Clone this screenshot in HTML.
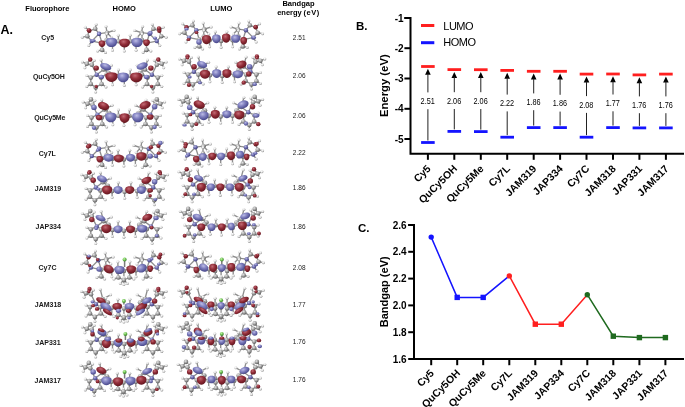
<!DOCTYPE html>
<html><head><meta charset="utf-8"><title>Figure</title>
<style>
html,body{margin:0;padding:0;background:#fff;}
body{width:685px;height:407px;overflow:hidden;position:relative;font-family:"Liberation Sans", sans-serif;}
</style></head><body>
<svg width="685" height="407" viewBox="0 0 685 407" style="position:absolute;left:0;top:0;will-change:transform">
<defs>
<radialGradient id="gr" cx="40%" cy="32%" r="70%"><stop offset="0" stop-color="#c26a74"/><stop offset="0.45" stop-color="#94303b"/><stop offset="1" stop-color="#62141d"/></radialGradient>
<radialGradient id="gb" cx="40%" cy="32%" r="70%"><stop offset="0" stop-color="#bcbce6"/><stop offset="0.45" stop-color="#7e7ebe"/><stop offset="1" stop-color="#454588"/></radialGradient>
<radialGradient id="gc" cx="38%" cy="32%" r="70%"><stop offset="0" stop-color="#e6e6e6"/><stop offset="0.5" stop-color="#a2a2a2"/><stop offset="1" stop-color="#555555"/></radialGradient>
<radialGradient id="gh" cx="38%" cy="32%" r="70%"><stop offset="0" stop-color="#ffffff"/><stop offset="0.55" stop-color="#dedede"/><stop offset="1" stop-color="#8a8a8a"/></radialGradient>
<radialGradient id="go" cx="38%" cy="32%" r="70%"><stop offset="0" stop-color="#c06070"/><stop offset="0.5" stop-color="#8c2c36"/><stop offset="1" stop-color="#5a0f18"/></radialGradient>
<radialGradient id="gn" cx="38%" cy="32%" r="70%"><stop offset="0" stop-color="#b8b8e4"/><stop offset="0.5" stop-color="#7070b0"/><stop offset="1" stop-color="#3a3a7a"/></radialGradient>
<filter id="soft" x="-5%" y="-5%" width="110%" height="110%"><feGaussianBlur stdDeviation="0.35"/></filter>
<radialGradient id="gg" cx="38%" cy="32%" r="70%"><stop offset="0" stop-color="#c8f8b0"/><stop offset="0.5" stop-color="#72c456"/><stop offset="1" stop-color="#3a7a2a"/></radialGradient>
</defs>
<g font-family='"Liberation Sans", sans-serif' fill="#000">
<text x="0.5" y="34.2" font-size="12.5" font-weight="bold">A.</text>
<text x="25.3" y="10.8" font-size="7.5" font-weight="bold">Fluorophore</text>
<text x="112.6" y="10.9" font-size="7.5" font-weight="bold">HOMO</text>
<text x="210.2" y="10.9" font-size="7.5" font-weight="bold">LUMO</text>
<text x="282.4" y="5.8" font-size="7.5" font-weight="bold">Bandgap</text>
<text x="277.2" y="14.8" font-size="7.5" font-weight="bold">energy<tspan x="303.4" letter-spacing="0.6">(eV)</tspan></text>
<text x="47.65" y="40.4" font-size="7" font-weight="bold" text-anchor="middle" fill="#1a1a1a">Cy5</text>
<text x="48.9" y="79.3" font-size="7" font-weight="bold" text-anchor="middle" fill="#1a1a1a" letter-spacing="-0.2">QuCy5OH</text>
<text x="49.75" y="119.8" font-size="7" font-weight="bold" text-anchor="middle" fill="#1a1a1a" letter-spacing="-0.2">QuCy5Me</text>
<text x="47.3" y="155.6" font-size="7" font-weight="bold" text-anchor="middle" fill="#1a1a1a">Cy7L</text>
<text x="48" y="190.9" font-size="7" font-weight="bold" text-anchor="middle" fill="#1a1a1a">JAM319</text>
<text x="48.25" y="229.3" font-size="7" font-weight="bold" text-anchor="middle" fill="#1a1a1a">JAP334</text>
<text x="47.5" y="269.6" font-size="7" font-weight="bold" text-anchor="middle" fill="#1a1a1a">Cy7C</text>
<text x="48" y="307.4" font-size="7" font-weight="bold" text-anchor="middle" fill="#1a1a1a">JAM318</text>
<text x="48" y="344.5" font-size="7" font-weight="bold" text-anchor="middle" fill="#1a1a1a">JAP331</text>
<text x="47.75" y="383.4" font-size="7" font-weight="bold" text-anchor="middle" fill="#1a1a1a">JAM317</text>
<text x="299.2" y="39.7" font-size="6.5" text-anchor="middle" fill="#222">2.51</text>
<text x="299.2" y="77.8" font-size="6.5" text-anchor="middle" fill="#222">2.06</text>
<text x="299.2" y="118.4" font-size="6.5" text-anchor="middle" fill="#222">2.06</text>
<text x="299.2" y="155.3" font-size="6.5" text-anchor="middle" fill="#222">2.22</text>
<text x="299.2" y="190.2" font-size="6.5" text-anchor="middle" fill="#222">1.86</text>
<text x="299.2" y="228.9" font-size="6.5" text-anchor="middle" fill="#222">1.86</text>
<text x="299.2" y="269.5" font-size="6.5" text-anchor="middle" fill="#222">2.08</text>
<text x="299.2" y="307.0" font-size="6.5" text-anchor="middle" fill="#222">1.77</text>
<text x="299.2" y="344.0" font-size="6.5" text-anchor="middle" fill="#222">1.76</text>
<text x="299.2" y="382.1" font-size="6.5" text-anchor="middle" fill="#222">1.76</text>
</g>
<g filter="url(#soft)">
<path d="M85.4 27.3L89.3 30.8M89.3 30.8L87.3 36.2M87.3 36.2L82.4 37.2M89.3 30.8L95.2 28.8M95.2 28.8L96.2 24.4M95.2 28.8L99.1 33.7M87.3 36.2L91.8 41.1M91.8 41.1L88.8 45.5M99.1 33.7L91.8 41.1M99.1 33.7L107.0 32.7M107.0 32.7L106.0 26.5M107.0 32.7L114.0 30.5M91.8 41.1L102.1 43.1M99.1 33.7L102.1 43.1M102.1 43.1L102.1 49.9M102.1 49.9L97.7 50.9M102.1 49.9L105.5 52.4M107.0 32.7L111.6 37.5M163.2 27.3L159.3 30.8M159.3 30.8L161.3 36.2M161.3 36.2L166.2 37.2M159.3 30.8L153.4 28.8M153.4 28.8L152.4 24.4M153.4 28.8L149.5 33.7M161.3 36.2L156.8 41.1M156.8 41.1L159.8 45.5M149.5 33.7L156.8 41.1M149.5 33.7L141.6 32.7M141.6 32.7L142.6 26.5M141.6 32.7L134.6 30.5M156.8 41.1L146.5 43.1M149.5 33.7L146.5 43.1M146.5 43.1L146.5 49.9M146.5 49.9L150.9 50.9M146.5 49.9L143.1 52.4M141.6 32.7L137.0 37.5M106.6 40.0L106.6 34.0M112.5 43.8L112.5 50.3M118.4 41.3L118.4 35.3M124.3 44.5L124.3 51.0M130.2 41.3L130.2 35.3M136.1 43.8L136.1 50.3M142.0 40.0L142.0 34.0M106.6 40.0L112.5 43.8M112.5 43.8L118.4 41.3M118.4 41.3L124.3 44.5M124.3 44.5L130.2 41.3M130.2 41.3L136.1 43.8M136.1 43.8L142.0 40.0" stroke="#8e8e8e" stroke-width="1.35" fill="none" stroke-linecap="round"/>
<circle cx="85.4" cy="27.3" r="1.5" fill="url(#gh)"/>
<circle cx="89.3" cy="30.8" r="2.2" fill="url(#go)"/>
<circle cx="87.3" cy="36.2" r="2.3" fill="url(#gc)"/>
<circle cx="82.4" cy="37.2" r="1.5" fill="url(#gh)"/>
<circle cx="95.2" cy="28.8" r="2.3" fill="url(#gc)"/>
<circle cx="96.2" cy="24.4" r="1.5" fill="url(#gh)"/>
<circle cx="99.1" cy="33.7" r="2.2" fill="url(#gn)"/>
<circle cx="91.8" cy="41.1" r="2.2" fill="url(#gn)"/>
<circle cx="88.8" cy="45.5" r="1.5" fill="url(#gh)"/>
<circle cx="107.0" cy="32.7" r="2.3" fill="url(#gc)"/>
<circle cx="106.0" cy="26.5" r="1.5" fill="url(#gh)"/>
<circle cx="114.0" cy="30.5" r="1.5" fill="url(#gh)"/>
<circle cx="102.1" cy="43.1" r="2.3" fill="url(#gc)"/>
<circle cx="102.1" cy="49.9" r="2.3" fill="url(#gc)"/>
<circle cx="97.7" cy="50.9" r="1.5" fill="url(#gh)"/>
<circle cx="105.5" cy="52.4" r="1.5" fill="url(#gh)"/>
<circle cx="111.6" cy="37.5" r="1.5" fill="url(#gh)"/>
<circle cx="163.2" cy="27.3" r="1.5" fill="url(#gh)"/>
<circle cx="159.3" cy="30.8" r="2.2" fill="url(#go)"/>
<circle cx="161.3" cy="36.2" r="2.3" fill="url(#gc)"/>
<circle cx="166.2" cy="37.2" r="1.5" fill="url(#gh)"/>
<circle cx="153.4" cy="28.8" r="2.3" fill="url(#gc)"/>
<circle cx="152.4" cy="24.4" r="1.5" fill="url(#gh)"/>
<circle cx="149.5" cy="33.7" r="2.2" fill="url(#gn)"/>
<circle cx="156.8" cy="41.1" r="2.2" fill="url(#gn)"/>
<circle cx="159.8" cy="45.5" r="1.5" fill="url(#gh)"/>
<circle cx="141.6" cy="32.7" r="2.3" fill="url(#gc)"/>
<circle cx="142.6" cy="26.5" r="1.5" fill="url(#gh)"/>
<circle cx="134.6" cy="30.5" r="1.5" fill="url(#gh)"/>
<circle cx="146.5" cy="43.1" r="2.3" fill="url(#gc)"/>
<circle cx="146.5" cy="49.9" r="2.3" fill="url(#gc)"/>
<circle cx="150.9" cy="50.9" r="1.5" fill="url(#gh)"/>
<circle cx="143.1" cy="52.4" r="1.5" fill="url(#gh)"/>
<circle cx="137.0" cy="37.5" r="1.5" fill="url(#gh)"/>
<circle cx="106.6" cy="40.0" r="2.3" fill="url(#gc)"/>
<circle cx="106.6" cy="34.0" r="1.5" fill="url(#gh)"/>
<circle cx="112.5" cy="43.8" r="2.3" fill="url(#gc)"/>
<circle cx="112.5" cy="50.3" r="1.5" fill="url(#gh)"/>
<circle cx="118.4" cy="41.3" r="2.3" fill="url(#gc)"/>
<circle cx="118.4" cy="35.3" r="1.5" fill="url(#gh)"/>
<circle cx="124.3" cy="44.5" r="2.3" fill="url(#gc)"/>
<circle cx="124.3" cy="51.0" r="1.5" fill="url(#gh)"/>
<circle cx="130.2" cy="41.3" r="2.3" fill="url(#gc)"/>
<circle cx="130.2" cy="35.3" r="1.5" fill="url(#gh)"/>
<circle cx="136.1" cy="43.8" r="2.3" fill="url(#gc)"/>
<circle cx="136.1" cy="50.3" r="1.5" fill="url(#gh)"/>
<circle cx="142.0" cy="40.0" r="2.3" fill="url(#gc)"/>
<circle cx="142.0" cy="34.0" r="1.5" fill="url(#gh)"/>
<path d="M106.16 39.90C107.44 37.09 115.56 37.09 116.84 39.90C118.00 42.94 115.85 47.05 111.50 47.05C107.15 47.05 105.00 42.94 106.16 39.90Z" fill="url(#gb)"/>
<path d="M119.53 40.82C120.74 38.18 128.46 38.18 129.67 40.82C130.77 43.68 128.73 47.55 124.60 47.55C120.47 47.55 118.43 43.68 119.53 40.82Z" fill="url(#gr)"/>
<path d="M131.66 39.90C132.94 37.09 141.06 37.09 142.34 39.90C143.50 42.94 141.35 47.05 137.00 47.05C132.65 47.05 130.50 42.94 131.66 39.90Z" fill="url(#gb)"/>
<path d="M98.80 42.02C99.56 40.03 104.44 40.03 105.20 42.02C105.90 44.16 104.61 47.06 102.00 47.06C99.39 47.06 98.10 44.16 98.80 42.02Z" fill="url(#gr)"/>
<path d="M143.30 41.02C144.06 39.03 148.94 39.03 149.70 41.02C150.40 43.16 149.11 46.06 146.50 46.06C143.89 46.06 142.60 43.16 143.30 41.02Z" fill="url(#gr)"/>
<ellipse cx="88.9" cy="30.3" rx="2.20" ry="2.16" fill="url(#gr)"/>
<ellipse cx="159.0" cy="28.4" rx="2.20" ry="2.16" fill="url(#gr)"/>
<ellipse cx="99.0" cy="34.0" rx="2.20" ry="1.62" fill="url(#gb)"/>
<ellipse cx="93.0" cy="40.5" rx="2.75" ry="1.62" fill="url(#gb)"/>
<ellipse cx="150.5" cy="33.0" rx="2.20" ry="2.16" fill="url(#gb)"/>
<ellipse cx="155.0" cy="38.0" rx="2.20" ry="1.62" fill="url(#gb)"/>
<path d="M182.6 23.8L186.5 27.3M186.5 27.3L184.5 32.7M184.5 32.7L179.6 33.7M186.5 27.3L192.4 25.3M192.4 25.3L193.4 20.9M192.4 25.3L196.3 30.2M184.5 32.7L189.0 37.6M189.0 37.6L186.0 42.0M196.3 30.2L189.0 37.6M196.3 30.2L204.2 29.2M204.2 29.2L203.2 23.0M204.2 29.2L211.2 27.0M189.0 37.6L199.3 39.6M196.3 30.2L199.3 39.6M199.3 39.6L199.3 46.4M199.3 46.4L194.9 47.4M199.3 46.4L202.7 48.9M204.2 29.2L208.8 34.0M259.6 23.8L255.7 27.3M255.7 27.3L257.7 32.7M257.7 32.7L262.6 33.7M255.7 27.3L249.8 25.3M249.8 25.3L248.8 20.9M249.8 25.3L245.9 30.2M257.7 32.7L253.2 37.6M253.2 37.6L256.2 42.0M245.9 30.2L253.2 37.6M245.9 30.2L238.0 29.2M238.0 29.2L239.0 23.0M238.0 29.2L231.0 27.0M253.2 37.6L242.9 39.6M245.9 30.2L242.9 39.6M242.9 39.6L242.9 46.4M242.9 46.4L247.3 47.4M242.9 46.4L239.5 48.9M238.0 29.2L233.4 34.0M203.8 36.5L203.8 30.5M209.6 40.3L209.6 46.8M215.3 37.8L215.3 31.8M221.1 41.0L221.1 47.5M226.9 37.8L226.9 31.8M232.6 40.3L232.6 46.8M238.4 36.5L238.4 30.5M203.8 36.5L209.6 40.3M209.6 40.3L215.3 37.8M215.3 37.8L221.1 41.0M221.1 41.0L226.9 37.8M226.9 37.8L232.6 40.3M232.6 40.3L238.4 36.5" stroke="#8e8e8e" stroke-width="1.35" fill="none" stroke-linecap="round"/>
<circle cx="182.6" cy="23.8" r="1.5" fill="url(#gh)"/>
<circle cx="186.5" cy="27.3" r="2.2" fill="url(#go)"/>
<circle cx="184.5" cy="32.7" r="2.3" fill="url(#gc)"/>
<circle cx="179.6" cy="33.7" r="1.5" fill="url(#gh)"/>
<circle cx="192.4" cy="25.3" r="2.3" fill="url(#gc)"/>
<circle cx="193.4" cy="20.9" r="1.5" fill="url(#gh)"/>
<circle cx="196.3" cy="30.2" r="2.2" fill="url(#gn)"/>
<circle cx="189.0" cy="37.6" r="2.2" fill="url(#gn)"/>
<circle cx="186.0" cy="42.0" r="1.5" fill="url(#gh)"/>
<circle cx="204.2" cy="29.2" r="2.3" fill="url(#gc)"/>
<circle cx="203.2" cy="23.0" r="1.5" fill="url(#gh)"/>
<circle cx="211.2" cy="27.0" r="1.5" fill="url(#gh)"/>
<circle cx="199.3" cy="39.6" r="2.3" fill="url(#gc)"/>
<circle cx="199.3" cy="46.4" r="2.3" fill="url(#gc)"/>
<circle cx="194.9" cy="47.4" r="1.5" fill="url(#gh)"/>
<circle cx="202.7" cy="48.9" r="1.5" fill="url(#gh)"/>
<circle cx="208.8" cy="34.0" r="1.5" fill="url(#gh)"/>
<circle cx="259.6" cy="23.8" r="1.5" fill="url(#gh)"/>
<circle cx="255.7" cy="27.3" r="2.2" fill="url(#go)"/>
<circle cx="257.7" cy="32.7" r="2.3" fill="url(#gc)"/>
<circle cx="262.6" cy="33.7" r="1.5" fill="url(#gh)"/>
<circle cx="249.8" cy="25.3" r="2.3" fill="url(#gc)"/>
<circle cx="248.8" cy="20.9" r="1.5" fill="url(#gh)"/>
<circle cx="245.9" cy="30.2" r="2.2" fill="url(#gn)"/>
<circle cx="253.2" cy="37.6" r="2.2" fill="url(#gn)"/>
<circle cx="256.2" cy="42.0" r="1.5" fill="url(#gh)"/>
<circle cx="238.0" cy="29.2" r="2.3" fill="url(#gc)"/>
<circle cx="239.0" cy="23.0" r="1.5" fill="url(#gh)"/>
<circle cx="231.0" cy="27.0" r="1.5" fill="url(#gh)"/>
<circle cx="242.9" cy="39.6" r="2.3" fill="url(#gc)"/>
<circle cx="242.9" cy="46.4" r="2.3" fill="url(#gc)"/>
<circle cx="247.3" cy="47.4" r="1.5" fill="url(#gh)"/>
<circle cx="239.5" cy="48.9" r="1.5" fill="url(#gh)"/>
<circle cx="233.4" cy="34.0" r="1.5" fill="url(#gh)"/>
<circle cx="203.8" cy="36.5" r="2.3" fill="url(#gc)"/>
<circle cx="203.8" cy="30.5" r="1.5" fill="url(#gh)"/>
<circle cx="209.6" cy="40.3" r="2.3" fill="url(#gc)"/>
<circle cx="209.6" cy="46.8" r="1.5" fill="url(#gh)"/>
<circle cx="215.3" cy="37.8" r="2.3" fill="url(#gc)"/>
<circle cx="215.3" cy="31.8" r="1.5" fill="url(#gh)"/>
<circle cx="221.1" cy="41.0" r="2.3" fill="url(#gc)"/>
<circle cx="221.1" cy="47.5" r="1.5" fill="url(#gh)"/>
<circle cx="226.9" cy="37.8" r="2.3" fill="url(#gc)"/>
<circle cx="226.9" cy="31.8" r="1.5" fill="url(#gh)"/>
<circle cx="232.6" cy="40.3" r="2.3" fill="url(#gc)"/>
<circle cx="232.6" cy="46.8" r="1.5" fill="url(#gh)"/>
<circle cx="238.4" cy="36.5" r="2.3" fill="url(#gc)"/>
<circle cx="238.4" cy="30.5" r="1.5" fill="url(#gh)"/>
<path d="M202.23 37.00C203.25 34.19 209.75 34.19 210.77 37.00C211.70 40.04 209.98 44.15 206.50 44.15C203.02 44.15 201.30 40.04 202.23 37.00Z" fill="url(#gr)"/>
<path d="M212.40 36.42C213.36 33.78 219.44 33.78 220.40 36.42C221.27 39.28 219.66 43.15 216.40 43.15C213.14 43.15 211.53 39.28 212.40 36.42Z" fill="url(#gb)"/>
<path d="M222.20 35.50C223.16 32.69 229.24 32.69 230.20 35.50C231.07 38.54 229.46 42.65 226.20 42.65C222.94 42.65 221.33 38.54 222.20 35.50Z" fill="url(#gr)"/>
<path d="M231.43 36.54C232.45 34.07 238.95 34.07 239.97 36.54C240.90 39.23 239.18 42.85 235.70 42.85C232.22 42.85 230.50 39.23 231.43 36.54Z" fill="url(#gb)"/>
<path d="M240.50 38.77C241.26 36.46 246.14 36.46 246.90 38.77C247.60 41.27 246.31 44.66 243.70 44.66C241.09 44.66 239.80 41.27 240.50 38.77Z" fill="url(#gr)"/>
<ellipse cx="199.0" cy="42.0" rx="2.75" ry="2.70" fill="url(#gb)"/>
<ellipse cx="186.5" cy="29.0" rx="2.20" ry="1.62" fill="url(#gb)"/>
<ellipse cx="196.5" cy="32.5" rx="1.93" ry="1.62" fill="url(#gr)"/>
<ellipse cx="188.5" cy="39.5" rx="1.93" ry="1.62" fill="url(#gr)"/>
<ellipse cx="255.5" cy="27.0" rx="2.20" ry="2.16" fill="url(#gr)"/>
<ellipse cx="254.0" cy="37.5" rx="2.20" ry="1.62" fill="url(#gb)"/>
<path d="M82.4 61.9L86.8 63.8M86.8 63.8L91.8 64.8M86.8 63.8L84.9 67.8M86.8 63.8L90.3 59.4M91.8 64.8L94.2 60.4M91.8 64.8L96.7 74.7M90.8 77.6L90.8 84.0M90.8 84.0L95.7 87.4M95.7 87.4L101.6 84.0M101.6 84.0L101.1 77.6M101.1 77.6L96.7 74.7M96.7 74.7L90.8 77.6M90.8 77.6L86.8 75.6M90.8 84.0L86.8 86.4M95.7 87.4L95.7 91.9M101.6 84.0L106.0 86.9M101.1 77.6L108.6 73.0M103.6 69.5L108.6 73.0M103.6 69.5L101.1 59.9M103.6 69.5L111.4 65.3M96.7 74.7L103.6 69.5M166.2 61.9L161.8 63.8M161.8 63.8L156.8 64.8M161.8 63.8L163.7 67.8M161.8 63.8L158.3 59.4M156.8 64.8L154.4 60.4M156.8 64.8L151.9 74.7M157.8 77.6L157.8 84.0M157.8 84.0L152.9 87.4M152.9 87.4L147.0 84.0M147.0 84.0L147.5 77.6M147.5 77.6L151.9 74.7M151.9 74.7L157.8 77.6M157.8 77.6L161.8 75.6M157.8 84.0L161.8 86.4M152.9 87.4L152.9 91.9M147.0 84.0L142.6 86.9M147.5 77.6L140.0 73.0M145.0 69.5L140.0 73.0M145.0 69.5L147.5 59.9M145.0 69.5L137.2 65.3M151.9 74.7L145.0 69.5M106.6 74.5L106.6 68.5M112.5 78.3L112.5 84.8M118.4 75.8L118.4 69.8M124.3 79.0L124.3 85.5M130.2 75.8L130.2 69.8M136.1 78.3L136.1 84.8M142.0 74.5L142.0 68.5M106.6 74.5L112.5 78.3M112.5 78.3L118.4 75.8M118.4 75.8L124.3 79.0M124.3 79.0L130.2 75.8M130.2 75.8L136.1 78.3M136.1 78.3L142.0 74.5" stroke="#8e8e8e" stroke-width="1.35" fill="none" stroke-linecap="round"/>
<circle cx="86.8" cy="63.8" r="2.3" fill="url(#gc)"/>
<circle cx="91.8" cy="64.8" r="2.3" fill="url(#gc)"/>
<circle cx="90.3" cy="59.4" r="2.2" fill="url(#go)"/>
<circle cx="82.4" cy="61.9" r="1.5" fill="url(#gh)"/>
<circle cx="94.2" cy="60.4" r="1.5" fill="url(#gh)"/>
<circle cx="84.9" cy="67.8" r="1.5" fill="url(#gh)"/>
<circle cx="90.8" cy="77.6" r="2.3" fill="url(#gc)"/>
<circle cx="90.8" cy="84.0" r="2.3" fill="url(#gc)"/>
<circle cx="95.7" cy="87.4" r="2.3" fill="url(#gc)"/>
<circle cx="101.6" cy="84.0" r="2.3" fill="url(#gc)"/>
<circle cx="101.1" cy="77.6" r="2.3" fill="url(#gc)"/>
<circle cx="96.7" cy="74.7" r="2.2" fill="url(#gn)"/>
<circle cx="86.8" cy="75.6" r="1.5" fill="url(#gh)"/>
<circle cx="86.8" cy="86.4" r="1.5" fill="url(#gh)"/>
<circle cx="95.7" cy="91.9" r="1.5" fill="url(#gh)"/>
<circle cx="106.0" cy="86.9" r="1.5" fill="url(#gh)"/>
<circle cx="103.6" cy="69.5" r="2.3" fill="url(#gc)"/>
<circle cx="101.1" cy="59.9" r="1.5" fill="url(#gh)"/>
<circle cx="111.4" cy="65.3" r="1.5" fill="url(#gh)"/>
<circle cx="108.6" cy="73.0" r="2.3" fill="url(#gc)"/>
<circle cx="161.8" cy="63.8" r="2.3" fill="url(#gc)"/>
<circle cx="156.8" cy="64.8" r="2.3" fill="url(#gc)"/>
<circle cx="158.3" cy="59.4" r="2.2" fill="url(#go)"/>
<circle cx="166.2" cy="61.9" r="1.5" fill="url(#gh)"/>
<circle cx="154.4" cy="60.4" r="1.5" fill="url(#gh)"/>
<circle cx="163.7" cy="67.8" r="1.5" fill="url(#gh)"/>
<circle cx="157.8" cy="77.6" r="2.3" fill="url(#gc)"/>
<circle cx="157.8" cy="84.0" r="2.3" fill="url(#gc)"/>
<circle cx="152.9" cy="87.4" r="2.3" fill="url(#gc)"/>
<circle cx="147.0" cy="84.0" r="2.3" fill="url(#gc)"/>
<circle cx="147.5" cy="77.6" r="2.3" fill="url(#gc)"/>
<circle cx="151.9" cy="74.7" r="2.2" fill="url(#gn)"/>
<circle cx="161.8" cy="75.6" r="1.5" fill="url(#gh)"/>
<circle cx="161.8" cy="86.4" r="1.5" fill="url(#gh)"/>
<circle cx="152.9" cy="91.9" r="1.5" fill="url(#gh)"/>
<circle cx="142.6" cy="86.9" r="1.5" fill="url(#gh)"/>
<circle cx="145.0" cy="69.5" r="2.3" fill="url(#gc)"/>
<circle cx="147.5" cy="59.9" r="1.5" fill="url(#gh)"/>
<circle cx="137.2" cy="65.3" r="1.5" fill="url(#gh)"/>
<circle cx="140.0" cy="73.0" r="2.3" fill="url(#gc)"/>
<circle cx="106.6" cy="74.5" r="2.3" fill="url(#gc)"/>
<circle cx="106.6" cy="68.5" r="1.5" fill="url(#gh)"/>
<circle cx="112.5" cy="78.3" r="2.3" fill="url(#gc)"/>
<circle cx="112.5" cy="84.8" r="1.5" fill="url(#gh)"/>
<circle cx="118.4" cy="75.8" r="2.3" fill="url(#gc)"/>
<circle cx="118.4" cy="69.8" r="1.5" fill="url(#gh)"/>
<circle cx="124.3" cy="79.0" r="2.3" fill="url(#gc)"/>
<circle cx="124.3" cy="85.5" r="1.5" fill="url(#gh)"/>
<circle cx="130.2" cy="75.8" r="2.3" fill="url(#gc)"/>
<circle cx="130.2" cy="69.8" r="1.5" fill="url(#gh)"/>
<circle cx="136.1" cy="78.3" r="2.3" fill="url(#gc)"/>
<circle cx="136.1" cy="84.8" r="1.5" fill="url(#gh)"/>
<circle cx="142.0" cy="74.5" r="2.3" fill="url(#gc)"/>
<circle cx="142.0" cy="68.5" r="1.5" fill="url(#gh)"/>
<path d="M105.63 74.37C107.03 71.40 115.97 71.40 117.37 74.37C118.65 77.59 116.28 81.95 111.50 81.95C106.72 81.95 104.35 77.59 105.63 74.37Z" fill="url(#gr)"/>
<path d="M117.86 74.67C119.14 71.70 127.26 71.70 128.54 74.67C129.70 77.89 127.55 82.25 123.20 82.25C118.85 82.25 116.70 77.89 117.86 74.67Z" fill="url(#gb)"/>
<path d="M130.43 74.67C131.83 71.70 140.77 71.70 142.17 74.67C143.45 77.89 141.09 82.25 136.30 82.25C131.52 82.25 129.15 77.89 130.43 74.67Z" fill="url(#gr)"/>
<ellipse cx="105.7" cy="66.7" rx="5.80" ry="3.30" fill="url(#gb)" transform="rotate(20 105.7 66.7)"/>
<ellipse cx="96.2" cy="68.1" rx="2.75" ry="2.70" fill="url(#gr)"/>
<ellipse cx="101.3" cy="76.9" rx="2.75" ry="2.16" fill="url(#gb)"/>
<ellipse cx="142.2" cy="66.0" rx="5.80" ry="3.30" fill="url(#gb)" transform="rotate(-20 142.2 66.0)"/>
<ellipse cx="150.9" cy="68.1" rx="2.75" ry="2.70" fill="url(#gr)"/>
<ellipse cx="146.5" cy="76.9" rx="2.75" ry="2.16" fill="url(#gb)"/>
<ellipse cx="90.3" cy="60.0" rx="1.65" ry="1.62" fill="url(#gr)"/>
<ellipse cx="158.2" cy="60.0" rx="1.65" ry="1.62" fill="url(#gr)"/>
<ellipse cx="96.2" cy="86.4" rx="1.65" ry="1.62" fill="url(#gr)"/>
<ellipse cx="151.6" cy="86.4" rx="1.65" ry="1.62" fill="url(#gr)"/>
<path d="M179.6 58.9L184.0 60.8M184.0 60.8L189.0 61.8M184.0 60.8L182.1 64.8M184.0 60.8L187.5 56.4M189.0 61.8L191.4 57.4M189.0 61.8L193.9 71.7M188.0 74.6L188.0 81.0M188.0 81.0L192.9 84.4M192.9 84.4L198.8 81.0M198.8 81.0L198.3 74.6M198.3 74.6L193.9 71.7M193.9 71.7L188.0 74.6M188.0 74.6L184.0 72.6M188.0 81.0L184.0 83.4M192.9 84.4L192.9 88.9M198.8 81.0L203.2 83.9M198.3 74.6L205.8 70.0M200.8 66.5L205.8 70.0M200.8 66.5L198.3 56.9M200.8 66.5L208.6 62.3M193.9 71.7L200.8 66.5M264.8 58.9L260.4 60.8M260.4 60.8L255.4 61.8M260.4 60.8L262.3 64.8M260.4 60.8L256.9 56.4M255.4 61.8L253.0 57.4M255.4 61.8L250.5 71.7M256.4 74.6L256.4 81.0M256.4 81.0L251.5 84.4M251.5 84.4L245.6 81.0M245.6 81.0L246.1 74.6M246.1 74.6L250.5 71.7M250.5 71.7L256.4 74.6M256.4 74.6L260.4 72.6M256.4 81.0L260.4 83.4M251.5 84.4L251.5 88.9M245.6 81.0L241.2 83.9M246.1 74.6L238.6 70.0M243.6 66.5L238.6 70.0M243.6 66.5L246.1 56.9M243.6 66.5L235.8 62.3M250.5 71.7L243.6 66.5M203.8 71.5L203.8 65.5M209.9 75.3L209.9 81.8M216.1 72.8L216.1 66.8M222.2 76.0L222.2 82.5M228.3 72.8L228.3 66.8M234.5 75.3L234.5 81.8M240.6 71.5L240.6 65.5M203.8 71.5L209.9 75.3M209.9 75.3L216.1 72.8M216.1 72.8L222.2 76.0M222.2 76.0L228.3 72.8M228.3 72.8L234.5 75.3M234.5 75.3L240.6 71.5" stroke="#8e8e8e" stroke-width="1.35" fill="none" stroke-linecap="round"/>
<circle cx="184.0" cy="60.8" r="2.3" fill="url(#gc)"/>
<circle cx="189.0" cy="61.8" r="2.3" fill="url(#gc)"/>
<circle cx="187.5" cy="56.4" r="2.2" fill="url(#go)"/>
<circle cx="179.6" cy="58.9" r="1.5" fill="url(#gh)"/>
<circle cx="191.4" cy="57.4" r="1.5" fill="url(#gh)"/>
<circle cx="182.1" cy="64.8" r="1.5" fill="url(#gh)"/>
<circle cx="188.0" cy="74.6" r="2.3" fill="url(#gc)"/>
<circle cx="188.0" cy="81.0" r="2.3" fill="url(#gc)"/>
<circle cx="192.9" cy="84.4" r="2.3" fill="url(#gc)"/>
<circle cx="198.8" cy="81.0" r="2.3" fill="url(#gc)"/>
<circle cx="198.3" cy="74.6" r="2.3" fill="url(#gc)"/>
<circle cx="193.9" cy="71.7" r="2.2" fill="url(#gn)"/>
<circle cx="184.0" cy="72.6" r="1.5" fill="url(#gh)"/>
<circle cx="184.0" cy="83.4" r="1.5" fill="url(#gh)"/>
<circle cx="192.9" cy="88.9" r="1.5" fill="url(#gh)"/>
<circle cx="203.2" cy="83.9" r="1.5" fill="url(#gh)"/>
<circle cx="200.8" cy="66.5" r="2.3" fill="url(#gc)"/>
<circle cx="198.3" cy="56.9" r="1.5" fill="url(#gh)"/>
<circle cx="208.6" cy="62.3" r="1.5" fill="url(#gh)"/>
<circle cx="205.8" cy="70.0" r="2.3" fill="url(#gc)"/>
<circle cx="260.4" cy="60.8" r="2.3" fill="url(#gc)"/>
<circle cx="255.4" cy="61.8" r="2.3" fill="url(#gc)"/>
<circle cx="256.9" cy="56.4" r="2.2" fill="url(#go)"/>
<circle cx="264.8" cy="58.9" r="1.5" fill="url(#gh)"/>
<circle cx="253.0" cy="57.4" r="1.5" fill="url(#gh)"/>
<circle cx="262.3" cy="64.8" r="1.5" fill="url(#gh)"/>
<circle cx="256.4" cy="74.6" r="2.3" fill="url(#gc)"/>
<circle cx="256.4" cy="81.0" r="2.3" fill="url(#gc)"/>
<circle cx="251.5" cy="84.4" r="2.3" fill="url(#gc)"/>
<circle cx="245.6" cy="81.0" r="2.3" fill="url(#gc)"/>
<circle cx="246.1" cy="74.6" r="2.3" fill="url(#gc)"/>
<circle cx="250.5" cy="71.7" r="2.2" fill="url(#gn)"/>
<circle cx="260.4" cy="72.6" r="1.5" fill="url(#gh)"/>
<circle cx="260.4" cy="83.4" r="1.5" fill="url(#gh)"/>
<circle cx="251.5" cy="88.9" r="1.5" fill="url(#gh)"/>
<circle cx="241.2" cy="83.9" r="1.5" fill="url(#gh)"/>
<circle cx="243.6" cy="66.5" r="2.3" fill="url(#gc)"/>
<circle cx="246.1" cy="56.9" r="1.5" fill="url(#gh)"/>
<circle cx="235.8" cy="62.3" r="1.5" fill="url(#gh)"/>
<circle cx="238.6" cy="70.0" r="2.3" fill="url(#gc)"/>
<circle cx="203.8" cy="71.5" r="2.3" fill="url(#gc)"/>
<circle cx="203.8" cy="65.5" r="1.5" fill="url(#gh)"/>
<circle cx="209.9" cy="75.3" r="2.3" fill="url(#gc)"/>
<circle cx="209.9" cy="81.8" r="1.5" fill="url(#gh)"/>
<circle cx="216.1" cy="72.8" r="2.3" fill="url(#gc)"/>
<circle cx="216.1" cy="66.8" r="1.5" fill="url(#gh)"/>
<circle cx="222.2" cy="76.0" r="2.3" fill="url(#gc)"/>
<circle cx="222.2" cy="82.5" r="1.5" fill="url(#gh)"/>
<circle cx="228.3" cy="72.8" r="2.3" fill="url(#gc)"/>
<circle cx="228.3" cy="66.8" r="1.5" fill="url(#gh)"/>
<circle cx="234.5" cy="75.3" r="2.3" fill="url(#gc)"/>
<circle cx="234.5" cy="81.8" r="1.5" fill="url(#gh)"/>
<circle cx="240.6" cy="71.5" r="2.3" fill="url(#gc)"/>
<circle cx="240.6" cy="65.5" r="1.5" fill="url(#gh)"/>
<path d="M200.20 72.02C201.35 69.38 208.65 69.38 209.80 72.02C210.85 74.88 208.91 78.75 205.00 78.75C201.09 78.75 199.15 74.88 200.20 72.02Z" fill="url(#gr)"/>
<path d="M212.43 71.22C213.45 68.58 219.95 68.58 220.97 71.22C221.90 74.08 220.18 77.95 216.70 77.95C213.22 77.95 211.50 74.08 212.43 71.22Z" fill="url(#gb)"/>
<path d="M222.63 71.22C223.65 68.58 230.15 68.58 231.17 71.22C232.10 74.08 230.38 77.95 226.90 77.95C223.42 77.95 221.70 74.08 222.63 71.22Z" fill="url(#gr)"/>
<path d="M233.10 72.27C234.25 69.96 241.55 69.96 242.70 72.27C243.75 74.77 241.81 78.16 237.90 78.16C233.99 78.16 232.05 74.77 233.10 72.27Z" fill="url(#gb)"/>
<ellipse cx="248.8" cy="74.0" rx="2.75" ry="2.70" fill="url(#gr)"/>
<ellipse cx="202.1" cy="64.5" rx="5.22" ry="3.30" fill="url(#gb)" transform="rotate(20 202.1 64.5)"/>
<ellipse cx="194.1" cy="66.7" rx="2.75" ry="2.70" fill="url(#gr)"/>
<ellipse cx="241.5" cy="64.5" rx="5.22" ry="3.85" fill="url(#gr)" transform="rotate(-20 241.5 64.5)"/>
<ellipse cx="249.6" cy="66.7" rx="2.75" ry="2.70" fill="url(#gb)"/>
<ellipse cx="189.7" cy="76.9" rx="1.93" ry="1.62" fill="url(#gb)"/>
<ellipse cx="189.0" cy="85.0" rx="2.20" ry="1.89" fill="url(#gr)"/>
<ellipse cx="199.9" cy="82.7" rx="1.93" ry="1.62" fill="url(#gb)"/>
<ellipse cx="254.7" cy="84.2" rx="2.20" ry="1.89" fill="url(#gb)"/>
<ellipse cx="243.7" cy="82.7" rx="2.20" ry="2.16" fill="url(#gr)"/>
<ellipse cx="187.5" cy="58.0" rx="1.65" ry="1.62" fill="url(#gr)"/>
<ellipse cx="256.9" cy="58.0" rx="1.65" ry="1.62" fill="url(#gr)"/>
<path d="M83.1 101.9L87.5 103.8M87.5 103.8L92.5 104.8M87.5 103.8L85.6 107.8M87.5 103.8L91.0 99.4M92.5 104.8L94.9 100.4M92.5 104.8L97.4 114.7M91.5 117.6L91.5 124.0M91.5 124.0L96.4 127.4M96.4 127.4L102.3 124.0M102.3 124.0L101.8 117.6M101.8 117.6L97.4 114.7M97.4 114.7L91.5 117.6M91.5 117.6L87.5 115.6M91.5 124.0L87.5 126.4M96.4 127.4L96.4 131.9M102.3 124.0L106.7 126.9M101.8 117.6L109.3 113.0M104.3 109.5L109.3 113.0M104.3 109.5L101.8 99.9M104.3 109.5L112.1 105.3M97.4 114.7L104.3 109.5M164.7 101.9L160.3 103.8M160.3 103.8L155.3 104.8M160.3 103.8L162.2 107.8M160.3 103.8L156.8 99.4M155.3 104.8L152.9 100.4M155.3 104.8L150.4 114.7M156.3 117.6L156.3 124.0M156.3 124.0L151.4 127.4M151.4 127.4L145.5 124.0M145.5 124.0L146.0 117.6M146.0 117.6L150.4 114.7M150.4 114.7L156.3 117.6M156.3 117.6L160.3 115.6M156.3 124.0L160.3 126.4M151.4 127.4L151.4 131.9M145.5 124.0L141.1 126.9M146.0 117.6L138.5 113.0M143.5 109.5L138.5 113.0M143.5 109.5L146.0 99.9M143.5 109.5L135.7 105.3M150.4 114.7L143.5 109.5M107.3 114.5L107.3 108.5M112.8 118.3L112.8 124.8M118.4 115.8L118.4 109.8M123.9 119.0L123.9 125.5M129.4 115.8L129.4 109.8M135.0 118.3L135.0 124.8M140.5 114.5L140.5 108.5M107.3 114.5L112.8 118.3M112.8 118.3L118.4 115.8M118.4 115.8L123.9 119.0M123.9 119.0L129.4 115.8M129.4 115.8L135.0 118.3M135.0 118.3L140.5 114.5" stroke="#8e8e8e" stroke-width="1.35" fill="none" stroke-linecap="round"/>
<circle cx="87.5" cy="103.8" r="2.3" fill="url(#gc)"/>
<circle cx="92.5" cy="104.8" r="2.3" fill="url(#gc)"/>
<circle cx="91.0" cy="99.4" r="2.3" fill="url(#gc)"/>
<circle cx="83.1" cy="101.9" r="1.5" fill="url(#gh)"/>
<circle cx="94.9" cy="100.4" r="1.5" fill="url(#gh)"/>
<circle cx="85.6" cy="107.8" r="1.5" fill="url(#gh)"/>
<circle cx="91.5" cy="117.6" r="2.3" fill="url(#gc)"/>
<circle cx="91.5" cy="124.0" r="2.3" fill="url(#gc)"/>
<circle cx="96.4" cy="127.4" r="2.3" fill="url(#gc)"/>
<circle cx="102.3" cy="124.0" r="2.3" fill="url(#gc)"/>
<circle cx="101.8" cy="117.6" r="2.3" fill="url(#gc)"/>
<circle cx="97.4" cy="114.7" r="2.2" fill="url(#gn)"/>
<circle cx="87.5" cy="115.6" r="1.5" fill="url(#gh)"/>
<circle cx="87.5" cy="126.4" r="1.5" fill="url(#gh)"/>
<circle cx="96.4" cy="131.9" r="1.5" fill="url(#gh)"/>
<circle cx="106.7" cy="126.9" r="1.5" fill="url(#gh)"/>
<circle cx="104.3" cy="109.5" r="2.3" fill="url(#gc)"/>
<circle cx="101.8" cy="99.9" r="1.5" fill="url(#gh)"/>
<circle cx="112.1" cy="105.3" r="1.5" fill="url(#gh)"/>
<circle cx="109.3" cy="113.0" r="2.3" fill="url(#gc)"/>
<circle cx="160.3" cy="103.8" r="2.3" fill="url(#gc)"/>
<circle cx="155.3" cy="104.8" r="2.3" fill="url(#gc)"/>
<circle cx="156.8" cy="99.4" r="2.3" fill="url(#gc)"/>
<circle cx="164.7" cy="101.9" r="1.5" fill="url(#gh)"/>
<circle cx="152.9" cy="100.4" r="1.5" fill="url(#gh)"/>
<circle cx="162.2" cy="107.8" r="1.5" fill="url(#gh)"/>
<circle cx="156.3" cy="117.6" r="2.3" fill="url(#gc)"/>
<circle cx="156.3" cy="124.0" r="2.3" fill="url(#gc)"/>
<circle cx="151.4" cy="127.4" r="2.3" fill="url(#gc)"/>
<circle cx="145.5" cy="124.0" r="2.3" fill="url(#gc)"/>
<circle cx="146.0" cy="117.6" r="2.3" fill="url(#gc)"/>
<circle cx="150.4" cy="114.7" r="2.2" fill="url(#gn)"/>
<circle cx="160.3" cy="115.6" r="1.5" fill="url(#gh)"/>
<circle cx="160.3" cy="126.4" r="1.5" fill="url(#gh)"/>
<circle cx="151.4" cy="131.9" r="1.5" fill="url(#gh)"/>
<circle cx="141.1" cy="126.9" r="1.5" fill="url(#gh)"/>
<circle cx="143.5" cy="109.5" r="2.3" fill="url(#gc)"/>
<circle cx="146.0" cy="99.9" r="1.5" fill="url(#gh)"/>
<circle cx="135.7" cy="105.3" r="1.5" fill="url(#gh)"/>
<circle cx="138.5" cy="113.0" r="2.3" fill="url(#gc)"/>
<circle cx="107.3" cy="114.5" r="2.3" fill="url(#gc)"/>
<circle cx="107.3" cy="108.5" r="1.5" fill="url(#gh)"/>
<circle cx="112.8" cy="118.3" r="2.3" fill="url(#gc)"/>
<circle cx="112.8" cy="124.8" r="1.5" fill="url(#gh)"/>
<circle cx="118.4" cy="115.8" r="2.3" fill="url(#gc)"/>
<circle cx="118.4" cy="109.8" r="1.5" fill="url(#gh)"/>
<circle cx="123.9" cy="119.0" r="2.3" fill="url(#gc)"/>
<circle cx="123.9" cy="125.5" r="1.5" fill="url(#gh)"/>
<circle cx="129.4" cy="115.8" r="2.3" fill="url(#gc)"/>
<circle cx="129.4" cy="109.8" r="1.5" fill="url(#gh)"/>
<circle cx="135.0" cy="118.3" r="2.3" fill="url(#gc)"/>
<circle cx="135.0" cy="124.8" r="1.5" fill="url(#gh)"/>
<circle cx="140.5" cy="114.5" r="2.3" fill="url(#gc)"/>
<circle cx="140.5" cy="108.5" r="1.5" fill="url(#gh)"/>
<path d="M105.46 114.67C106.74 111.70 114.86 111.70 116.14 114.67C117.30 117.89 115.15 122.25 110.80 122.25C106.45 122.25 104.30 117.89 105.46 114.67Z" fill="url(#gb)"/>
<path d="M119.80 115.37C120.95 112.40 128.25 112.40 129.40 115.37C130.45 118.59 128.51 122.95 124.60 122.95C120.68 122.95 118.75 118.59 119.80 115.37Z" fill="url(#gr)"/>
<path d="M132.46 114.67C133.74 111.70 141.86 111.70 143.14 114.67C144.30 117.89 142.15 122.25 137.80 122.25C133.45 122.25 131.30 117.89 132.46 114.67Z" fill="url(#gb)"/>
<ellipse cx="103.5" cy="106.0" rx="5.80" ry="3.85" fill="url(#gr)" transform="rotate(20 103.5 106.0)"/>
<ellipse cx="94.0" cy="107.4" rx="2.75" ry="2.70" fill="url(#gb)"/>
<path d="M95.90 116.36C96.66 114.71 101.54 114.71 102.30 116.36C103.00 118.15 101.71 120.57 99.10 120.57C96.49 120.57 95.20 118.15 95.90 116.36Z" fill="url(#gr)"/>
<ellipse cx="145.1" cy="105.2" rx="5.80" ry="3.85" fill="url(#gr)" transform="rotate(-20 145.1 105.2)"/>
<ellipse cx="154.6" cy="106.7" rx="2.75" ry="2.70" fill="url(#gb)"/>
<path d="M147.00 115.66C147.76 114.01 152.64 114.01 153.40 115.66C154.10 117.45 152.81 119.87 150.20 119.87C147.59 119.87 146.30 117.45 147.00 115.66Z" fill="url(#gr)"/>
<ellipse cx="94.0" cy="127.8" rx="2.20" ry="2.16" fill="url(#gb)"/>
<ellipse cx="154.6" cy="127.1" rx="2.20" ry="2.16" fill="url(#gb)"/>
<path d="M178.8 99.4L183.2 101.3M183.2 101.3L188.2 102.3M183.2 101.3L181.3 105.3M183.2 101.3L186.7 96.9M188.2 102.3L190.6 97.9M188.2 102.3L193.1 112.2M187.2 115.1L187.2 121.5M187.2 121.5L192.1 124.9M192.1 124.9L198.0 121.5M198.0 121.5L197.5 115.1M197.5 115.1L193.1 112.2M193.1 112.2L187.2 115.1M187.2 115.1L183.2 113.1M187.2 121.5L183.2 123.9M192.1 124.9L192.1 129.4M198.0 121.5L202.4 124.4M197.5 115.1L205.0 110.5M200.0 107.0L205.0 110.5M200.0 107.0L197.5 97.4M200.0 107.0L207.8 102.8M193.1 112.2L200.0 107.0M262.6 99.4L258.2 101.3M258.2 101.3L253.2 102.3M258.2 101.3L260.1 105.3M258.2 101.3L254.7 96.9M253.2 102.3L250.8 97.9M253.2 102.3L248.3 112.2M254.2 115.1L254.2 121.5M254.2 121.5L249.3 124.9M249.3 124.9L243.4 121.5M243.4 121.5L243.9 115.1M243.9 115.1L248.3 112.2M248.3 112.2L254.2 115.1M254.2 115.1L258.2 113.1M254.2 121.5L258.2 123.9M249.3 124.9L249.3 129.4M243.4 121.5L239.0 124.4M243.9 115.1L236.4 110.5M241.4 107.0L236.4 110.5M241.4 107.0L243.9 97.4M241.4 107.0L233.6 102.8M248.3 112.2L241.4 107.0M203.0 112.0L203.0 106.0M208.9 115.8L208.9 122.3M214.8 113.3L214.8 107.3M220.7 116.5L220.7 123.0M226.6 113.3L226.6 107.3M232.5 115.8L232.5 122.3M238.4 112.0L238.4 106.0M203.0 112.0L208.9 115.8M208.9 115.8L214.8 113.3M214.8 113.3L220.7 116.5M220.7 116.5L226.6 113.3M226.6 113.3L232.5 115.8M232.5 115.8L238.4 112.0" stroke="#8e8e8e" stroke-width="1.35" fill="none" stroke-linecap="round"/>
<circle cx="183.2" cy="101.3" r="2.3" fill="url(#gc)"/>
<circle cx="188.2" cy="102.3" r="2.3" fill="url(#gc)"/>
<circle cx="186.7" cy="96.9" r="2.3" fill="url(#gc)"/>
<circle cx="178.8" cy="99.4" r="1.5" fill="url(#gh)"/>
<circle cx="190.6" cy="97.9" r="1.5" fill="url(#gh)"/>
<circle cx="181.3" cy="105.3" r="1.5" fill="url(#gh)"/>
<circle cx="187.2" cy="115.1" r="2.3" fill="url(#gc)"/>
<circle cx="187.2" cy="121.5" r="2.3" fill="url(#gc)"/>
<circle cx="192.1" cy="124.9" r="2.3" fill="url(#gc)"/>
<circle cx="198.0" cy="121.5" r="2.3" fill="url(#gc)"/>
<circle cx="197.5" cy="115.1" r="2.3" fill="url(#gc)"/>
<circle cx="193.1" cy="112.2" r="2.2" fill="url(#gn)"/>
<circle cx="183.2" cy="113.1" r="1.5" fill="url(#gh)"/>
<circle cx="183.2" cy="123.9" r="1.5" fill="url(#gh)"/>
<circle cx="192.1" cy="129.4" r="1.5" fill="url(#gh)"/>
<circle cx="202.4" cy="124.4" r="1.5" fill="url(#gh)"/>
<circle cx="200.0" cy="107.0" r="2.3" fill="url(#gc)"/>
<circle cx="197.5" cy="97.4" r="1.5" fill="url(#gh)"/>
<circle cx="207.8" cy="102.8" r="1.5" fill="url(#gh)"/>
<circle cx="205.0" cy="110.5" r="2.3" fill="url(#gc)"/>
<circle cx="258.2" cy="101.3" r="2.3" fill="url(#gc)"/>
<circle cx="253.2" cy="102.3" r="2.3" fill="url(#gc)"/>
<circle cx="254.7" cy="96.9" r="2.3" fill="url(#gc)"/>
<circle cx="262.6" cy="99.4" r="1.5" fill="url(#gh)"/>
<circle cx="250.8" cy="97.9" r="1.5" fill="url(#gh)"/>
<circle cx="260.1" cy="105.3" r="1.5" fill="url(#gh)"/>
<circle cx="254.2" cy="115.1" r="2.3" fill="url(#gc)"/>
<circle cx="254.2" cy="121.5" r="2.3" fill="url(#gc)"/>
<circle cx="249.3" cy="124.9" r="2.3" fill="url(#gc)"/>
<circle cx="243.4" cy="121.5" r="2.3" fill="url(#gc)"/>
<circle cx="243.9" cy="115.1" r="2.3" fill="url(#gc)"/>
<circle cx="248.3" cy="112.2" r="2.2" fill="url(#gn)"/>
<circle cx="258.2" cy="113.1" r="1.5" fill="url(#gh)"/>
<circle cx="258.2" cy="123.9" r="1.5" fill="url(#gh)"/>
<circle cx="249.3" cy="129.4" r="1.5" fill="url(#gh)"/>
<circle cx="239.0" cy="124.4" r="1.5" fill="url(#gh)"/>
<circle cx="241.4" cy="107.0" r="2.3" fill="url(#gc)"/>
<circle cx="243.9" cy="97.4" r="1.5" fill="url(#gh)"/>
<circle cx="233.6" cy="102.8" r="1.5" fill="url(#gh)"/>
<circle cx="236.4" cy="110.5" r="2.3" fill="url(#gc)"/>
<circle cx="203.0" cy="112.0" r="2.3" fill="url(#gc)"/>
<circle cx="203.0" cy="106.0" r="1.5" fill="url(#gh)"/>
<circle cx="208.9" cy="115.8" r="2.3" fill="url(#gc)"/>
<circle cx="208.9" cy="122.3" r="1.5" fill="url(#gh)"/>
<circle cx="214.8" cy="113.3" r="2.3" fill="url(#gc)"/>
<circle cx="214.8" cy="107.3" r="1.5" fill="url(#gh)"/>
<circle cx="220.7" cy="116.5" r="2.3" fill="url(#gc)"/>
<circle cx="220.7" cy="123.0" r="1.5" fill="url(#gh)"/>
<circle cx="226.6" cy="113.3" r="2.3" fill="url(#gc)"/>
<circle cx="226.6" cy="107.3" r="1.5" fill="url(#gh)"/>
<circle cx="232.5" cy="115.8" r="2.3" fill="url(#gc)"/>
<circle cx="232.5" cy="122.3" r="1.5" fill="url(#gh)"/>
<circle cx="238.4" cy="112.0" r="2.3" fill="url(#gc)"/>
<circle cx="238.4" cy="106.0" r="1.5" fill="url(#gh)"/>
<path d="M198.80 113.42C199.95 110.78 207.25 110.78 208.40 113.42C209.45 116.28 207.51 120.15 203.60 120.15C199.69 120.15 197.75 116.28 198.80 113.42Z" fill="url(#gb)"/>
<path d="M211.03 112.02C212.05 109.38 218.55 109.38 219.57 112.02C220.50 114.88 218.78 118.75 215.30 118.75C211.82 118.75 210.10 114.88 211.03 112.02Z" fill="url(#gr)"/>
<path d="M222.63 112.27C223.65 109.96 230.15 109.96 231.17 112.27C232.10 114.77 230.38 118.16 226.90 118.16C223.42 118.16 221.70 114.77 222.63 112.27Z" fill="url(#gb)"/>
<path d="M234.50 112.72C235.65 110.08 242.95 110.08 244.10 112.72C245.15 115.58 243.22 119.45 239.30 119.45C235.39 119.45 233.45 115.58 234.50 112.72Z" fill="url(#gr)"/>
<ellipse cx="199.2" cy="104.5" rx="5.80" ry="3.85" fill="url(#gr)" transform="rotate(20 199.2 104.5)"/>
<ellipse cx="189.7" cy="107.4" rx="2.75" ry="2.70" fill="url(#gb)"/>
<ellipse cx="243.0" cy="104.5" rx="5.80" ry="3.85" fill="url(#gb)" transform="rotate(-20 243.0 104.5)"/>
<ellipse cx="252.5" cy="106.7" rx="2.75" ry="2.70" fill="url(#gr)"/>
<ellipse cx="190.4" cy="114.7" rx="1.93" ry="1.62" fill="url(#gr)"/>
<ellipse cx="196.3" cy="124.2" rx="1.93" ry="1.89" fill="url(#gr)"/>
<ellipse cx="184.6" cy="125.0" rx="2.20" ry="1.62" fill="url(#gb)"/>
<path d="M252.90 114.41C253.66 113.09 258.54 113.09 259.30 114.41C260.00 115.84 258.71 117.78 256.10 117.78C253.49 117.78 252.20 115.84 252.90 114.41Z" fill="url(#gb)"/>
<ellipse cx="245.9" cy="123.5" rx="2.20" ry="2.16" fill="url(#gb)"/>
<ellipse cx="258.3" cy="124.2" rx="2.20" ry="2.16" fill="url(#gr)"/>
<path d="M85.4 142.3L89.3 145.8M89.3 145.8L87.3 151.2M87.3 151.2L82.4 152.2M89.3 145.8L95.2 143.8M95.2 143.8L96.2 139.4M95.2 143.8L99.1 148.7M87.3 151.2L91.8 156.1M91.8 156.1L88.8 160.5M99.1 148.7L91.8 156.1M99.1 148.7L107.0 147.7M107.0 147.7L106.0 141.5M107.0 147.7L114.0 145.5M91.8 156.1L102.1 158.1M99.1 148.7L102.1 158.1M102.1 158.1L102.1 164.9M102.1 164.9L97.7 165.9M102.1 164.9L105.5 167.4M107.0 147.7L111.6 152.5M162.4 142.3L158.5 145.8M158.5 145.8L160.5 151.2M160.5 151.2L165.4 152.2M158.5 145.8L152.6 143.8M152.6 143.8L151.6 139.4M152.6 143.8L148.7 148.7M160.5 151.2L156.0 156.1M156.0 156.1L159.0 160.5M148.7 148.7L156.0 156.1M148.7 148.7L140.8 147.7M140.8 147.7L141.8 141.5M140.8 147.7L133.8 145.5M156.0 156.1L145.7 158.1M148.7 148.7L145.7 158.1M145.7 158.1L145.7 164.9M145.7 164.9L150.1 165.9M145.7 164.9L142.3 167.4M140.8 147.7L136.2 152.5M106.6 155.0L106.6 149.0M112.4 158.8L112.4 165.3M118.1 156.3L118.1 150.3M123.9 159.5L123.9 166.0M129.7 156.3L129.7 150.3M135.4 158.8L135.4 165.3M141.2 155.0L141.2 149.0M106.6 155.0L112.4 158.8M112.4 158.8L118.1 156.3M118.1 156.3L123.9 159.5M123.9 159.5L129.7 156.3M129.7 156.3L135.4 158.8M135.4 158.8L141.2 155.0" stroke="#8e8e8e" stroke-width="1.35" fill="none" stroke-linecap="round"/>
<circle cx="85.4" cy="142.3" r="1.5" fill="url(#gh)"/>
<circle cx="89.3" cy="145.8" r="2.2" fill="url(#go)"/>
<circle cx="87.3" cy="151.2" r="2.3" fill="url(#gc)"/>
<circle cx="82.4" cy="152.2" r="1.5" fill="url(#gh)"/>
<circle cx="95.2" cy="143.8" r="2.3" fill="url(#gc)"/>
<circle cx="96.2" cy="139.4" r="1.5" fill="url(#gh)"/>
<circle cx="99.1" cy="148.7" r="2.2" fill="url(#gn)"/>
<circle cx="91.8" cy="156.1" r="2.2" fill="url(#gn)"/>
<circle cx="88.8" cy="160.5" r="1.5" fill="url(#gh)"/>
<circle cx="107.0" cy="147.7" r="2.3" fill="url(#gc)"/>
<circle cx="106.0" cy="141.5" r="1.5" fill="url(#gh)"/>
<circle cx="114.0" cy="145.5" r="1.5" fill="url(#gh)"/>
<circle cx="102.1" cy="158.1" r="2.3" fill="url(#gc)"/>
<circle cx="102.1" cy="164.9" r="2.3" fill="url(#gc)"/>
<circle cx="97.7" cy="165.9" r="1.5" fill="url(#gh)"/>
<circle cx="105.5" cy="167.4" r="1.5" fill="url(#gh)"/>
<circle cx="111.6" cy="152.5" r="1.5" fill="url(#gh)"/>
<circle cx="162.4" cy="142.3" r="1.5" fill="url(#gh)"/>
<circle cx="158.5" cy="145.8" r="2.2" fill="url(#go)"/>
<circle cx="160.5" cy="151.2" r="2.3" fill="url(#gc)"/>
<circle cx="165.4" cy="152.2" r="1.5" fill="url(#gh)"/>
<circle cx="152.6" cy="143.8" r="2.3" fill="url(#gc)"/>
<circle cx="151.6" cy="139.4" r="1.5" fill="url(#gh)"/>
<circle cx="148.7" cy="148.7" r="2.2" fill="url(#gn)"/>
<circle cx="156.0" cy="156.1" r="2.2" fill="url(#gn)"/>
<circle cx="159.0" cy="160.5" r="1.5" fill="url(#gh)"/>
<circle cx="140.8" cy="147.7" r="2.3" fill="url(#gc)"/>
<circle cx="141.8" cy="141.5" r="1.5" fill="url(#gh)"/>
<circle cx="133.8" cy="145.5" r="1.5" fill="url(#gh)"/>
<circle cx="145.7" cy="158.1" r="2.3" fill="url(#gc)"/>
<circle cx="145.7" cy="164.9" r="2.3" fill="url(#gc)"/>
<circle cx="150.1" cy="165.9" r="1.5" fill="url(#gh)"/>
<circle cx="142.3" cy="167.4" r="1.5" fill="url(#gh)"/>
<circle cx="136.2" cy="152.5" r="1.5" fill="url(#gh)"/>
<circle cx="106.6" cy="155.0" r="2.3" fill="url(#gc)"/>
<circle cx="106.6" cy="149.0" r="1.5" fill="url(#gh)"/>
<circle cx="112.4" cy="158.8" r="2.3" fill="url(#gc)"/>
<circle cx="112.4" cy="165.3" r="1.5" fill="url(#gh)"/>
<circle cx="118.1" cy="156.3" r="2.3" fill="url(#gc)"/>
<circle cx="118.1" cy="150.3" r="1.5" fill="url(#gh)"/>
<circle cx="123.9" cy="159.5" r="2.3" fill="url(#gc)"/>
<circle cx="123.9" cy="166.0" r="1.5" fill="url(#gh)"/>
<circle cx="129.7" cy="156.3" r="2.3" fill="url(#gc)"/>
<circle cx="129.7" cy="150.3" r="1.5" fill="url(#gh)"/>
<circle cx="135.4" cy="158.8" r="2.3" fill="url(#gc)"/>
<circle cx="135.4" cy="165.3" r="1.5" fill="url(#gh)"/>
<circle cx="141.2" cy="155.0" r="2.3" fill="url(#gc)"/>
<circle cx="141.2" cy="149.0" r="1.5" fill="url(#gh)"/>
<path d="M96.60 157.51C97.36 155.53 102.24 155.53 103.00 157.51C103.70 159.66 102.41 162.56 99.80 162.56C97.19 162.56 95.90 159.66 96.60 157.51Z" fill="url(#gr)"/>
<path d="M103.80 155.77C104.95 153.46 112.25 153.46 113.40 155.77C114.45 158.27 112.52 161.66 108.60 161.66C104.68 161.66 102.75 158.27 103.80 155.77Z" fill="url(#gb)"/>
<path d="M114.00 156.57C115.15 154.26 122.45 154.26 123.60 156.57C124.65 159.07 122.72 162.46 118.80 162.46C114.88 162.46 112.95 159.07 114.00 156.57Z" fill="url(#gr)"/>
<path d="M126.23 155.77C127.25 153.46 133.75 153.46 134.77 155.77C135.70 158.27 133.98 161.66 130.50 161.66C127.02 161.66 125.30 158.27 126.23 155.77Z" fill="url(#gb)"/>
<path d="M136.60 154.12C137.75 151.48 145.05 151.48 146.20 154.12C147.25 156.98 145.31 160.85 141.40 160.85C137.49 160.85 135.55 156.98 136.60 154.12Z" fill="url(#gr)"/>
<ellipse cx="150.2" cy="156.1" rx="2.75" ry="2.70" fill="url(#gb)"/>
<ellipse cx="88.1" cy="146.6" rx="2.20" ry="2.16" fill="url(#gr)"/>
<ellipse cx="150.9" cy="147.3" rx="2.20" ry="2.16" fill="url(#gr)"/>
<ellipse cx="158.9" cy="153.2" rx="2.20" ry="1.62" fill="url(#gr)"/>
<ellipse cx="160.4" cy="143.0" rx="2.20" ry="2.16" fill="url(#gb)"/>
<ellipse cx="97.6" cy="150.2" rx="1.65" ry="1.62" fill="url(#gb)"/>
<path d="M181.8 140.8L185.7 144.3M185.7 144.3L183.7 149.7M183.7 149.7L178.8 150.7M185.7 144.3L191.6 142.3M191.6 142.3L192.6 137.9M191.6 142.3L195.5 147.2M183.7 149.7L188.2 154.6M188.2 154.6L185.2 159.0M195.5 147.2L188.2 154.6M195.5 147.2L203.4 146.2M203.4 146.2L202.4 140.0M203.4 146.2L210.4 144.0M188.2 154.6L198.5 156.6M195.5 147.2L198.5 156.6M198.5 156.6L198.5 163.4M198.5 163.4L194.1 164.4M198.5 163.4L201.9 165.9M203.4 146.2L208.0 151.0M259.6 140.8L255.7 144.3M255.7 144.3L257.7 149.7M257.7 149.7L262.6 150.7M255.7 144.3L249.8 142.3M249.8 142.3L248.8 137.9M249.8 142.3L245.9 147.2M257.7 149.7L253.2 154.6M253.2 154.6L256.2 159.0M245.9 147.2L253.2 154.6M245.9 147.2L238.0 146.2M238.0 146.2L239.0 140.0M238.0 146.2L231.0 144.0M253.2 154.6L242.9 156.6M245.9 147.2L242.9 156.6M242.9 156.6L242.9 163.4M242.9 163.4L247.3 164.4M242.9 163.4L239.5 165.9M238.0 146.2L233.4 151.0M203.0 153.5L203.0 147.5M208.9 157.3L208.9 163.8M214.8 154.8L214.8 148.8M220.7 158.0L220.7 164.5M226.6 154.8L226.6 148.8M232.5 157.3L232.5 163.8M238.4 153.5L238.4 147.5M203.0 153.5L208.9 157.3M208.9 157.3L214.8 154.8M214.8 154.8L220.7 158.0M220.7 158.0L226.6 154.8M226.6 154.8L232.5 157.3M232.5 157.3L238.4 153.5" stroke="#8e8e8e" stroke-width="1.35" fill="none" stroke-linecap="round"/>
<circle cx="181.8" cy="140.8" r="1.5" fill="url(#gh)"/>
<circle cx="185.7" cy="144.3" r="2.2" fill="url(#go)"/>
<circle cx="183.7" cy="149.7" r="2.3" fill="url(#gc)"/>
<circle cx="178.8" cy="150.7" r="1.5" fill="url(#gh)"/>
<circle cx="191.6" cy="142.3" r="2.3" fill="url(#gc)"/>
<circle cx="192.6" cy="137.9" r="1.5" fill="url(#gh)"/>
<circle cx="195.5" cy="147.2" r="2.2" fill="url(#gn)"/>
<circle cx="188.2" cy="154.6" r="2.2" fill="url(#gn)"/>
<circle cx="185.2" cy="159.0" r="1.5" fill="url(#gh)"/>
<circle cx="203.4" cy="146.2" r="2.3" fill="url(#gc)"/>
<circle cx="202.4" cy="140.0" r="1.5" fill="url(#gh)"/>
<circle cx="210.4" cy="144.0" r="1.5" fill="url(#gh)"/>
<circle cx="198.5" cy="156.6" r="2.3" fill="url(#gc)"/>
<circle cx="198.5" cy="163.4" r="2.3" fill="url(#gc)"/>
<circle cx="194.1" cy="164.4" r="1.5" fill="url(#gh)"/>
<circle cx="201.9" cy="165.9" r="1.5" fill="url(#gh)"/>
<circle cx="208.0" cy="151.0" r="1.5" fill="url(#gh)"/>
<circle cx="259.6" cy="140.8" r="1.5" fill="url(#gh)"/>
<circle cx="255.7" cy="144.3" r="2.2" fill="url(#go)"/>
<circle cx="257.7" cy="149.7" r="2.3" fill="url(#gc)"/>
<circle cx="262.6" cy="150.7" r="1.5" fill="url(#gh)"/>
<circle cx="249.8" cy="142.3" r="2.3" fill="url(#gc)"/>
<circle cx="248.8" cy="137.9" r="1.5" fill="url(#gh)"/>
<circle cx="245.9" cy="147.2" r="2.2" fill="url(#gn)"/>
<circle cx="253.2" cy="154.6" r="2.2" fill="url(#gn)"/>
<circle cx="256.2" cy="159.0" r="1.5" fill="url(#gh)"/>
<circle cx="238.0" cy="146.2" r="2.3" fill="url(#gc)"/>
<circle cx="239.0" cy="140.0" r="1.5" fill="url(#gh)"/>
<circle cx="231.0" cy="144.0" r="1.5" fill="url(#gh)"/>
<circle cx="242.9" cy="156.6" r="2.3" fill="url(#gc)"/>
<circle cx="242.9" cy="163.4" r="2.3" fill="url(#gc)"/>
<circle cx="247.3" cy="164.4" r="1.5" fill="url(#gh)"/>
<circle cx="239.5" cy="165.9" r="1.5" fill="url(#gh)"/>
<circle cx="233.4" cy="151.0" r="1.5" fill="url(#gh)"/>
<circle cx="203.0" cy="153.5" r="2.3" fill="url(#gc)"/>
<circle cx="203.0" cy="147.5" r="1.5" fill="url(#gh)"/>
<circle cx="208.9" cy="157.3" r="2.3" fill="url(#gc)"/>
<circle cx="208.9" cy="163.8" r="1.5" fill="url(#gh)"/>
<circle cx="214.8" cy="154.8" r="2.3" fill="url(#gc)"/>
<circle cx="214.8" cy="148.8" r="1.5" fill="url(#gh)"/>
<circle cx="220.7" cy="158.0" r="2.3" fill="url(#gc)"/>
<circle cx="220.7" cy="164.5" r="1.5" fill="url(#gh)"/>
<circle cx="226.6" cy="154.8" r="2.3" fill="url(#gc)"/>
<circle cx="226.6" cy="148.8" r="1.5" fill="url(#gh)"/>
<circle cx="232.5" cy="157.3" r="2.3" fill="url(#gc)"/>
<circle cx="232.5" cy="163.8" r="1.5" fill="url(#gh)"/>
<circle cx="238.4" cy="153.5" r="2.3" fill="url(#gc)"/>
<circle cx="238.4" cy="147.5" r="1.5" fill="url(#gh)"/>
<path d="M193.10 157.51C193.86 155.53 198.74 155.53 199.50 157.51C200.20 159.66 198.91 162.56 196.30 162.56C193.69 162.56 192.40 159.66 193.10 157.51Z" fill="url(#gr)"/>
<path d="M199.06 155.07C199.96 152.76 205.64 152.76 206.54 155.07C207.35 157.57 205.84 160.96 202.80 160.96C199.76 160.96 198.25 157.57 199.06 155.07Z" fill="url(#gb)"/>
<path d="M208.56 154.37C209.46 152.06 215.14 152.06 216.04 154.37C216.85 156.87 215.34 160.26 212.30 160.26C209.26 160.26 207.75 156.87 208.56 154.37Z" fill="url(#gr)"/>
<path d="M217.36 154.37C218.26 152.06 223.94 152.06 224.84 154.37C225.65 156.87 224.14 160.26 221.10 160.26C218.06 160.26 216.55 156.87 217.36 154.37Z" fill="url(#gb)"/>
<path d="M227.26 153.42C228.16 150.78 233.84 150.78 234.74 153.42C235.55 156.28 234.04 160.15 231.00 160.15C227.96 160.15 226.45 156.28 227.26 153.42Z" fill="url(#gr)"/>
<ellipse cx="240.1" cy="154.6" rx="4.06" ry="3.85" fill="url(#gb)" transform="rotate(-15 240.1 154.6)"/>
<path d="M243.93 155.31C244.57 153.34 248.63 153.34 249.27 155.31C249.85 157.46 248.78 160.36 246.60 160.36C244.42 160.36 243.35 157.46 243.93 155.31Z" fill="url(#gr)"/>
<ellipse cx="185.3" cy="146.6" rx="1.93" ry="1.89" fill="url(#gr)"/>
<ellipse cx="256.9" cy="143.7" rx="1.93" ry="1.89" fill="url(#gr)"/>
<ellipse cx="186.8" cy="156.0" rx="1.93" ry="1.62" fill="url(#gb)"/>
<ellipse cx="255.4" cy="153.2" rx="1.93" ry="1.62" fill="url(#gb)"/>
<path d="M81.6 174.7L86.0 176.6M86.0 176.6L91.0 177.6M86.0 176.6L84.1 180.6M86.0 176.6L89.5 172.2M91.0 177.6L93.4 173.2M91.0 177.6L95.9 187.5M90.0 190.4L90.0 196.8M90.0 196.8L94.9 200.2M94.9 200.2L100.8 196.8M100.8 196.8L100.3 190.4M100.3 190.4L95.9 187.5M95.9 187.5L90.0 190.4M90.0 190.4L86.0 188.4M90.0 196.8L86.0 199.2M94.9 200.2L94.9 204.7M100.8 196.8L105.2 199.7M100.3 190.4L107.8 185.8M102.8 182.3L107.8 185.8M102.8 182.3L100.3 172.7M102.8 182.3L110.6 178.1M95.9 187.5L102.8 182.3M167.6 174.7L163.2 176.6M163.2 176.6L158.2 177.6M163.2 176.6L165.1 180.6M163.2 176.6L159.7 172.2M158.2 177.6L155.8 173.2M158.2 177.6L153.3 187.5M159.2 190.4L159.2 196.8M159.2 196.8L154.3 200.2M154.3 200.2L148.4 196.8M148.4 196.8L148.9 190.4M148.9 190.4L153.3 187.5M153.3 187.5L159.2 190.4M159.2 190.4L163.2 188.4M159.2 196.8L163.2 199.2M154.3 200.2L154.3 204.7M148.4 196.8L144.0 199.7M148.9 190.4L141.4 185.8M146.4 182.3L141.4 185.8M146.4 182.3L148.9 172.7M146.4 182.3L138.6 178.1M153.3 187.5L146.4 182.3M105.8 187.3L105.8 181.3M112.1 191.1L112.1 197.6M118.3 188.6L118.3 182.6M124.6 191.8L124.6 198.3M130.9 188.6L130.9 182.6M137.1 191.1L137.1 197.6M143.4 187.3L143.4 181.3M105.8 187.3L112.1 191.1M112.1 191.1L118.3 188.6M118.3 188.6L124.6 191.8M124.6 191.8L130.9 188.6M130.9 188.6L137.1 191.1M137.1 191.1L143.4 187.3" stroke="#8e8e8e" stroke-width="1.35" fill="none" stroke-linecap="round"/>
<circle cx="86.0" cy="176.6" r="2.3" fill="url(#gc)"/>
<circle cx="91.0" cy="177.6" r="2.3" fill="url(#gc)"/>
<circle cx="89.5" cy="172.2" r="2.2" fill="url(#go)"/>
<circle cx="81.6" cy="174.7" r="1.5" fill="url(#gh)"/>
<circle cx="93.4" cy="173.2" r="1.5" fill="url(#gh)"/>
<circle cx="84.1" cy="180.6" r="1.5" fill="url(#gh)"/>
<circle cx="90.0" cy="190.4" r="2.3" fill="url(#gc)"/>
<circle cx="90.0" cy="196.8" r="2.3" fill="url(#gc)"/>
<circle cx="94.9" cy="200.2" r="2.3" fill="url(#gc)"/>
<circle cx="100.8" cy="196.8" r="2.3" fill="url(#gc)"/>
<circle cx="100.3" cy="190.4" r="2.3" fill="url(#gc)"/>
<circle cx="95.9" cy="187.5" r="2.2" fill="url(#gn)"/>
<circle cx="86.0" cy="188.4" r="1.5" fill="url(#gh)"/>
<circle cx="86.0" cy="199.2" r="1.5" fill="url(#gh)"/>
<circle cx="94.9" cy="204.7" r="1.5" fill="url(#gh)"/>
<circle cx="105.2" cy="199.7" r="1.5" fill="url(#gh)"/>
<circle cx="102.8" cy="182.3" r="2.3" fill="url(#gc)"/>
<circle cx="100.3" cy="172.7" r="1.5" fill="url(#gh)"/>
<circle cx="110.6" cy="178.1" r="1.5" fill="url(#gh)"/>
<circle cx="107.8" cy="185.8" r="2.3" fill="url(#gc)"/>
<circle cx="163.2" cy="176.6" r="2.3" fill="url(#gc)"/>
<circle cx="158.2" cy="177.6" r="2.3" fill="url(#gc)"/>
<circle cx="159.7" cy="172.2" r="2.2" fill="url(#go)"/>
<circle cx="167.6" cy="174.7" r="1.5" fill="url(#gh)"/>
<circle cx="155.8" cy="173.2" r="1.5" fill="url(#gh)"/>
<circle cx="165.1" cy="180.6" r="1.5" fill="url(#gh)"/>
<circle cx="159.2" cy="190.4" r="2.3" fill="url(#gc)"/>
<circle cx="159.2" cy="196.8" r="2.3" fill="url(#gc)"/>
<circle cx="154.3" cy="200.2" r="2.3" fill="url(#gc)"/>
<circle cx="148.4" cy="196.8" r="2.3" fill="url(#gc)"/>
<circle cx="148.9" cy="190.4" r="2.3" fill="url(#gc)"/>
<circle cx="153.3" cy="187.5" r="2.2" fill="url(#gn)"/>
<circle cx="163.2" cy="188.4" r="1.5" fill="url(#gh)"/>
<circle cx="163.2" cy="199.2" r="1.5" fill="url(#gh)"/>
<circle cx="154.3" cy="204.7" r="1.5" fill="url(#gh)"/>
<circle cx="144.0" cy="199.7" r="1.5" fill="url(#gh)"/>
<circle cx="146.4" cy="182.3" r="2.3" fill="url(#gc)"/>
<circle cx="148.9" cy="172.7" r="1.5" fill="url(#gh)"/>
<circle cx="138.6" cy="178.1" r="1.5" fill="url(#gh)"/>
<circle cx="141.4" cy="185.8" r="2.3" fill="url(#gc)"/>
<circle cx="105.8" cy="187.3" r="2.3" fill="url(#gc)"/>
<circle cx="105.8" cy="181.3" r="1.5" fill="url(#gh)"/>
<circle cx="112.1" cy="191.1" r="2.3" fill="url(#gc)"/>
<circle cx="112.1" cy="197.6" r="1.5" fill="url(#gh)"/>
<circle cx="118.3" cy="188.6" r="2.3" fill="url(#gc)"/>
<circle cx="118.3" cy="182.6" r="1.5" fill="url(#gh)"/>
<circle cx="124.6" cy="191.8" r="2.3" fill="url(#gc)"/>
<circle cx="124.6" cy="198.3" r="1.5" fill="url(#gh)"/>
<circle cx="130.9" cy="188.6" r="2.3" fill="url(#gc)"/>
<circle cx="130.9" cy="182.6" r="1.5" fill="url(#gh)"/>
<circle cx="137.1" cy="191.1" r="2.3" fill="url(#gc)"/>
<circle cx="137.1" cy="197.6" r="1.5" fill="url(#gh)"/>
<circle cx="143.4" cy="187.3" r="2.3" fill="url(#gc)"/>
<circle cx="143.4" cy="181.3" r="1.5" fill="url(#gh)"/>
<path d="M102.30 187.82C103.45 185.18 110.75 185.18 111.90 187.82C112.95 190.68 111.02 194.55 107.10 194.55C103.18 194.55 101.25 190.68 102.30 187.82Z" fill="url(#gr)"/>
<path d="M113.83 188.07C114.85 185.76 121.35 185.76 122.37 188.07C123.30 190.57 121.58 193.96 118.10 193.96C114.62 193.96 112.90 190.57 113.83 188.07Z" fill="url(#gb)"/>
<path d="M125.43 188.07C126.45 185.76 132.95 185.76 133.97 188.07C134.90 190.57 133.18 193.96 129.70 193.96C126.22 193.96 124.50 190.57 125.43 188.07Z" fill="url(#gr)"/>
<path d="M137.13 188.07C138.15 185.76 144.65 185.76 145.67 188.07C146.60 190.57 144.88 193.96 141.40 193.96C137.92 193.96 136.20 190.57 137.13 188.07Z" fill="url(#gb)"/>
<ellipse cx="146.5" cy="180.3" rx="5.22" ry="3.30" fill="url(#gr)" transform="rotate(-20 146.5 180.3)"/>
<ellipse cx="102.0" cy="178.9" rx="5.22" ry="3.30" fill="url(#gb)" transform="rotate(20 102.0 178.9)"/>
<ellipse cx="93.2" cy="180.3" rx="2.75" ry="2.70" fill="url(#gr)"/>
<ellipse cx="154.6" cy="181.8" rx="2.75" ry="2.70" fill="url(#gb)"/>
<ellipse cx="150.2" cy="190.5" rx="2.75" ry="2.16" fill="url(#gr)"/>
<ellipse cx="150.2" cy="195.7" rx="1.65" ry="1.62" fill="url(#gr)"/>
<ellipse cx="88.9" cy="173.0" rx="1.65" ry="1.62" fill="url(#gr)"/>
<ellipse cx="160.4" cy="173.8" rx="1.65" ry="1.62" fill="url(#gr)"/>
<ellipse cx="155.3" cy="199.3" rx="1.93" ry="1.62" fill="url(#gb)"/>
<ellipse cx="98.4" cy="189.1" rx="1.93" ry="1.62" fill="url(#gb)"/>
<path d="M178.8 171.8L183.2 173.7M183.2 173.7L188.2 174.7M183.2 173.7L181.3 177.7M183.2 173.7L186.7 169.3M188.2 174.7L190.6 170.3M188.2 174.7L193.1 184.6M187.2 187.5L187.2 193.9M187.2 193.9L192.1 197.3M192.1 197.3L198.0 193.9M198.0 193.9L197.5 187.5M197.5 187.5L193.1 184.6M193.1 184.6L187.2 187.5M187.2 187.5L183.2 185.5M187.2 193.9L183.2 196.3M192.1 197.3L192.1 201.8M198.0 193.9L202.4 196.8M197.5 187.5L205.0 182.9M200.0 179.4L205.0 182.9M200.0 179.4L197.5 169.8M200.0 179.4L207.8 175.2M193.1 184.6L200.0 179.4M261.9 171.8L257.5 173.7M257.5 173.7L252.5 174.7M257.5 173.7L259.4 177.7M257.5 173.7L254.0 169.3M252.5 174.7L250.1 170.3M252.5 174.7L247.6 184.6M253.5 187.5L253.5 193.9M253.5 193.9L248.6 197.3M248.6 197.3L242.7 193.9M242.7 193.9L243.2 187.5M243.2 187.5L247.6 184.6M247.6 184.6L253.5 187.5M253.5 187.5L257.5 185.5M253.5 193.9L257.5 196.3M248.6 197.3L248.6 201.8M242.7 193.9L238.3 196.8M243.2 187.5L235.7 182.9M240.7 179.4L235.7 182.9M240.7 179.4L243.2 169.8M240.7 179.4L232.9 175.2M247.6 184.6L240.7 179.4M203.0 184.4L203.0 178.4M208.8 188.2L208.8 194.7M214.6 185.7L214.6 179.7M220.3 188.9L220.3 195.4M226.1 185.7L226.1 179.7M231.9 188.2L231.9 194.7M237.7 184.4L237.7 178.4M203.0 184.4L208.8 188.2M208.8 188.2L214.6 185.7M214.6 185.7L220.3 188.9M220.3 188.9L226.1 185.7M226.1 185.7L231.9 188.2M231.9 188.2L237.7 184.4" stroke="#8e8e8e" stroke-width="1.35" fill="none" stroke-linecap="round"/>
<circle cx="183.2" cy="173.7" r="2.3" fill="url(#gc)"/>
<circle cx="188.2" cy="174.7" r="2.3" fill="url(#gc)"/>
<circle cx="186.7" cy="169.3" r="2.2" fill="url(#go)"/>
<circle cx="178.8" cy="171.8" r="1.5" fill="url(#gh)"/>
<circle cx="190.6" cy="170.3" r="1.5" fill="url(#gh)"/>
<circle cx="181.3" cy="177.7" r="1.5" fill="url(#gh)"/>
<circle cx="187.2" cy="187.5" r="2.3" fill="url(#gc)"/>
<circle cx="187.2" cy="193.9" r="2.3" fill="url(#gc)"/>
<circle cx="192.1" cy="197.3" r="2.3" fill="url(#gc)"/>
<circle cx="198.0" cy="193.9" r="2.3" fill="url(#gc)"/>
<circle cx="197.5" cy="187.5" r="2.3" fill="url(#gc)"/>
<circle cx="193.1" cy="184.6" r="2.2" fill="url(#gn)"/>
<circle cx="183.2" cy="185.5" r="1.5" fill="url(#gh)"/>
<circle cx="183.2" cy="196.3" r="1.5" fill="url(#gh)"/>
<circle cx="192.1" cy="201.8" r="1.5" fill="url(#gh)"/>
<circle cx="202.4" cy="196.8" r="1.5" fill="url(#gh)"/>
<circle cx="200.0" cy="179.4" r="2.3" fill="url(#gc)"/>
<circle cx="197.5" cy="169.8" r="1.5" fill="url(#gh)"/>
<circle cx="207.8" cy="175.2" r="1.5" fill="url(#gh)"/>
<circle cx="205.0" cy="182.9" r="2.3" fill="url(#gc)"/>
<circle cx="257.5" cy="173.7" r="2.3" fill="url(#gc)"/>
<circle cx="252.5" cy="174.7" r="2.3" fill="url(#gc)"/>
<circle cx="254.0" cy="169.3" r="2.2" fill="url(#go)"/>
<circle cx="261.9" cy="171.8" r="1.5" fill="url(#gh)"/>
<circle cx="250.1" cy="170.3" r="1.5" fill="url(#gh)"/>
<circle cx="259.4" cy="177.7" r="1.5" fill="url(#gh)"/>
<circle cx="253.5" cy="187.5" r="2.3" fill="url(#gc)"/>
<circle cx="253.5" cy="193.9" r="2.3" fill="url(#gc)"/>
<circle cx="248.6" cy="197.3" r="2.3" fill="url(#gc)"/>
<circle cx="242.7" cy="193.9" r="2.3" fill="url(#gc)"/>
<circle cx="243.2" cy="187.5" r="2.3" fill="url(#gc)"/>
<circle cx="247.6" cy="184.6" r="2.2" fill="url(#gn)"/>
<circle cx="257.5" cy="185.5" r="1.5" fill="url(#gh)"/>
<circle cx="257.5" cy="196.3" r="1.5" fill="url(#gh)"/>
<circle cx="248.6" cy="201.8" r="1.5" fill="url(#gh)"/>
<circle cx="238.3" cy="196.8" r="1.5" fill="url(#gh)"/>
<circle cx="240.7" cy="179.4" r="2.3" fill="url(#gc)"/>
<circle cx="243.2" cy="169.8" r="1.5" fill="url(#gh)"/>
<circle cx="232.9" cy="175.2" r="1.5" fill="url(#gh)"/>
<circle cx="235.7" cy="182.9" r="2.3" fill="url(#gc)"/>
<circle cx="203.0" cy="184.4" r="2.3" fill="url(#gc)"/>
<circle cx="203.0" cy="178.4" r="1.5" fill="url(#gh)"/>
<circle cx="208.8" cy="188.2" r="2.3" fill="url(#gc)"/>
<circle cx="208.8" cy="194.7" r="1.5" fill="url(#gh)"/>
<circle cx="214.6" cy="185.7" r="2.3" fill="url(#gc)"/>
<circle cx="214.6" cy="179.7" r="1.5" fill="url(#gh)"/>
<circle cx="220.3" cy="188.9" r="2.3" fill="url(#gc)"/>
<circle cx="220.3" cy="195.4" r="1.5" fill="url(#gh)"/>
<circle cx="226.1" cy="185.7" r="2.3" fill="url(#gc)"/>
<circle cx="226.1" cy="179.7" r="1.5" fill="url(#gh)"/>
<circle cx="231.9" cy="188.2" r="2.3" fill="url(#gc)"/>
<circle cx="231.9" cy="194.7" r="1.5" fill="url(#gh)"/>
<circle cx="237.7" cy="184.4" r="2.3" fill="url(#gc)"/>
<circle cx="237.7" cy="178.4" r="1.5" fill="url(#gh)"/>
<path d="M197.13 184.92C198.15 182.28 204.65 182.28 205.67 184.92C206.60 187.78 204.88 191.65 201.40 191.65C197.92 191.65 196.20 187.78 197.13 184.92Z" fill="url(#gr)"/>
<path d="M207.16 185.17C208.06 182.86 213.74 182.86 214.64 185.17C215.45 187.67 213.94 191.06 210.90 191.06C207.86 191.06 206.35 187.67 207.16 185.17Z" fill="url(#gb)"/>
<path d="M216.66 185.17C217.56 182.86 223.24 182.86 224.14 185.17C224.95 187.67 223.44 191.06 220.40 191.06C217.36 191.06 215.85 187.67 216.66 185.17Z" fill="url(#gr)"/>
<path d="M226.16 185.17C227.06 182.86 232.74 182.86 233.64 185.17C234.45 187.67 232.94 191.06 229.90 191.06C226.86 191.06 225.35 187.67 226.16 185.17Z" fill="url(#gb)"/>
<path d="M235.03 184.92C236.05 182.28 242.55 182.28 243.57 184.92C244.50 187.78 242.78 191.65 239.30 191.65C235.82 191.65 234.10 187.78 235.03 184.92Z" fill="url(#gr)"/>
<ellipse cx="198.5" cy="178.1" rx="4.64" ry="2.75" fill="url(#gb)" transform="rotate(20 198.5 178.1)"/>
<ellipse cx="190.4" cy="179.6" rx="2.75" ry="2.70" fill="url(#gr)"/>
<ellipse cx="243.0" cy="178.1" rx="4.64" ry="2.75" fill="url(#gb)" transform="rotate(-20 243.0 178.1)"/>
<ellipse cx="250.3" cy="181.0" rx="2.75" ry="2.70" fill="url(#gr)"/>
<ellipse cx="194.1" cy="194.2" rx="1.93" ry="1.62" fill="url(#gb)"/>
<ellipse cx="249.6" cy="187.6" rx="1.93" ry="1.62" fill="url(#gb)"/>
<ellipse cx="245.2" cy="195.0" rx="1.93" ry="1.62" fill="url(#gb)"/>
<ellipse cx="185.3" cy="194.2" rx="1.93" ry="1.89" fill="url(#gr)"/>
<ellipse cx="254.7" cy="195.7" rx="1.93" ry="1.89" fill="url(#gr)"/>
<path d="M82.4 213.6L86.8 215.5M86.8 215.5L91.8 216.5M86.8 215.5L84.9 219.5M86.8 215.5L90.3 211.1M91.8 216.5L94.2 212.1M91.8 216.5L96.7 226.4M90.8 229.3L90.8 235.7M90.8 235.7L95.7 239.1M95.7 239.1L101.6 235.7M101.6 235.7L101.1 229.3M101.1 229.3L96.7 226.4M96.7 226.4L90.8 229.3M90.8 229.3L86.8 227.3M90.8 235.7L86.8 238.1M95.7 239.1L95.7 243.6M101.6 235.7L106.0 238.6M101.1 229.3L108.6 224.7M103.6 221.2L108.6 224.7M103.6 221.2L101.1 211.6M103.6 221.2L111.4 217.0M96.7 226.4L103.6 221.2M165.4 213.6L161.0 215.5M161.0 215.5L156.0 216.5M161.0 215.5L162.9 219.5M161.0 215.5L157.5 211.1M156.0 216.5L153.6 212.1M156.0 216.5L151.1 226.4M157.0 229.3L157.0 235.7M157.0 235.7L152.1 239.1M152.1 239.1L146.2 235.7M146.2 235.7L146.7 229.3M146.7 229.3L151.1 226.4M151.1 226.4L157.0 229.3M157.0 229.3L161.0 227.3M157.0 235.7L161.0 238.1M152.1 239.1L152.1 243.6M146.2 235.7L141.8 238.6M146.7 229.3L139.2 224.7M144.2 221.2L139.2 224.7M144.2 221.2L146.7 211.6M144.2 221.2L136.4 217.0M151.1 226.4L144.2 221.2M106.6 226.2L106.6 220.2M112.4 230.0L112.4 236.5M118.1 227.5L118.1 221.5M123.9 230.7L123.9 237.2M129.7 227.5L129.7 221.5M135.4 230.0L135.4 236.5M141.2 226.2L141.2 220.2M106.6 226.2L112.4 230.0M112.4 230.0L118.1 227.5M118.1 227.5L123.9 230.7M123.9 230.7L129.7 227.5M129.7 227.5L135.4 230.0M135.4 230.0L141.2 226.2" stroke="#8e8e8e" stroke-width="1.35" fill="none" stroke-linecap="round"/>
<circle cx="86.8" cy="215.5" r="2.3" fill="url(#gc)"/>
<circle cx="91.8" cy="216.5" r="2.3" fill="url(#gc)"/>
<circle cx="90.3" cy="211.1" r="2.3" fill="url(#gc)"/>
<circle cx="82.4" cy="213.6" r="1.5" fill="url(#gh)"/>
<circle cx="94.2" cy="212.1" r="1.5" fill="url(#gh)"/>
<circle cx="84.9" cy="219.5" r="1.5" fill="url(#gh)"/>
<circle cx="90.8" cy="229.3" r="2.3" fill="url(#gc)"/>
<circle cx="90.8" cy="235.7" r="2.3" fill="url(#gc)"/>
<circle cx="95.7" cy="239.1" r="2.3" fill="url(#gc)"/>
<circle cx="101.6" cy="235.7" r="2.3" fill="url(#gc)"/>
<circle cx="101.1" cy="229.3" r="2.3" fill="url(#gc)"/>
<circle cx="96.7" cy="226.4" r="2.2" fill="url(#gn)"/>
<circle cx="86.8" cy="227.3" r="1.5" fill="url(#gh)"/>
<circle cx="86.8" cy="238.1" r="1.5" fill="url(#gh)"/>
<circle cx="95.7" cy="243.6" r="1.5" fill="url(#gh)"/>
<circle cx="106.0" cy="238.6" r="1.5" fill="url(#gh)"/>
<circle cx="103.6" cy="221.2" r="2.3" fill="url(#gc)"/>
<circle cx="101.1" cy="211.6" r="1.5" fill="url(#gh)"/>
<circle cx="111.4" cy="217.0" r="1.5" fill="url(#gh)"/>
<circle cx="108.6" cy="224.7" r="2.3" fill="url(#gc)"/>
<circle cx="161.0" cy="215.5" r="2.3" fill="url(#gc)"/>
<circle cx="156.0" cy="216.5" r="2.3" fill="url(#gc)"/>
<circle cx="157.5" cy="211.1" r="2.3" fill="url(#gc)"/>
<circle cx="165.4" cy="213.6" r="1.5" fill="url(#gh)"/>
<circle cx="153.6" cy="212.1" r="1.5" fill="url(#gh)"/>
<circle cx="162.9" cy="219.5" r="1.5" fill="url(#gh)"/>
<circle cx="157.0" cy="229.3" r="2.3" fill="url(#gc)"/>
<circle cx="157.0" cy="235.7" r="2.3" fill="url(#gc)"/>
<circle cx="152.1" cy="239.1" r="2.3" fill="url(#gc)"/>
<circle cx="146.2" cy="235.7" r="2.3" fill="url(#gc)"/>
<circle cx="146.7" cy="229.3" r="2.3" fill="url(#gc)"/>
<circle cx="151.1" cy="226.4" r="2.2" fill="url(#gn)"/>
<circle cx="161.0" cy="227.3" r="1.5" fill="url(#gh)"/>
<circle cx="161.0" cy="238.1" r="1.5" fill="url(#gh)"/>
<circle cx="152.1" cy="243.6" r="1.5" fill="url(#gh)"/>
<circle cx="141.8" cy="238.6" r="1.5" fill="url(#gh)"/>
<circle cx="144.2" cy="221.2" r="2.3" fill="url(#gc)"/>
<circle cx="146.7" cy="211.6" r="1.5" fill="url(#gh)"/>
<circle cx="136.4" cy="217.0" r="1.5" fill="url(#gh)"/>
<circle cx="139.2" cy="224.7" r="2.3" fill="url(#gc)"/>
<circle cx="106.6" cy="226.2" r="2.3" fill="url(#gc)"/>
<circle cx="106.6" cy="220.2" r="1.5" fill="url(#gh)"/>
<circle cx="112.4" cy="230.0" r="2.3" fill="url(#gc)"/>
<circle cx="112.4" cy="236.5" r="1.5" fill="url(#gh)"/>
<circle cx="118.1" cy="227.5" r="2.3" fill="url(#gc)"/>
<circle cx="118.1" cy="221.5" r="1.5" fill="url(#gh)"/>
<circle cx="123.9" cy="230.7" r="2.3" fill="url(#gc)"/>
<circle cx="123.9" cy="237.2" r="1.5" fill="url(#gh)"/>
<circle cx="129.7" cy="227.5" r="2.3" fill="url(#gc)"/>
<circle cx="129.7" cy="221.5" r="1.5" fill="url(#gh)"/>
<circle cx="135.4" cy="230.0" r="2.3" fill="url(#gc)"/>
<circle cx="135.4" cy="236.5" r="1.5" fill="url(#gh)"/>
<circle cx="141.2" cy="226.2" r="2.3" fill="url(#gc)"/>
<circle cx="141.2" cy="220.2" r="1.5" fill="url(#gh)"/>
<path d="M101.60 226.42C102.75 223.78 110.05 223.78 111.20 226.42C112.25 229.28 110.32 233.15 106.40 233.15C102.48 233.15 100.55 229.28 101.60 226.42Z" fill="url(#gr)"/>
<path d="M113.83 227.37C114.85 225.06 121.35 225.06 122.37 227.37C123.30 229.87 121.58 233.26 118.10 233.26C114.62 233.26 112.90 229.87 113.83 227.37Z" fill="url(#gb)"/>
<path d="M126.23 227.37C127.25 225.06 133.75 225.06 134.77 227.37C135.70 229.87 133.98 233.26 130.50 233.26C127.02 233.26 125.30 229.87 126.23 227.37Z" fill="url(#gr)"/>
<path d="M137.40 226.67C138.55 224.36 145.85 224.36 147.00 226.67C148.05 229.17 146.11 232.56 142.20 232.56C138.28 232.56 136.35 229.17 137.40 226.67Z" fill="url(#gb)"/>
<ellipse cx="100.5" cy="218.1" rx="5.22" ry="2.75" fill="url(#gb)" transform="rotate(20 100.5 218.1)"/>
<ellipse cx="91.8" cy="219.6" rx="2.75" ry="2.70" fill="url(#gr)"/>
<ellipse cx="147.3" cy="217.4" rx="5.22" ry="3.30" fill="url(#gr)" transform="rotate(-20 147.3 217.4)"/>
<ellipse cx="156.0" cy="218.1" rx="2.75" ry="2.16" fill="url(#gb)"/>
<ellipse cx="151.6" cy="227.6" rx="1.93" ry="1.89" fill="url(#gr)"/>
<ellipse cx="96.2" cy="228.4" rx="1.93" ry="1.62" fill="url(#gb)"/>
<ellipse cx="156.8" cy="235.7" rx="1.93" ry="1.62" fill="url(#gb)"/>
<path d="M180.3 211.4L184.7 213.3M184.7 213.3L189.7 214.3M184.7 213.3L182.8 217.3M184.7 213.3L188.2 208.9M189.7 214.3L192.1 209.9M189.7 214.3L194.6 224.2M188.7 227.1L188.7 233.5M188.7 233.5L193.6 236.9M193.6 236.9L199.5 233.5M199.5 233.5L199.0 227.1M199.0 227.1L194.6 224.2M194.6 224.2L188.7 227.1M188.7 227.1L184.7 225.1M188.7 233.5L184.7 235.9M193.6 236.9L193.6 241.4M199.5 233.5L203.9 236.4M199.0 227.1L206.5 222.5M201.5 219.0L206.5 222.5M201.5 219.0L199.0 209.4M201.5 219.0L209.3 214.8M194.6 224.2L201.5 219.0M262.6 211.4L258.2 213.3M258.2 213.3L253.2 214.3M258.2 213.3L260.1 217.3M258.2 213.3L254.7 208.9M253.2 214.3L250.8 209.9M253.2 214.3L248.3 224.2M254.2 227.1L254.2 233.5M254.2 233.5L249.3 236.9M249.3 236.9L243.4 233.5M243.4 233.5L243.9 227.1M243.9 227.1L248.3 224.2M248.3 224.2L254.2 227.1M254.2 227.1L258.2 225.1M254.2 233.5L258.2 235.9M249.3 236.9L249.3 241.4M243.4 233.5L239.0 236.4M243.9 227.1L236.4 222.5M241.4 219.0L236.4 222.5M241.4 219.0L243.9 209.4M241.4 219.0L233.6 214.8M248.3 224.2L241.4 219.0M204.5 224.0L204.5 218.0M210.2 227.8L210.2 234.3M215.8 225.3L215.8 219.3M221.4 228.5L221.4 235.0M227.1 225.3L227.1 219.3M232.7 227.8L232.7 234.3M238.4 224.0L238.4 218.0M204.5 224.0L210.2 227.8M210.2 227.8L215.8 225.3M215.8 225.3L221.4 228.5M221.4 228.5L227.1 225.3M227.1 225.3L232.7 227.8M232.7 227.8L238.4 224.0" stroke="#8e8e8e" stroke-width="1.35" fill="none" stroke-linecap="round"/>
<circle cx="184.7" cy="213.3" r="2.3" fill="url(#gc)"/>
<circle cx="189.7" cy="214.3" r="2.3" fill="url(#gc)"/>
<circle cx="188.2" cy="208.9" r="2.3" fill="url(#gc)"/>
<circle cx="180.3" cy="211.4" r="1.5" fill="url(#gh)"/>
<circle cx="192.1" cy="209.9" r="1.5" fill="url(#gh)"/>
<circle cx="182.8" cy="217.3" r="1.5" fill="url(#gh)"/>
<circle cx="188.7" cy="227.1" r="2.3" fill="url(#gc)"/>
<circle cx="188.7" cy="233.5" r="2.3" fill="url(#gc)"/>
<circle cx="193.6" cy="236.9" r="2.3" fill="url(#gc)"/>
<circle cx="199.5" cy="233.5" r="2.3" fill="url(#gc)"/>
<circle cx="199.0" cy="227.1" r="2.3" fill="url(#gc)"/>
<circle cx="194.6" cy="224.2" r="2.2" fill="url(#gn)"/>
<circle cx="184.7" cy="225.1" r="1.5" fill="url(#gh)"/>
<circle cx="184.7" cy="235.9" r="1.5" fill="url(#gh)"/>
<circle cx="193.6" cy="241.4" r="1.5" fill="url(#gh)"/>
<circle cx="203.9" cy="236.4" r="1.5" fill="url(#gh)"/>
<circle cx="201.5" cy="219.0" r="2.3" fill="url(#gc)"/>
<circle cx="199.0" cy="209.4" r="1.5" fill="url(#gh)"/>
<circle cx="209.3" cy="214.8" r="1.5" fill="url(#gh)"/>
<circle cx="206.5" cy="222.5" r="2.3" fill="url(#gc)"/>
<circle cx="258.2" cy="213.3" r="2.3" fill="url(#gc)"/>
<circle cx="253.2" cy="214.3" r="2.3" fill="url(#gc)"/>
<circle cx="254.7" cy="208.9" r="2.3" fill="url(#gc)"/>
<circle cx="262.6" cy="211.4" r="1.5" fill="url(#gh)"/>
<circle cx="250.8" cy="209.9" r="1.5" fill="url(#gh)"/>
<circle cx="260.1" cy="217.3" r="1.5" fill="url(#gh)"/>
<circle cx="254.2" cy="227.1" r="2.3" fill="url(#gc)"/>
<circle cx="254.2" cy="233.5" r="2.3" fill="url(#gc)"/>
<circle cx="249.3" cy="236.9" r="2.3" fill="url(#gc)"/>
<circle cx="243.4" cy="233.5" r="2.3" fill="url(#gc)"/>
<circle cx="243.9" cy="227.1" r="2.3" fill="url(#gc)"/>
<circle cx="248.3" cy="224.2" r="2.2" fill="url(#gn)"/>
<circle cx="258.2" cy="225.1" r="1.5" fill="url(#gh)"/>
<circle cx="258.2" cy="235.9" r="1.5" fill="url(#gh)"/>
<circle cx="249.3" cy="241.4" r="1.5" fill="url(#gh)"/>
<circle cx="239.0" cy="236.4" r="1.5" fill="url(#gh)"/>
<circle cx="241.4" cy="219.0" r="2.3" fill="url(#gc)"/>
<circle cx="243.9" cy="209.4" r="1.5" fill="url(#gh)"/>
<circle cx="233.6" cy="214.8" r="1.5" fill="url(#gh)"/>
<circle cx="236.4" cy="222.5" r="2.3" fill="url(#gc)"/>
<circle cx="204.5" cy="224.0" r="2.3" fill="url(#gc)"/>
<circle cx="204.5" cy="218.0" r="1.5" fill="url(#gh)"/>
<circle cx="210.2" cy="227.8" r="2.3" fill="url(#gc)"/>
<circle cx="210.2" cy="234.3" r="1.5" fill="url(#gh)"/>
<circle cx="215.8" cy="225.3" r="2.3" fill="url(#gc)"/>
<circle cx="215.8" cy="219.3" r="1.5" fill="url(#gh)"/>
<circle cx="221.4" cy="228.5" r="2.3" fill="url(#gc)"/>
<circle cx="221.4" cy="235.0" r="1.5" fill="url(#gh)"/>
<circle cx="227.1" cy="225.3" r="2.3" fill="url(#gc)"/>
<circle cx="227.1" cy="219.3" r="1.5" fill="url(#gh)"/>
<circle cx="232.7" cy="227.8" r="2.3" fill="url(#gc)"/>
<circle cx="232.7" cy="234.3" r="1.5" fill="url(#gh)"/>
<circle cx="238.4" cy="224.0" r="2.3" fill="url(#gc)"/>
<circle cx="238.4" cy="218.0" r="1.5" fill="url(#gh)"/>
<path d="M197.66 225.17C198.56 222.86 204.24 222.86 205.14 225.17C205.95 227.67 204.44 231.06 201.40 231.06C198.36 231.06 196.85 227.67 197.66 225.17Z" fill="url(#gr)"/>
<path d="M207.86 225.17C208.76 222.86 214.44 222.86 215.34 225.17C216.15 227.67 214.64 231.06 211.60 231.06C208.56 231.06 207.05 227.67 207.86 225.17Z" fill="url(#gb)"/>
<path d="M218.06 225.17C218.96 222.86 224.64 222.86 225.54 225.17C226.35 227.67 224.84 231.06 221.80 231.06C218.76 231.06 217.25 227.67 218.06 225.17Z" fill="url(#gr)"/>
<path d="M228.10 224.47C228.86 222.16 233.74 222.16 234.50 224.47C235.20 226.97 233.91 230.36 231.30 230.36C228.69 230.36 227.40 226.97 228.10 224.47Z" fill="url(#gb)"/>
<path d="M238.03 223.42C239.05 220.78 245.55 220.78 246.57 223.42C247.50 226.28 245.78 230.15 242.30 230.15C238.82 230.15 237.10 226.28 238.03 223.42Z" fill="url(#gr)"/>
<ellipse cx="197.7" cy="217.4" rx="5.22" ry="3.30" fill="url(#gb)" transform="rotate(20 197.7 217.4)"/>
<ellipse cx="189.7" cy="219.6" rx="2.75" ry="2.70" fill="url(#gr)"/>
<ellipse cx="245.2" cy="216.0" rx="5.22" ry="3.30" fill="url(#gb)" transform="rotate(-20 245.2 216.0)"/>
<ellipse cx="253.2" cy="218.1" rx="2.75" ry="2.70" fill="url(#gr)"/>
<ellipse cx="194.8" cy="234.9" rx="1.93" ry="1.62" fill="url(#gb)"/>
<ellipse cx="253.9" cy="224.7" rx="1.93" ry="1.62" fill="url(#gb)"/>
<ellipse cx="248.8" cy="233.5" rx="1.93" ry="1.62" fill="url(#gb)"/>
<ellipse cx="184.6" cy="235.7" rx="1.93" ry="1.89" fill="url(#gr)"/>
<ellipse cx="259.0" cy="233.5" rx="1.93" ry="1.89" fill="url(#gr)"/>
<path d="M84.6 253.8L88.5 257.3M88.5 257.3L86.5 262.7M86.5 262.7L81.6 263.7M88.5 257.3L94.4 255.3M94.4 255.3L95.4 250.9M94.4 255.3L98.3 260.2M86.5 262.7L91.0 267.6M91.0 267.6L88.0 272.0M98.3 260.2L91.0 267.6M98.3 260.2L106.2 259.2M106.2 259.2L105.2 253.0M106.2 259.2L113.2 257.0M91.0 267.6L101.3 269.6M98.3 260.2L101.3 269.6M101.3 269.6L101.3 276.4M101.3 276.4L96.9 277.4M101.3 276.4L104.7 278.9M106.2 259.2L110.8 264.0M163.2 253.8L159.3 257.3M159.3 257.3L161.3 262.7M161.3 262.7L166.2 263.7M159.3 257.3L153.4 255.3M153.4 255.3L152.4 250.9M153.4 255.3L149.5 260.2M161.3 262.7L156.8 267.6M156.8 267.6L159.8 272.0M149.5 260.2L156.8 267.6M149.5 260.2L141.6 259.2M141.6 259.2L142.6 253.0M141.6 259.2L134.6 257.0M156.8 267.6L146.5 269.6M149.5 260.2L146.5 269.6M146.5 269.6L146.5 276.4M146.5 276.4L150.9 277.4M146.5 276.4L143.1 278.9M141.6 259.2L137.0 264.0M105.8 266.5L105.8 260.5M111.8 270.3L111.8 276.8M117.9 267.8L117.9 261.8M123.9 271.0L123.9 277.5M129.9 267.8L129.9 261.8M136.0 270.3L136.0 276.8M142.0 266.5L142.0 260.5M105.8 266.5L111.8 270.3M111.8 270.3L117.9 267.8M117.9 267.8L123.9 271.0M123.9 271.0L129.9 267.8M129.9 267.8L136.0 270.3M136.0 270.3L142.0 266.5M117.9 272.0L118.4 277.5M118.4 277.5L123.9 280.0M123.9 280.0L129.4 277.5M129.4 277.5L129.9 272.0M118.4 277.5L113.9 279.0M123.9 280.0L123.9 284.5M129.4 277.5L133.9 279.0M123.9 280.0L120.4 283.5M123.9 280.0L127.4 283.5" stroke="#8e8e8e" stroke-width="1.35" fill="none" stroke-linecap="round"/>
<circle cx="84.6" cy="253.8" r="1.5" fill="url(#gh)"/>
<circle cx="88.5" cy="257.3" r="2.2" fill="url(#go)"/>
<circle cx="86.5" cy="262.7" r="2.3" fill="url(#gc)"/>
<circle cx="81.6" cy="263.7" r="1.5" fill="url(#gh)"/>
<circle cx="94.4" cy="255.3" r="2.3" fill="url(#gc)"/>
<circle cx="95.4" cy="250.9" r="1.5" fill="url(#gh)"/>
<circle cx="98.3" cy="260.2" r="2.2" fill="url(#gn)"/>
<circle cx="91.0" cy="267.6" r="2.2" fill="url(#gn)"/>
<circle cx="88.0" cy="272.0" r="1.5" fill="url(#gh)"/>
<circle cx="106.2" cy="259.2" r="2.3" fill="url(#gc)"/>
<circle cx="105.2" cy="253.0" r="1.5" fill="url(#gh)"/>
<circle cx="113.2" cy="257.0" r="1.5" fill="url(#gh)"/>
<circle cx="101.3" cy="269.6" r="2.3" fill="url(#gc)"/>
<circle cx="101.3" cy="276.4" r="2.3" fill="url(#gc)"/>
<circle cx="96.9" cy="277.4" r="1.5" fill="url(#gh)"/>
<circle cx="104.7" cy="278.9" r="1.5" fill="url(#gh)"/>
<circle cx="110.8" cy="264.0" r="1.5" fill="url(#gh)"/>
<circle cx="163.2" cy="253.8" r="1.5" fill="url(#gh)"/>
<circle cx="159.3" cy="257.3" r="2.2" fill="url(#go)"/>
<circle cx="161.3" cy="262.7" r="2.3" fill="url(#gc)"/>
<circle cx="166.2" cy="263.7" r="1.5" fill="url(#gh)"/>
<circle cx="153.4" cy="255.3" r="2.3" fill="url(#gc)"/>
<circle cx="152.4" cy="250.9" r="1.5" fill="url(#gh)"/>
<circle cx="149.5" cy="260.2" r="2.2" fill="url(#gn)"/>
<circle cx="156.8" cy="267.6" r="2.2" fill="url(#gn)"/>
<circle cx="159.8" cy="272.0" r="1.5" fill="url(#gh)"/>
<circle cx="141.6" cy="259.2" r="2.3" fill="url(#gc)"/>
<circle cx="142.6" cy="253.0" r="1.5" fill="url(#gh)"/>
<circle cx="134.6" cy="257.0" r="1.5" fill="url(#gh)"/>
<circle cx="146.5" cy="269.6" r="2.3" fill="url(#gc)"/>
<circle cx="146.5" cy="276.4" r="2.3" fill="url(#gc)"/>
<circle cx="150.9" cy="277.4" r="1.5" fill="url(#gh)"/>
<circle cx="143.1" cy="278.9" r="1.5" fill="url(#gh)"/>
<circle cx="137.0" cy="264.0" r="1.5" fill="url(#gh)"/>
<circle cx="105.8" cy="266.5" r="2.3" fill="url(#gc)"/>
<circle cx="105.8" cy="260.5" r="1.5" fill="url(#gh)"/>
<circle cx="111.8" cy="270.3" r="2.3" fill="url(#gc)"/>
<circle cx="111.8" cy="276.8" r="1.5" fill="url(#gh)"/>
<circle cx="117.9" cy="267.8" r="2.3" fill="url(#gc)"/>
<circle cx="117.9" cy="261.8" r="1.5" fill="url(#gh)"/>
<circle cx="123.9" cy="271.0" r="2.3" fill="url(#gc)"/>
<circle cx="123.9" cy="277.5" r="1.5" fill="url(#gh)"/>
<circle cx="129.9" cy="267.8" r="2.3" fill="url(#gc)"/>
<circle cx="129.9" cy="261.8" r="1.5" fill="url(#gh)"/>
<circle cx="136.0" cy="270.3" r="2.3" fill="url(#gc)"/>
<circle cx="136.0" cy="276.8" r="1.5" fill="url(#gh)"/>
<circle cx="142.0" cy="266.5" r="2.3" fill="url(#gc)"/>
<circle cx="142.0" cy="260.5" r="1.5" fill="url(#gh)"/>
<circle cx="117.9" cy="272.0" r="2.3" fill="url(#gc)"/>
<circle cx="118.4" cy="277.5" r="2.3" fill="url(#gc)"/>
<circle cx="123.9" cy="280.0" r="2.3" fill="url(#gc)"/>
<circle cx="129.4" cy="277.5" r="2.3" fill="url(#gc)"/>
<circle cx="129.9" cy="272.0" r="2.3" fill="url(#gc)"/>
<circle cx="113.9" cy="279.0" r="1.5" fill="url(#gh)"/>
<circle cx="123.9" cy="284.5" r="1.5" fill="url(#gh)"/>
<circle cx="133.9" cy="279.0" r="1.5" fill="url(#gh)"/>
<circle cx="120.4" cy="283.5" r="1.5" fill="url(#gh)"/>
<circle cx="127.4" cy="283.5" r="1.5" fill="url(#gh)"/>
<line x1="124.6" y1="259.6" x2="124.6" y2="267.0" stroke="#7a7a7a" stroke-width="1.5"/>
<circle cx="124.6" cy="259.6" r="2" fill="url(#gg)"/>
<ellipse cx="108.6" cy="269.1" rx="5.22" ry="4.12" fill="url(#gr)" transform="rotate(28 108.6 269.1)"/>
<path d="M114.70 267.74C115.85 265.27 123.15 265.27 124.30 267.74C125.35 270.43 123.42 274.06 119.50 274.06C115.58 274.06 113.65 270.43 114.70 267.74Z" fill="url(#gb)"/>
<path d="M126.66 267.24C127.75 264.77 134.65 264.77 135.74 267.24C136.72 269.93 134.90 273.56 131.20 273.56C127.50 273.56 125.68 269.93 126.66 267.24Z" fill="url(#gr)"/>
<ellipse cx="141.8" cy="268.2" rx="5.22" ry="4.12" fill="url(#gb)" transform="rotate(-25 141.8 268.2)"/>
<path d="M147.53 266.91C148.17 264.94 152.23 264.94 152.87 266.91C153.45 269.06 152.38 271.96 150.20 271.96C148.02 271.96 146.95 269.06 147.53 266.91Z" fill="url(#gr)"/>
<ellipse cx="99.1" cy="269.1" rx="2.75" ry="2.70" fill="url(#gb)"/>
<ellipse cx="97.6" cy="259.6" rx="1.65" ry="1.62" fill="url(#gr)"/>
<ellipse cx="89.6" cy="265.4" rx="1.65" ry="1.62" fill="url(#gr)"/>
<ellipse cx="160.4" cy="254.5" rx="1.93" ry="1.89" fill="url(#gr)"/>
<ellipse cx="88.9" cy="256.0" rx="1.93" ry="1.62" fill="url(#gb)"/>
<ellipse cx="151.6" cy="258.9" rx="1.93" ry="1.62" fill="url(#gb)"/>
<ellipse cx="158.9" cy="264.0" rx="1.93" ry="1.62" fill="url(#gb)"/>
<path d="M181.8 252.8L185.7 256.3M185.7 256.3L183.7 261.7M183.7 261.7L178.8 262.7M185.7 256.3L191.6 254.3M191.6 254.3L192.6 249.9M191.6 254.3L195.5 259.2M183.7 261.7L188.2 266.6M188.2 266.6L185.2 271.0M195.5 259.2L188.2 266.6M195.5 259.2L203.4 258.2M203.4 258.2L202.4 252.0M203.4 258.2L210.4 256.0M188.2 266.6L198.5 268.6M195.5 259.2L198.5 268.6M198.5 268.6L198.5 275.4M198.5 275.4L194.1 276.4M198.5 275.4L201.9 277.9M203.4 258.2L208.0 263.0M260.4 252.8L256.5 256.3M256.5 256.3L258.5 261.7M258.5 261.7L263.4 262.7M256.5 256.3L250.6 254.3M250.6 254.3L249.6 249.9M250.6 254.3L246.7 259.2M258.5 261.7L254.0 266.6M254.0 266.6L257.0 271.0M246.7 259.2L254.0 266.6M246.7 259.2L238.8 258.2M238.8 258.2L239.8 252.0M238.8 258.2L231.8 256.0M254.0 266.6L243.7 268.6M246.7 259.2L243.7 268.6M243.7 268.6L243.7 275.4M243.7 275.4L248.1 276.4M243.7 275.4L240.3 277.9M238.8 258.2L234.2 263.0M203.0 265.5L203.0 259.5M209.0 269.3L209.0 275.8M215.1 266.8L215.1 260.8M221.1 270.0L221.1 276.5M227.1 266.8L227.1 260.8M233.2 269.3L233.2 275.8M239.2 265.5L239.2 259.5M203.0 265.5L209.0 269.3M209.0 269.3L215.1 266.8M215.1 266.8L221.1 270.0M221.1 270.0L227.1 266.8M227.1 266.8L233.2 269.3M233.2 269.3L239.2 265.5M215.1 271.0L215.6 276.5M215.6 276.5L221.1 279.0M221.1 279.0L226.6 276.5M226.6 276.5L227.1 271.0M215.6 276.5L211.1 278.0M221.1 279.0L221.1 283.5M226.6 276.5L231.1 278.0M221.1 279.0L217.6 282.5M221.1 279.0L224.6 282.5" stroke="#8e8e8e" stroke-width="1.35" fill="none" stroke-linecap="round"/>
<circle cx="181.8" cy="252.8" r="1.5" fill="url(#gh)"/>
<circle cx="185.7" cy="256.3" r="2.2" fill="url(#go)"/>
<circle cx="183.7" cy="261.7" r="2.3" fill="url(#gc)"/>
<circle cx="178.8" cy="262.7" r="1.5" fill="url(#gh)"/>
<circle cx="191.6" cy="254.3" r="2.3" fill="url(#gc)"/>
<circle cx="192.6" cy="249.9" r="1.5" fill="url(#gh)"/>
<circle cx="195.5" cy="259.2" r="2.2" fill="url(#gn)"/>
<circle cx="188.2" cy="266.6" r="2.2" fill="url(#gn)"/>
<circle cx="185.2" cy="271.0" r="1.5" fill="url(#gh)"/>
<circle cx="203.4" cy="258.2" r="2.3" fill="url(#gc)"/>
<circle cx="202.4" cy="252.0" r="1.5" fill="url(#gh)"/>
<circle cx="210.4" cy="256.0" r="1.5" fill="url(#gh)"/>
<circle cx="198.5" cy="268.6" r="2.3" fill="url(#gc)"/>
<circle cx="198.5" cy="275.4" r="2.3" fill="url(#gc)"/>
<circle cx="194.1" cy="276.4" r="1.5" fill="url(#gh)"/>
<circle cx="201.9" cy="277.9" r="1.5" fill="url(#gh)"/>
<circle cx="208.0" cy="263.0" r="1.5" fill="url(#gh)"/>
<circle cx="260.4" cy="252.8" r="1.5" fill="url(#gh)"/>
<circle cx="256.5" cy="256.3" r="2.2" fill="url(#go)"/>
<circle cx="258.5" cy="261.7" r="2.3" fill="url(#gc)"/>
<circle cx="263.4" cy="262.7" r="1.5" fill="url(#gh)"/>
<circle cx="250.6" cy="254.3" r="2.3" fill="url(#gc)"/>
<circle cx="249.6" cy="249.9" r="1.5" fill="url(#gh)"/>
<circle cx="246.7" cy="259.2" r="2.2" fill="url(#gn)"/>
<circle cx="254.0" cy="266.6" r="2.2" fill="url(#gn)"/>
<circle cx="257.0" cy="271.0" r="1.5" fill="url(#gh)"/>
<circle cx="238.8" cy="258.2" r="2.3" fill="url(#gc)"/>
<circle cx="239.8" cy="252.0" r="1.5" fill="url(#gh)"/>
<circle cx="231.8" cy="256.0" r="1.5" fill="url(#gh)"/>
<circle cx="243.7" cy="268.6" r="2.3" fill="url(#gc)"/>
<circle cx="243.7" cy="275.4" r="2.3" fill="url(#gc)"/>
<circle cx="248.1" cy="276.4" r="1.5" fill="url(#gh)"/>
<circle cx="240.3" cy="277.9" r="1.5" fill="url(#gh)"/>
<circle cx="234.2" cy="263.0" r="1.5" fill="url(#gh)"/>
<circle cx="203.0" cy="265.5" r="2.3" fill="url(#gc)"/>
<circle cx="203.0" cy="259.5" r="1.5" fill="url(#gh)"/>
<circle cx="209.0" cy="269.3" r="2.3" fill="url(#gc)"/>
<circle cx="209.0" cy="275.8" r="1.5" fill="url(#gh)"/>
<circle cx="215.1" cy="266.8" r="2.3" fill="url(#gc)"/>
<circle cx="215.1" cy="260.8" r="1.5" fill="url(#gh)"/>
<circle cx="221.1" cy="270.0" r="2.3" fill="url(#gc)"/>
<circle cx="221.1" cy="276.5" r="1.5" fill="url(#gh)"/>
<circle cx="227.1" cy="266.8" r="2.3" fill="url(#gc)"/>
<circle cx="227.1" cy="260.8" r="1.5" fill="url(#gh)"/>
<circle cx="233.2" cy="269.3" r="2.3" fill="url(#gc)"/>
<circle cx="233.2" cy="275.8" r="1.5" fill="url(#gh)"/>
<circle cx="239.2" cy="265.5" r="2.3" fill="url(#gc)"/>
<circle cx="239.2" cy="259.5" r="1.5" fill="url(#gh)"/>
<circle cx="215.1" cy="271.0" r="2.3" fill="url(#gc)"/>
<circle cx="215.6" cy="276.5" r="2.3" fill="url(#gc)"/>
<circle cx="221.1" cy="279.0" r="2.3" fill="url(#gc)"/>
<circle cx="226.6" cy="276.5" r="2.3" fill="url(#gc)"/>
<circle cx="227.1" cy="271.0" r="2.3" fill="url(#gc)"/>
<circle cx="211.1" cy="278.0" r="1.5" fill="url(#gh)"/>
<circle cx="221.1" cy="283.5" r="1.5" fill="url(#gh)"/>
<circle cx="231.1" cy="278.0" r="1.5" fill="url(#gh)"/>
<circle cx="217.6" cy="282.5" r="1.5" fill="url(#gh)"/>
<circle cx="224.6" cy="282.5" r="1.5" fill="url(#gh)"/>
<line x1="221.8" y1="259.6" x2="221.8" y2="266.0" stroke="#7a7a7a" stroke-width="1.5"/>
<circle cx="221.8" cy="259.6" r="2" fill="url(#gg)"/>
<path d="M193.63 268.31C194.27 266.34 198.33 266.34 198.97 268.31C199.55 270.46 198.48 273.36 196.30 273.36C194.12 273.36 193.05 270.46 193.63 268.31Z" fill="url(#gr)"/>
<ellipse cx="203.6" cy="267.6" rx="4.93" ry="3.85" fill="url(#gb)" transform="rotate(28 203.6 267.6)"/>
<path d="M209.36 265.62C210.26 262.98 215.94 262.98 216.84 265.62C217.65 268.48 216.14 272.35 213.10 272.35C210.06 272.35 208.55 268.48 209.36 265.62Z" fill="url(#gr)"/>
<path d="M218.06 265.87C218.96 263.56 224.64 263.56 225.54 265.87C226.35 268.37 224.84 271.76 221.80 271.76C218.76 271.76 217.25 268.37 218.06 265.87Z" fill="url(#gb)"/>
<path d="M227.56 264.92C228.46 262.28 234.14 262.28 235.04 264.92C235.85 267.78 234.34 271.65 231.30 271.65C228.26 271.65 226.75 267.78 227.56 264.92Z" fill="url(#gr)"/>
<ellipse cx="240.8" cy="266.9" rx="4.93" ry="3.85" fill="url(#gb)" transform="rotate(-25 240.8 266.9)"/>
<path d="M244.73 266.91C245.37 264.94 249.43 264.94 250.07 266.91C250.65 269.06 249.58 271.96 247.40 271.96C245.22 271.96 244.15 269.06 244.73 266.91Z" fill="url(#gr)"/>
<ellipse cx="186.1" cy="256.0" rx="1.65" ry="1.62" fill="url(#gr)"/>
<ellipse cx="257.6" cy="255.2" rx="1.65" ry="1.62" fill="url(#gr)"/>
<ellipse cx="187.5" cy="266.2" rx="1.93" ry="1.62" fill="url(#gb)"/>
<ellipse cx="256.1" cy="264.7" rx="1.93" ry="1.62" fill="url(#gb)"/>
<path d="M81.6 291.4L86.0 293.3M86.0 293.3L91.0 294.3M86.0 293.3L84.1 297.3M86.0 293.3L89.5 288.9M91.0 294.3L93.4 289.9M91.0 294.3L95.9 304.2M90.0 307.1L90.0 313.5M90.0 313.5L94.9 316.9M94.9 316.9L100.8 313.5M100.8 313.5L100.3 307.1M100.3 307.1L95.9 304.2M95.9 304.2L90.0 307.1M90.0 307.1L86.0 305.1M90.0 313.5L86.0 315.9M94.9 316.9L94.9 321.4M100.8 313.5L105.2 316.4M100.3 307.1L107.8 302.5M102.8 299.0L107.8 302.5M102.8 299.0L100.3 289.4M102.8 299.0L110.6 294.8M95.9 304.2L102.8 299.0M166.2 291.4L161.8 293.3M161.8 293.3L156.8 294.3M161.8 293.3L163.7 297.3M161.8 293.3L158.3 288.9M156.8 294.3L154.4 289.9M156.8 294.3L151.9 304.2M157.8 307.1L157.8 313.5M157.8 313.5L152.9 316.9M152.9 316.9L147.0 313.5M147.0 313.5L147.5 307.1M147.5 307.1L151.9 304.2M151.9 304.2L157.8 307.1M157.8 307.1L161.8 305.1M157.8 313.5L161.8 315.9M152.9 316.9L152.9 321.4M147.0 313.5L142.6 316.4M147.5 307.1L140.0 302.5M145.0 299.0L140.0 302.5M145.0 299.0L147.5 289.4M145.0 299.0L137.2 294.8M151.9 304.2L145.0 299.0M105.8 304.0L105.8 298.0M111.8 307.8L111.8 314.3M117.9 305.3L117.9 299.3M123.9 308.5L123.9 315.0M129.9 305.3L129.9 299.3M136.0 307.8L136.0 314.3M142.0 304.0L142.0 298.0M105.8 304.0L111.8 307.8M111.8 307.8L117.9 305.3M117.9 305.3L123.9 308.5M123.9 308.5L129.9 305.3M129.9 305.3L136.0 307.8M136.0 307.8L142.0 304.0M117.9 309.5L118.4 315.0M118.4 315.0L123.9 317.5M123.9 317.5L129.4 315.0M129.4 315.0L129.9 309.5M118.4 315.0L113.9 316.5M123.9 317.5L123.9 322.0M129.4 315.0L133.9 316.5M123.9 317.5L120.4 321.0M123.9 317.5L127.4 321.0" stroke="#8e8e8e" stroke-width="1.35" fill="none" stroke-linecap="round"/>
<circle cx="86.0" cy="293.3" r="2.3" fill="url(#gc)"/>
<circle cx="91.0" cy="294.3" r="2.3" fill="url(#gc)"/>
<circle cx="89.5" cy="288.9" r="2.2" fill="url(#go)"/>
<circle cx="81.6" cy="291.4" r="1.5" fill="url(#gh)"/>
<circle cx="93.4" cy="289.9" r="1.5" fill="url(#gh)"/>
<circle cx="84.1" cy="297.3" r="1.5" fill="url(#gh)"/>
<circle cx="90.0" cy="307.1" r="2.3" fill="url(#gc)"/>
<circle cx="90.0" cy="313.5" r="2.3" fill="url(#gc)"/>
<circle cx="94.9" cy="316.9" r="2.3" fill="url(#gc)"/>
<circle cx="100.8" cy="313.5" r="2.3" fill="url(#gc)"/>
<circle cx="100.3" cy="307.1" r="2.3" fill="url(#gc)"/>
<circle cx="95.9" cy="304.2" r="2.2" fill="url(#gn)"/>
<circle cx="86.0" cy="305.1" r="1.5" fill="url(#gh)"/>
<circle cx="86.0" cy="315.9" r="1.5" fill="url(#gh)"/>
<circle cx="94.9" cy="321.4" r="1.5" fill="url(#gh)"/>
<circle cx="105.2" cy="316.4" r="1.5" fill="url(#gh)"/>
<circle cx="102.8" cy="299.0" r="2.3" fill="url(#gc)"/>
<circle cx="100.3" cy="289.4" r="1.5" fill="url(#gh)"/>
<circle cx="110.6" cy="294.8" r="1.5" fill="url(#gh)"/>
<circle cx="107.8" cy="302.5" r="2.3" fill="url(#gc)"/>
<circle cx="161.8" cy="293.3" r="2.3" fill="url(#gc)"/>
<circle cx="156.8" cy="294.3" r="2.3" fill="url(#gc)"/>
<circle cx="158.3" cy="288.9" r="2.2" fill="url(#go)"/>
<circle cx="166.2" cy="291.4" r="1.5" fill="url(#gh)"/>
<circle cx="154.4" cy="289.9" r="1.5" fill="url(#gh)"/>
<circle cx="163.7" cy="297.3" r="1.5" fill="url(#gh)"/>
<circle cx="157.8" cy="307.1" r="2.3" fill="url(#gc)"/>
<circle cx="157.8" cy="313.5" r="2.3" fill="url(#gc)"/>
<circle cx="152.9" cy="316.9" r="2.3" fill="url(#gc)"/>
<circle cx="147.0" cy="313.5" r="2.3" fill="url(#gc)"/>
<circle cx="147.5" cy="307.1" r="2.3" fill="url(#gc)"/>
<circle cx="151.9" cy="304.2" r="2.2" fill="url(#gn)"/>
<circle cx="161.8" cy="305.1" r="1.5" fill="url(#gh)"/>
<circle cx="161.8" cy="315.9" r="1.5" fill="url(#gh)"/>
<circle cx="152.9" cy="321.4" r="1.5" fill="url(#gh)"/>
<circle cx="142.6" cy="316.4" r="1.5" fill="url(#gh)"/>
<circle cx="145.0" cy="299.0" r="2.3" fill="url(#gc)"/>
<circle cx="147.5" cy="289.4" r="1.5" fill="url(#gh)"/>
<circle cx="137.2" cy="294.8" r="1.5" fill="url(#gh)"/>
<circle cx="140.0" cy="302.5" r="2.3" fill="url(#gc)"/>
<circle cx="105.8" cy="304.0" r="2.3" fill="url(#gc)"/>
<circle cx="105.8" cy="298.0" r="1.5" fill="url(#gh)"/>
<circle cx="111.8" cy="307.8" r="2.3" fill="url(#gc)"/>
<circle cx="111.8" cy="314.3" r="1.5" fill="url(#gh)"/>
<circle cx="117.9" cy="305.3" r="2.3" fill="url(#gc)"/>
<circle cx="117.9" cy="299.3" r="1.5" fill="url(#gh)"/>
<circle cx="123.9" cy="308.5" r="2.3" fill="url(#gc)"/>
<circle cx="123.9" cy="315.0" r="1.5" fill="url(#gh)"/>
<circle cx="129.9" cy="305.3" r="2.3" fill="url(#gc)"/>
<circle cx="129.9" cy="299.3" r="1.5" fill="url(#gh)"/>
<circle cx="136.0" cy="307.8" r="2.3" fill="url(#gc)"/>
<circle cx="136.0" cy="314.3" r="1.5" fill="url(#gh)"/>
<circle cx="142.0" cy="304.0" r="2.3" fill="url(#gc)"/>
<circle cx="142.0" cy="298.0" r="1.5" fill="url(#gh)"/>
<circle cx="117.9" cy="309.5" r="2.3" fill="url(#gc)"/>
<circle cx="118.4" cy="315.0" r="2.3" fill="url(#gc)"/>
<circle cx="123.9" cy="317.5" r="2.3" fill="url(#gc)"/>
<circle cx="129.4" cy="315.0" r="2.3" fill="url(#gc)"/>
<circle cx="129.9" cy="309.5" r="2.3" fill="url(#gc)"/>
<circle cx="113.9" cy="316.5" r="1.5" fill="url(#gh)"/>
<circle cx="123.9" cy="322.0" r="1.5" fill="url(#gh)"/>
<circle cx="133.9" cy="316.5" r="1.5" fill="url(#gh)"/>
<circle cx="120.4" cy="321.0" r="1.5" fill="url(#gh)"/>
<circle cx="127.4" cy="321.0" r="1.5" fill="url(#gh)"/>
<line x1="123.9" y1="301.1" x2="123.9" y2="304.5" stroke="#7a7a7a" stroke-width="1.5"/>
<circle cx="123.9" cy="301.1" r="2" fill="url(#gg)"/>
<ellipse cx="101.0" cy="300.6" rx="5.22" ry="2.75" fill="url(#gr)" transform="rotate(25 101.0 300.6)"/>
<ellipse cx="106.0" cy="307.0" rx="6.38" ry="3.58" fill="url(#gb)" transform="rotate(33 106.0 307.0)"/>
<ellipse cx="107.5" cy="312.0" rx="5.22" ry="2.20" fill="url(#gr)" transform="rotate(33 107.5 312.0)"/>
<path d="M112.66 304.69C113.75 302.55 120.65 302.55 121.74 304.69C122.72 307.01 120.90 310.16 117.20 310.16C113.50 310.16 111.68 307.01 112.66 304.69Z" fill="url(#gr)"/>
<ellipse cx="118.5" cy="310.8" rx="2.75" ry="2.16" fill="url(#gb)"/>
<path d="M124.96 304.69C126.05 302.55 132.95 302.55 134.04 304.69C135.02 307.01 133.20 310.16 129.50 310.16C125.80 310.16 123.98 307.01 124.96 304.69Z" fill="url(#gb)"/>
<ellipse cx="128.5" cy="310.8" rx="2.75" ry="2.16" fill="url(#gr)"/>
<ellipse cx="141.5" cy="307.0" rx="6.38" ry="3.58" fill="url(#gr)" transform="rotate(-33 141.5 307.0)"/>
<ellipse cx="147.0" cy="300.6" rx="5.22" ry="2.75" fill="url(#gb)" transform="rotate(-25 147.0 300.6)"/>
<ellipse cx="140.5" cy="312.0" rx="5.22" ry="2.20" fill="url(#gb)" transform="rotate(-33 140.5 312.0)"/>
<ellipse cx="154.6" cy="301.1" rx="2.75" ry="2.70" fill="url(#gr)"/>
<ellipse cx="93.1" cy="305.7" rx="1.93" ry="1.62" fill="url(#gr)"/>
<ellipse cx="97.1" cy="308.9" rx="2.20" ry="1.89" fill="url(#gr)"/>
<ellipse cx="117.3" cy="317.8" rx="1.65" ry="1.62" fill="url(#gr)"/>
<ellipse cx="129.0" cy="317.8" rx="1.65" ry="1.62" fill="url(#gb)"/>
<ellipse cx="92.5" cy="301.8" rx="1.93" ry="1.62" fill="url(#gb)"/>
<ellipse cx="88.9" cy="291.6" rx="1.65" ry="1.62" fill="url(#gr)"/>
<ellipse cx="158.2" cy="290.8" rx="1.65" ry="1.62" fill="url(#gr)"/>
<path d="M178.8 290.3L183.2 292.2M183.2 292.2L188.2 293.2M183.2 292.2L181.3 296.2M183.2 292.2L186.7 287.8M188.2 293.2L190.6 288.8M188.2 293.2L193.1 303.1M187.2 306.0L187.2 312.4M187.2 312.4L192.1 315.8M192.1 315.8L198.0 312.4M198.0 312.4L197.5 306.0M197.5 306.0L193.1 303.1M193.1 303.1L187.2 306.0M187.2 306.0L183.2 304.0M187.2 312.4L183.2 314.8M192.1 315.8L192.1 320.3M198.0 312.4L202.4 315.3M197.5 306.0L205.0 301.4M200.0 297.9L205.0 301.4M200.0 297.9L197.5 288.3M200.0 297.9L207.8 293.7M193.1 303.1L200.0 297.9M263.4 290.3L259.0 292.2M259.0 292.2L254.0 293.2M259.0 292.2L260.9 296.2M259.0 292.2L255.5 287.8M254.0 293.2L251.6 288.8M254.0 293.2L249.1 303.1M255.0 306.0L255.0 312.4M255.0 312.4L250.1 315.8M250.1 315.8L244.2 312.4M244.2 312.4L244.7 306.0M244.7 306.0L249.1 303.1M249.1 303.1L255.0 306.0M255.0 306.0L259.0 304.0M255.0 312.4L259.0 314.8M250.1 315.8L250.1 320.3M244.2 312.4L239.8 315.3M244.7 306.0L237.2 301.4M242.2 297.9L237.2 301.4M242.2 297.9L244.7 288.3M242.2 297.9L234.4 293.7M249.1 303.1L242.2 297.9M203.0 302.9L203.0 296.9M209.0 306.7L209.0 313.2M215.1 304.2L215.1 298.2M221.1 307.4L221.1 313.9M227.1 304.2L227.1 298.2M233.2 306.7L233.2 313.2M239.2 302.9L239.2 296.9M203.0 302.9L209.0 306.7M209.0 306.7L215.1 304.2M215.1 304.2L221.1 307.4M221.1 307.4L227.1 304.2M227.1 304.2L233.2 306.7M233.2 306.7L239.2 302.9M215.1 308.4L215.6 313.9M215.6 313.9L221.1 316.4M221.1 316.4L226.6 313.9M226.6 313.9L227.1 308.4M215.6 313.9L211.1 315.4M221.1 316.4L221.1 320.9M226.6 313.9L231.1 315.4M221.1 316.4L217.6 319.9M221.1 316.4L224.6 319.9" stroke="#8e8e8e" stroke-width="1.35" fill="none" stroke-linecap="round"/>
<circle cx="183.2" cy="292.2" r="2.3" fill="url(#gc)"/>
<circle cx="188.2" cy="293.2" r="2.3" fill="url(#gc)"/>
<circle cx="186.7" cy="287.8" r="2.2" fill="url(#go)"/>
<circle cx="178.8" cy="290.3" r="1.5" fill="url(#gh)"/>
<circle cx="190.6" cy="288.8" r="1.5" fill="url(#gh)"/>
<circle cx="181.3" cy="296.2" r="1.5" fill="url(#gh)"/>
<circle cx="187.2" cy="306.0" r="2.3" fill="url(#gc)"/>
<circle cx="187.2" cy="312.4" r="2.3" fill="url(#gc)"/>
<circle cx="192.1" cy="315.8" r="2.3" fill="url(#gc)"/>
<circle cx="198.0" cy="312.4" r="2.3" fill="url(#gc)"/>
<circle cx="197.5" cy="306.0" r="2.3" fill="url(#gc)"/>
<circle cx="193.1" cy="303.1" r="2.2" fill="url(#gn)"/>
<circle cx="183.2" cy="304.0" r="1.5" fill="url(#gh)"/>
<circle cx="183.2" cy="314.8" r="1.5" fill="url(#gh)"/>
<circle cx="192.1" cy="320.3" r="1.5" fill="url(#gh)"/>
<circle cx="202.4" cy="315.3" r="1.5" fill="url(#gh)"/>
<circle cx="200.0" cy="297.9" r="2.3" fill="url(#gc)"/>
<circle cx="197.5" cy="288.3" r="1.5" fill="url(#gh)"/>
<circle cx="207.8" cy="293.7" r="1.5" fill="url(#gh)"/>
<circle cx="205.0" cy="301.4" r="2.3" fill="url(#gc)"/>
<circle cx="259.0" cy="292.2" r="2.3" fill="url(#gc)"/>
<circle cx="254.0" cy="293.2" r="2.3" fill="url(#gc)"/>
<circle cx="255.5" cy="287.8" r="2.2" fill="url(#go)"/>
<circle cx="263.4" cy="290.3" r="1.5" fill="url(#gh)"/>
<circle cx="251.6" cy="288.8" r="1.5" fill="url(#gh)"/>
<circle cx="260.9" cy="296.2" r="1.5" fill="url(#gh)"/>
<circle cx="255.0" cy="306.0" r="2.3" fill="url(#gc)"/>
<circle cx="255.0" cy="312.4" r="2.3" fill="url(#gc)"/>
<circle cx="250.1" cy="315.8" r="2.3" fill="url(#gc)"/>
<circle cx="244.2" cy="312.4" r="2.3" fill="url(#gc)"/>
<circle cx="244.7" cy="306.0" r="2.3" fill="url(#gc)"/>
<circle cx="249.1" cy="303.1" r="2.2" fill="url(#gn)"/>
<circle cx="259.0" cy="304.0" r="1.5" fill="url(#gh)"/>
<circle cx="259.0" cy="314.8" r="1.5" fill="url(#gh)"/>
<circle cx="250.1" cy="320.3" r="1.5" fill="url(#gh)"/>
<circle cx="239.8" cy="315.3" r="1.5" fill="url(#gh)"/>
<circle cx="242.2" cy="297.9" r="2.3" fill="url(#gc)"/>
<circle cx="244.7" cy="288.3" r="1.5" fill="url(#gh)"/>
<circle cx="234.4" cy="293.7" r="1.5" fill="url(#gh)"/>
<circle cx="237.2" cy="301.4" r="2.3" fill="url(#gc)"/>
<circle cx="203.0" cy="302.9" r="2.3" fill="url(#gc)"/>
<circle cx="203.0" cy="296.9" r="1.5" fill="url(#gh)"/>
<circle cx="209.0" cy="306.7" r="2.3" fill="url(#gc)"/>
<circle cx="209.0" cy="313.2" r="1.5" fill="url(#gh)"/>
<circle cx="215.1" cy="304.2" r="2.3" fill="url(#gc)"/>
<circle cx="215.1" cy="298.2" r="1.5" fill="url(#gh)"/>
<circle cx="221.1" cy="307.4" r="2.3" fill="url(#gc)"/>
<circle cx="221.1" cy="313.9" r="1.5" fill="url(#gh)"/>
<circle cx="227.1" cy="304.2" r="2.3" fill="url(#gc)"/>
<circle cx="227.1" cy="298.2" r="1.5" fill="url(#gh)"/>
<circle cx="233.2" cy="306.7" r="2.3" fill="url(#gc)"/>
<circle cx="233.2" cy="313.2" r="1.5" fill="url(#gh)"/>
<circle cx="239.2" cy="302.9" r="2.3" fill="url(#gc)"/>
<circle cx="239.2" cy="296.9" r="1.5" fill="url(#gh)"/>
<circle cx="215.1" cy="308.4" r="2.3" fill="url(#gc)"/>
<circle cx="215.6" cy="313.9" r="2.3" fill="url(#gc)"/>
<circle cx="221.1" cy="316.4" r="2.3" fill="url(#gc)"/>
<circle cx="226.6" cy="313.9" r="2.3" fill="url(#gc)"/>
<circle cx="227.1" cy="308.4" r="2.3" fill="url(#gc)"/>
<circle cx="211.1" cy="315.4" r="1.5" fill="url(#gh)"/>
<circle cx="221.1" cy="320.9" r="1.5" fill="url(#gh)"/>
<circle cx="231.1" cy="315.4" r="1.5" fill="url(#gh)"/>
<circle cx="217.6" cy="319.9" r="1.5" fill="url(#gh)"/>
<circle cx="224.6" cy="319.9" r="1.5" fill="url(#gh)"/>
<line x1="221.1" y1="300.3" x2="221.1" y2="303.4" stroke="#7a7a7a" stroke-width="1.5"/>
<circle cx="221.1" cy="300.3" r="2" fill="url(#gg)"/>
<ellipse cx="198.5" cy="300.0" rx="5.22" ry="2.75" fill="url(#gr)" transform="rotate(25 198.5 300.0)"/>
<ellipse cx="202.0" cy="305.6" rx="6.38" ry="3.58" fill="url(#gb)" transform="rotate(33 202.0 305.6)"/>
<ellipse cx="203.0" cy="310.6" rx="5.22" ry="2.20" fill="url(#gr)" transform="rotate(33 203.0 310.6)"/>
<path d="M207.43 303.09C208.26 300.95 213.54 300.95 214.37 303.09C215.12 305.41 213.73 308.56 210.90 308.56C208.07 308.56 206.68 305.41 207.43 303.09Z" fill="url(#gr)"/>
<ellipse cx="211.6" cy="309.1" rx="2.20" ry="2.16" fill="url(#gb)"/>
<path d="M217.63 303.79C218.46 301.65 223.74 301.65 224.57 303.79C225.32 306.11 223.93 309.26 221.10 309.26C218.27 309.26 216.88 306.11 217.63 303.79Z" fill="url(#gb)"/>
<path d="M227.83 303.09C228.66 300.95 233.94 300.95 234.77 303.09C235.52 305.41 234.13 308.56 231.30 308.56C228.47 308.56 227.08 305.41 227.83 303.09Z" fill="url(#gr)"/>
<ellipse cx="231.3" cy="309.1" rx="2.20" ry="2.16" fill="url(#gb)"/>
<ellipse cx="240.0" cy="305.6" rx="6.38" ry="3.58" fill="url(#gb)" transform="rotate(-33 240.0 305.6)"/>
<ellipse cx="244.0" cy="300.0" rx="5.22" ry="2.75" fill="url(#gr)" transform="rotate(-25 244.0 300.0)"/>
<ellipse cx="239.0" cy="310.6" rx="5.22" ry="2.20" fill="url(#gr)" transform="rotate(-33 239.0 310.6)"/>
<ellipse cx="190.4" cy="305.4" rx="1.93" ry="1.89" fill="url(#gr)"/>
<ellipse cx="253.2" cy="305.4" rx="1.93" ry="1.89" fill="url(#gr)"/>
<ellipse cx="184.6" cy="315.7" rx="1.93" ry="1.62" fill="url(#gr)"/>
<ellipse cx="257.6" cy="315.7" rx="1.93" ry="1.62" fill="url(#gr)"/>
<ellipse cx="186.8" cy="292.3" rx="1.65" ry="1.62" fill="url(#gr)"/>
<ellipse cx="256.1" cy="291.6" rx="1.65" ry="1.62" fill="url(#gr)"/>
<ellipse cx="190.4" cy="301.8" rx="1.65" ry="1.62" fill="url(#gb)"/>
<ellipse cx="253.2" cy="301.8" rx="1.65" ry="1.62" fill="url(#gb)"/>
<ellipse cx="184.6" cy="313.5" rx="1.65" ry="1.62" fill="url(#gb)"/>
<ellipse cx="257.6" cy="313.5" rx="1.65" ry="1.62" fill="url(#gb)"/>
<path d="M82.4 326.9L86.8 328.8M86.8 328.8L91.8 329.8M86.8 328.8L84.9 332.8M86.8 328.8L90.3 324.4M91.8 329.8L94.2 325.4M91.8 329.8L96.7 339.7M90.8 342.6L90.8 349.0M90.8 349.0L95.7 352.4M95.7 352.4L101.6 349.0M101.6 349.0L101.1 342.6M101.1 342.6L96.7 339.7M96.7 339.7L90.8 342.6M90.8 342.6L86.8 340.6M90.8 349.0L86.8 351.4M95.7 352.4L95.7 356.9M101.6 349.0L106.0 351.9M101.1 342.6L108.6 338.0M103.6 334.5L108.6 338.0M103.6 334.5L101.1 324.9M103.6 334.5L111.4 330.3M96.7 339.7L103.6 334.5M166.2 326.9L161.8 328.8M161.8 328.8L156.8 329.8M161.8 328.8L163.7 332.8M161.8 328.8L158.3 324.4M156.8 329.8L154.4 325.4M156.8 329.8L151.9 339.7M157.8 342.6L157.8 349.0M157.8 349.0L152.9 352.4M152.9 352.4L147.0 349.0M147.0 349.0L147.5 342.6M147.5 342.6L151.9 339.7M151.9 339.7L157.8 342.6M157.8 342.6L161.8 340.6M157.8 349.0L161.8 351.4M152.9 352.4L152.9 356.9M147.0 349.0L142.6 351.9M147.5 342.6L140.0 338.0M145.0 334.5L140.0 338.0M145.0 334.5L147.5 324.9M145.0 334.5L137.2 330.3M151.9 339.7L145.0 334.5M106.6 339.5L106.6 333.5M112.5 343.3L112.5 349.8M118.4 340.8L118.4 334.8M124.3 344.0L124.3 350.5M130.2 340.8L130.2 334.8M136.1 343.3L136.1 349.8M142.0 339.5L142.0 333.5M106.6 339.5L112.5 343.3M112.5 343.3L118.4 340.8M118.4 340.8L124.3 344.0M124.3 344.0L130.2 340.8M130.2 340.8L136.1 343.3M136.1 343.3L142.0 339.5M118.3 345.0L118.8 350.5M118.8 350.5L124.3 353.0M124.3 353.0L129.8 350.5M129.8 350.5L130.3 345.0M118.8 350.5L114.3 352.0M124.3 353.0L124.3 357.5M129.8 350.5L134.3 352.0M124.3 353.0L120.8 356.5M124.3 353.0L127.8 356.5" stroke="#8e8e8e" stroke-width="1.35" fill="none" stroke-linecap="round"/>
<circle cx="86.8" cy="328.8" r="2.3" fill="url(#gc)"/>
<circle cx="91.8" cy="329.8" r="2.3" fill="url(#gc)"/>
<circle cx="90.3" cy="324.4" r="2.3" fill="url(#gc)"/>
<circle cx="82.4" cy="326.9" r="1.5" fill="url(#gh)"/>
<circle cx="94.2" cy="325.4" r="1.5" fill="url(#gh)"/>
<circle cx="84.9" cy="332.8" r="1.5" fill="url(#gh)"/>
<circle cx="90.8" cy="342.6" r="2.3" fill="url(#gc)"/>
<circle cx="90.8" cy="349.0" r="2.3" fill="url(#gc)"/>
<circle cx="95.7" cy="352.4" r="2.3" fill="url(#gc)"/>
<circle cx="101.6" cy="349.0" r="2.3" fill="url(#gc)"/>
<circle cx="101.1" cy="342.6" r="2.3" fill="url(#gc)"/>
<circle cx="96.7" cy="339.7" r="2.2" fill="url(#gn)"/>
<circle cx="86.8" cy="340.6" r="1.5" fill="url(#gh)"/>
<circle cx="86.8" cy="351.4" r="1.5" fill="url(#gh)"/>
<circle cx="95.7" cy="356.9" r="1.5" fill="url(#gh)"/>
<circle cx="106.0" cy="351.9" r="1.5" fill="url(#gh)"/>
<circle cx="103.6" cy="334.5" r="2.3" fill="url(#gc)"/>
<circle cx="101.1" cy="324.9" r="1.5" fill="url(#gh)"/>
<circle cx="111.4" cy="330.3" r="1.5" fill="url(#gh)"/>
<circle cx="108.6" cy="338.0" r="2.3" fill="url(#gc)"/>
<circle cx="161.8" cy="328.8" r="2.3" fill="url(#gc)"/>
<circle cx="156.8" cy="329.8" r="2.3" fill="url(#gc)"/>
<circle cx="158.3" cy="324.4" r="2.3" fill="url(#gc)"/>
<circle cx="166.2" cy="326.9" r="1.5" fill="url(#gh)"/>
<circle cx="154.4" cy="325.4" r="1.5" fill="url(#gh)"/>
<circle cx="163.7" cy="332.8" r="1.5" fill="url(#gh)"/>
<circle cx="157.8" cy="342.6" r="2.3" fill="url(#gc)"/>
<circle cx="157.8" cy="349.0" r="2.3" fill="url(#gc)"/>
<circle cx="152.9" cy="352.4" r="2.3" fill="url(#gc)"/>
<circle cx="147.0" cy="349.0" r="2.3" fill="url(#gc)"/>
<circle cx="147.5" cy="342.6" r="2.3" fill="url(#gc)"/>
<circle cx="151.9" cy="339.7" r="2.2" fill="url(#gn)"/>
<circle cx="161.8" cy="340.6" r="1.5" fill="url(#gh)"/>
<circle cx="161.8" cy="351.4" r="1.5" fill="url(#gh)"/>
<circle cx="152.9" cy="356.9" r="1.5" fill="url(#gh)"/>
<circle cx="142.6" cy="351.9" r="1.5" fill="url(#gh)"/>
<circle cx="145.0" cy="334.5" r="2.3" fill="url(#gc)"/>
<circle cx="147.5" cy="324.9" r="1.5" fill="url(#gh)"/>
<circle cx="137.2" cy="330.3" r="1.5" fill="url(#gh)"/>
<circle cx="140.0" cy="338.0" r="2.3" fill="url(#gc)"/>
<circle cx="106.6" cy="339.5" r="2.3" fill="url(#gc)"/>
<circle cx="106.6" cy="333.5" r="1.5" fill="url(#gh)"/>
<circle cx="112.5" cy="343.3" r="2.3" fill="url(#gc)"/>
<circle cx="112.5" cy="349.8" r="1.5" fill="url(#gh)"/>
<circle cx="118.4" cy="340.8" r="2.3" fill="url(#gc)"/>
<circle cx="118.4" cy="334.8" r="1.5" fill="url(#gh)"/>
<circle cx="124.3" cy="344.0" r="2.3" fill="url(#gc)"/>
<circle cx="124.3" cy="350.5" r="1.5" fill="url(#gh)"/>
<circle cx="130.2" cy="340.8" r="2.3" fill="url(#gc)"/>
<circle cx="130.2" cy="334.8" r="1.5" fill="url(#gh)"/>
<circle cx="136.1" cy="343.3" r="2.3" fill="url(#gc)"/>
<circle cx="136.1" cy="349.8" r="1.5" fill="url(#gh)"/>
<circle cx="142.0" cy="339.5" r="2.3" fill="url(#gc)"/>
<circle cx="142.0" cy="333.5" r="1.5" fill="url(#gh)"/>
<circle cx="118.3" cy="345.0" r="2.3" fill="url(#gc)"/>
<circle cx="118.8" cy="350.5" r="2.3" fill="url(#gc)"/>
<circle cx="124.3" cy="353.0" r="2.3" fill="url(#gc)"/>
<circle cx="129.8" cy="350.5" r="2.3" fill="url(#gc)"/>
<circle cx="130.3" cy="345.0" r="2.3" fill="url(#gc)"/>
<circle cx="114.3" cy="352.0" r="1.5" fill="url(#gh)"/>
<circle cx="124.3" cy="357.5" r="1.5" fill="url(#gh)"/>
<circle cx="134.3" cy="352.0" r="1.5" fill="url(#gh)"/>
<circle cx="120.8" cy="356.5" r="1.5" fill="url(#gh)"/>
<circle cx="127.8" cy="356.5" r="1.5" fill="url(#gh)"/>
<line x1="125.4" y1="333.9" x2="125.4" y2="340.0" stroke="#7a7a7a" stroke-width="1.5"/>
<circle cx="125.4" cy="333.9" r="2" fill="url(#gg)"/>
<path d="M102.13 341.42C103.15 338.78 109.65 338.78 110.67 341.42C111.60 344.28 109.88 348.15 106.40 348.15C102.92 348.15 101.20 344.28 102.13 341.42Z" fill="url(#gr)"/>
<path d="M104.60 338.01C105.36 336.69 110.24 336.69 111.00 338.01C111.70 339.44 110.41 341.38 107.80 341.38C105.19 341.38 103.90 339.44 104.60 338.01Z" fill="url(#gb)"/>
<path d="M113.83 340.87C114.85 338.56 121.35 338.56 122.37 340.87C123.30 343.37 121.58 346.76 118.10 346.76C114.62 346.76 112.90 343.37 113.83 340.87Z" fill="url(#gb)"/>
<path d="M115.60 339.41C116.36 338.09 121.24 338.09 122.00 339.41C122.70 340.84 121.41 342.78 118.80 342.78C116.19 342.78 114.90 340.84 115.60 339.41Z" fill="url(#gr)"/>
<path d="M126.93 340.87C127.95 338.56 134.45 338.56 135.47 340.87C136.40 343.37 134.68 346.76 131.20 346.76C127.72 346.76 126.00 343.37 126.93 340.87Z" fill="url(#gr)"/>
<path d="M127.30 339.41C128.06 338.09 132.94 338.09 133.70 339.41C134.40 340.84 133.11 342.78 130.50 342.78C127.89 342.78 126.60 340.84 127.30 339.41Z" fill="url(#gb)"/>
<path d="M137.40 340.17C138.55 337.86 145.85 337.86 147.00 340.17C148.05 342.67 146.11 346.06 142.20 346.06C138.28 346.06 136.35 342.67 137.40 340.17Z" fill="url(#gb)"/>
<path d="M138.20 338.01C138.96 336.69 143.84 336.69 144.60 338.01C145.30 339.44 144.01 341.38 141.40 341.38C138.79 341.38 137.50 339.44 138.20 338.01Z" fill="url(#gr)"/>
<ellipse cx="102.0" cy="332.4" rx="4.64" ry="3.30" fill="url(#gb)" transform="rotate(20 102.0 332.4)"/>
<ellipse cx="101.3" cy="330.2" rx="3.48" ry="1.65" fill="url(#gr)" transform="rotate(20 101.3 330.2)"/>
<ellipse cx="92.5" cy="333.9" rx="2.20" ry="2.70" fill="url(#gr)"/>
<ellipse cx="92.5" cy="331.0" rx="1.65" ry="1.62" fill="url(#gb)"/>
<ellipse cx="148.0" cy="332.4" rx="4.64" ry="3.30" fill="url(#gr)" transform="rotate(-20 148.0 332.4)"/>
<ellipse cx="148.0" cy="330.2" rx="4.06" ry="1.65" fill="url(#gb)" transform="rotate(-20 148.0 330.2)"/>
<ellipse cx="156.8" cy="331.7" rx="2.20" ry="2.16" fill="url(#gr)"/>
<ellipse cx="157.5" cy="333.9" rx="1.65" ry="1.62" fill="url(#gb)"/>
<ellipse cx="153.1" cy="341.9" rx="2.75" ry="2.70" fill="url(#gr)"/>
<path d="M178.8 325.9L183.2 327.8M183.2 327.8L188.2 328.8M183.2 327.8L181.3 331.8M183.2 327.8L186.7 323.4M188.2 328.8L190.6 324.4M188.2 328.8L193.1 338.7M187.2 341.6L187.2 348.0M187.2 348.0L192.1 351.4M192.1 351.4L198.0 348.0M198.0 348.0L197.5 341.6M197.5 341.6L193.1 338.7M193.1 338.7L187.2 341.6M187.2 341.6L183.2 339.6M187.2 348.0L183.2 350.4M192.1 351.4L192.1 355.9M198.0 348.0L202.4 350.9M197.5 341.6L205.0 337.0M200.0 333.5L205.0 337.0M200.0 333.5L197.5 323.9M200.0 333.5L207.8 329.3M193.1 338.7L200.0 333.5M262.6 325.9L258.2 327.8M258.2 327.8L253.2 328.8M258.2 327.8L260.1 331.8M258.2 327.8L254.7 323.4M253.2 328.8L250.8 324.4M253.2 328.8L248.3 338.7M254.2 341.6L254.2 348.0M254.2 348.0L249.3 351.4M249.3 351.4L243.4 348.0M243.4 348.0L243.9 341.6M243.9 341.6L248.3 338.7M248.3 338.7L254.2 341.6M254.2 341.6L258.2 339.6M254.2 348.0L258.2 350.4M249.3 351.4L249.3 355.9M243.4 348.0L239.0 350.9M243.9 341.6L236.4 337.0M241.4 333.5L236.4 337.0M241.4 333.5L243.9 323.9M241.4 333.5L233.6 329.3M248.3 338.7L241.4 333.5M203.0 338.5L203.0 332.5M208.9 342.3L208.9 348.8M214.8 339.8L214.8 333.8M220.7 343.0L220.7 349.5M226.6 339.8L226.6 333.8M232.5 342.3L232.5 348.8M238.4 338.5L238.4 332.5M203.0 338.5L208.9 342.3M208.9 342.3L214.8 339.8M214.8 339.8L220.7 343.0M220.7 343.0L226.6 339.8M226.6 339.8L232.5 342.3M232.5 342.3L238.4 338.5M214.7 344.0L215.2 349.5M215.2 349.5L220.7 352.0M220.7 352.0L226.2 349.5M226.2 349.5L226.7 344.0M215.2 349.5L210.7 351.0M220.7 352.0L220.7 356.5M226.2 349.5L230.7 351.0M220.7 352.0L217.2 355.5M220.7 352.0L224.2 355.5" stroke="#8e8e8e" stroke-width="1.35" fill="none" stroke-linecap="round"/>
<circle cx="183.2" cy="327.8" r="2.3" fill="url(#gc)"/>
<circle cx="188.2" cy="328.8" r="2.3" fill="url(#gc)"/>
<circle cx="186.7" cy="323.4" r="2.3" fill="url(#gc)"/>
<circle cx="178.8" cy="325.9" r="1.5" fill="url(#gh)"/>
<circle cx="190.6" cy="324.4" r="1.5" fill="url(#gh)"/>
<circle cx="181.3" cy="331.8" r="1.5" fill="url(#gh)"/>
<circle cx="187.2" cy="341.6" r="2.3" fill="url(#gc)"/>
<circle cx="187.2" cy="348.0" r="2.3" fill="url(#gc)"/>
<circle cx="192.1" cy="351.4" r="2.3" fill="url(#gc)"/>
<circle cx="198.0" cy="348.0" r="2.3" fill="url(#gc)"/>
<circle cx="197.5" cy="341.6" r="2.3" fill="url(#gc)"/>
<circle cx="193.1" cy="338.7" r="2.2" fill="url(#gn)"/>
<circle cx="183.2" cy="339.6" r="1.5" fill="url(#gh)"/>
<circle cx="183.2" cy="350.4" r="1.5" fill="url(#gh)"/>
<circle cx="192.1" cy="355.9" r="1.5" fill="url(#gh)"/>
<circle cx="202.4" cy="350.9" r="1.5" fill="url(#gh)"/>
<circle cx="200.0" cy="333.5" r="2.3" fill="url(#gc)"/>
<circle cx="197.5" cy="323.9" r="1.5" fill="url(#gh)"/>
<circle cx="207.8" cy="329.3" r="1.5" fill="url(#gh)"/>
<circle cx="205.0" cy="337.0" r="2.3" fill="url(#gc)"/>
<circle cx="258.2" cy="327.8" r="2.3" fill="url(#gc)"/>
<circle cx="253.2" cy="328.8" r="2.3" fill="url(#gc)"/>
<circle cx="254.7" cy="323.4" r="2.3" fill="url(#gc)"/>
<circle cx="262.6" cy="325.9" r="1.5" fill="url(#gh)"/>
<circle cx="250.8" cy="324.4" r="1.5" fill="url(#gh)"/>
<circle cx="260.1" cy="331.8" r="1.5" fill="url(#gh)"/>
<circle cx="254.2" cy="341.6" r="2.3" fill="url(#gc)"/>
<circle cx="254.2" cy="348.0" r="2.3" fill="url(#gc)"/>
<circle cx="249.3" cy="351.4" r="2.3" fill="url(#gc)"/>
<circle cx="243.4" cy="348.0" r="2.3" fill="url(#gc)"/>
<circle cx="243.9" cy="341.6" r="2.3" fill="url(#gc)"/>
<circle cx="248.3" cy="338.7" r="2.2" fill="url(#gn)"/>
<circle cx="258.2" cy="339.6" r="1.5" fill="url(#gh)"/>
<circle cx="258.2" cy="350.4" r="1.5" fill="url(#gh)"/>
<circle cx="249.3" cy="355.9" r="1.5" fill="url(#gh)"/>
<circle cx="239.0" cy="350.9" r="1.5" fill="url(#gh)"/>
<circle cx="241.4" cy="333.5" r="2.3" fill="url(#gc)"/>
<circle cx="243.9" cy="323.9" r="1.5" fill="url(#gh)"/>
<circle cx="233.6" cy="329.3" r="1.5" fill="url(#gh)"/>
<circle cx="236.4" cy="337.0" r="2.3" fill="url(#gc)"/>
<circle cx="203.0" cy="338.5" r="2.3" fill="url(#gc)"/>
<circle cx="203.0" cy="332.5" r="1.5" fill="url(#gh)"/>
<circle cx="208.9" cy="342.3" r="2.3" fill="url(#gc)"/>
<circle cx="208.9" cy="348.8" r="1.5" fill="url(#gh)"/>
<circle cx="214.8" cy="339.8" r="2.3" fill="url(#gc)"/>
<circle cx="214.8" cy="333.8" r="1.5" fill="url(#gh)"/>
<circle cx="220.7" cy="343.0" r="2.3" fill="url(#gc)"/>
<circle cx="220.7" cy="349.5" r="1.5" fill="url(#gh)"/>
<circle cx="226.6" cy="339.8" r="2.3" fill="url(#gc)"/>
<circle cx="226.6" cy="333.8" r="1.5" fill="url(#gh)"/>
<circle cx="232.5" cy="342.3" r="2.3" fill="url(#gc)"/>
<circle cx="232.5" cy="348.8" r="1.5" fill="url(#gh)"/>
<circle cx="238.4" cy="338.5" r="2.3" fill="url(#gc)"/>
<circle cx="238.4" cy="332.5" r="1.5" fill="url(#gh)"/>
<circle cx="214.7" cy="344.0" r="2.3" fill="url(#gc)"/>
<circle cx="215.2" cy="349.5" r="2.3" fill="url(#gc)"/>
<circle cx="220.7" cy="352.0" r="2.3" fill="url(#gc)"/>
<circle cx="226.2" cy="349.5" r="2.3" fill="url(#gc)"/>
<circle cx="226.7" cy="344.0" r="2.3" fill="url(#gc)"/>
<circle cx="210.7" cy="351.0" r="1.5" fill="url(#gh)"/>
<circle cx="220.7" cy="356.5" r="1.5" fill="url(#gh)"/>
<circle cx="230.7" cy="351.0" r="1.5" fill="url(#gh)"/>
<circle cx="217.2" cy="355.5" r="1.5" fill="url(#gh)"/>
<circle cx="224.2" cy="355.5" r="1.5" fill="url(#gh)"/>
<line x1="221.8" y1="333.9" x2="221.8" y2="339.0" stroke="#7a7a7a" stroke-width="1.5"/>
<circle cx="221.8" cy="333.9" r="2" fill="url(#gg)"/>
<ellipse cx="197.7" cy="331.0" rx="4.06" ry="3.30" fill="url(#gr)" transform="rotate(20 197.7 331.0)"/>
<ellipse cx="198.5" cy="333.1" rx="4.06" ry="2.75" fill="url(#gb)" transform="rotate(20 198.5 333.1)"/>
<path d="M197.66 338.67C198.56 336.36 204.24 336.36 205.14 338.67C205.95 341.17 204.44 344.56 201.40 344.56C198.36 344.56 196.85 341.17 197.66 338.67Z" fill="url(#gb)"/>
<path d="M198.20 337.46C198.96 336.47 203.84 336.47 204.60 337.46C205.30 338.53 204.01 339.98 201.40 339.98C198.79 339.98 197.50 338.53 198.20 337.46Z" fill="url(#gr)"/>
<path d="M207.70 339.47C208.46 337.16 213.34 337.16 214.10 339.47C214.80 341.97 213.51 345.36 210.90 345.36C208.29 345.36 207.00 341.97 207.70 339.47Z" fill="url(#gr)"/>
<ellipse cx="210.9" cy="338.2" rx="2.75" ry="1.62" fill="url(#gb)"/>
<path d="M218.60 339.71C219.36 337.74 224.24 337.74 225.00 339.71C225.70 341.86 224.41 344.76 221.80 344.76C219.19 344.76 217.90 341.86 218.60 339.71Z" fill="url(#gb)"/>
<ellipse cx="221.8" cy="338.2" rx="2.75" ry="1.62" fill="url(#gr)"/>
<path d="M228.80 339.47C229.56 337.16 234.44 337.16 235.20 339.47C235.90 341.97 234.61 345.36 232.00 345.36C229.39 345.36 228.10 341.97 228.80 339.47Z" fill="url(#gr)"/>
<ellipse cx="232.0" cy="338.2" rx="2.75" ry="1.62" fill="url(#gb)"/>
<path d="M238.56 339.47C239.46 337.16 245.14 337.16 246.04 339.47C246.85 341.97 245.34 345.36 242.30 345.36C239.26 345.36 237.75 341.97 238.56 339.47Z" fill="url(#gb)"/>
<path d="M239.80 337.21C240.56 335.89 245.44 335.89 246.20 337.21C246.90 338.64 245.61 340.58 243.00 340.58C240.39 340.58 239.10 338.64 239.80 337.21Z" fill="url(#gr)"/>
<ellipse cx="246.6" cy="332.4" rx="4.64" ry="3.30" fill="url(#gr)" transform="rotate(-20 246.6 332.4)"/>
<ellipse cx="245.9" cy="329.5" rx="3.48" ry="1.65" fill="url(#gb)" transform="rotate(-20 245.9 329.5)"/>
<ellipse cx="249.6" cy="347.0" rx="2.20" ry="2.16" fill="url(#gr)"/>
<ellipse cx="254.7" cy="333.1" rx="2.75" ry="2.70" fill="url(#gb)"/>
<ellipse cx="189.7" cy="339.7" rx="2.20" ry="2.16" fill="url(#gr)"/>
<ellipse cx="189.7" cy="333.9" rx="2.75" ry="2.70" fill="url(#gb)"/>
<ellipse cx="194.1" cy="347.7" rx="2.20" ry="2.16" fill="url(#gr)"/>
<ellipse cx="183.9" cy="347.0" rx="2.20" ry="1.89" fill="url(#gb)"/>
<ellipse cx="259.8" cy="346.3" rx="2.20" ry="1.89" fill="url(#gb)"/>
<ellipse cx="259.0" cy="340.4" rx="2.20" ry="1.89" fill="url(#gr)"/>
<path d="M80.9 365.4L85.3 367.3M85.3 367.3L90.3 368.3M85.3 367.3L83.4 371.3M85.3 367.3L88.8 362.9M90.3 368.3L92.7 363.9M90.3 368.3L95.2 378.2M89.3 381.1L89.3 387.5M89.3 387.5L94.2 390.9M94.2 390.9L100.1 387.5M100.1 387.5L99.6 381.1M99.6 381.1L95.2 378.2M95.2 378.2L89.3 381.1M89.3 381.1L85.3 379.1M89.3 387.5L85.3 389.9M94.2 390.9L94.2 395.4M100.1 387.5L104.5 390.4M99.6 381.1L107.1 376.5M102.1 373.0L107.1 376.5M102.1 373.0L99.6 363.4M102.1 373.0L109.9 368.8M95.2 378.2L102.1 373.0M166.2 365.4L161.8 367.3M161.8 367.3L156.8 368.3M161.8 367.3L163.7 371.3M161.8 367.3L158.3 362.9M156.8 368.3L154.4 363.9M156.8 368.3L151.9 378.2M157.8 381.1L157.8 387.5M157.8 387.5L152.9 390.9M152.9 390.9L147.0 387.5M147.0 387.5L147.5 381.1M147.5 381.1L151.9 378.2M151.9 378.2L157.8 381.1M157.8 381.1L161.8 379.1M157.8 387.5L161.8 389.9M152.9 390.9L152.9 395.4M147.0 387.5L142.6 390.4M147.5 381.1L140.0 376.5M145.0 373.0L140.0 376.5M145.0 373.0L147.5 363.4M145.0 373.0L137.2 368.8M151.9 378.2L145.0 373.0M105.1 378.0L105.1 372.0M111.2 381.8L111.2 388.3M117.4 379.3L117.4 373.3M123.5 382.5L123.5 389.0M129.7 379.3L129.7 373.3M135.8 381.8L135.8 388.3M142.0 378.0L142.0 372.0M105.1 378.0L111.2 381.8M111.2 381.8L117.4 379.3M117.4 379.3L123.5 382.5M123.5 382.5L129.7 379.3M129.7 379.3L135.8 381.8M135.8 381.8L142.0 378.0M117.5 383.5L118.0 389.0M118.0 389.0L123.5 391.5M123.5 391.5L129.1 389.0M129.1 389.0L129.6 383.5M118.0 389.0L113.5 390.5M123.5 391.5L123.5 396.0M129.1 389.0L133.6 390.5M123.5 391.5L120.0 395.0M123.5 391.5L127.0 395.0" stroke="#8e8e8e" stroke-width="1.35" fill="none" stroke-linecap="round"/>
<circle cx="85.3" cy="367.3" r="2.3" fill="url(#gc)"/>
<circle cx="90.3" cy="368.3" r="2.3" fill="url(#gc)"/>
<circle cx="88.8" cy="362.9" r="2.3" fill="url(#gc)"/>
<circle cx="80.9" cy="365.4" r="1.5" fill="url(#gh)"/>
<circle cx="92.7" cy="363.9" r="1.5" fill="url(#gh)"/>
<circle cx="83.4" cy="371.3" r="1.5" fill="url(#gh)"/>
<circle cx="89.3" cy="381.1" r="2.3" fill="url(#gc)"/>
<circle cx="89.3" cy="387.5" r="2.3" fill="url(#gc)"/>
<circle cx="94.2" cy="390.9" r="2.3" fill="url(#gc)"/>
<circle cx="100.1" cy="387.5" r="2.3" fill="url(#gc)"/>
<circle cx="99.6" cy="381.1" r="2.3" fill="url(#gc)"/>
<circle cx="95.2" cy="378.2" r="2.2" fill="url(#gn)"/>
<circle cx="85.3" cy="379.1" r="1.5" fill="url(#gh)"/>
<circle cx="85.3" cy="389.9" r="1.5" fill="url(#gh)"/>
<circle cx="94.2" cy="395.4" r="1.5" fill="url(#gh)"/>
<circle cx="104.5" cy="390.4" r="1.5" fill="url(#gh)"/>
<circle cx="102.1" cy="373.0" r="2.3" fill="url(#gc)"/>
<circle cx="99.6" cy="363.4" r="1.5" fill="url(#gh)"/>
<circle cx="109.9" cy="368.8" r="1.5" fill="url(#gh)"/>
<circle cx="107.1" cy="376.5" r="2.3" fill="url(#gc)"/>
<circle cx="161.8" cy="367.3" r="2.3" fill="url(#gc)"/>
<circle cx="156.8" cy="368.3" r="2.3" fill="url(#gc)"/>
<circle cx="158.3" cy="362.9" r="2.3" fill="url(#gc)"/>
<circle cx="166.2" cy="365.4" r="1.5" fill="url(#gh)"/>
<circle cx="154.4" cy="363.9" r="1.5" fill="url(#gh)"/>
<circle cx="163.7" cy="371.3" r="1.5" fill="url(#gh)"/>
<circle cx="157.8" cy="381.1" r="2.3" fill="url(#gc)"/>
<circle cx="157.8" cy="387.5" r="2.3" fill="url(#gc)"/>
<circle cx="152.9" cy="390.9" r="2.3" fill="url(#gc)"/>
<circle cx="147.0" cy="387.5" r="2.3" fill="url(#gc)"/>
<circle cx="147.5" cy="381.1" r="2.3" fill="url(#gc)"/>
<circle cx="151.9" cy="378.2" r="2.2" fill="url(#gn)"/>
<circle cx="161.8" cy="379.1" r="1.5" fill="url(#gh)"/>
<circle cx="161.8" cy="389.9" r="1.5" fill="url(#gh)"/>
<circle cx="152.9" cy="395.4" r="1.5" fill="url(#gh)"/>
<circle cx="142.6" cy="390.4" r="1.5" fill="url(#gh)"/>
<circle cx="145.0" cy="373.0" r="2.3" fill="url(#gc)"/>
<circle cx="147.5" cy="363.4" r="1.5" fill="url(#gh)"/>
<circle cx="137.2" cy="368.8" r="1.5" fill="url(#gh)"/>
<circle cx="140.0" cy="376.5" r="2.3" fill="url(#gc)"/>
<circle cx="105.1" cy="378.0" r="2.3" fill="url(#gc)"/>
<circle cx="105.1" cy="372.0" r="1.5" fill="url(#gh)"/>
<circle cx="111.2" cy="381.8" r="2.3" fill="url(#gc)"/>
<circle cx="111.2" cy="388.3" r="1.5" fill="url(#gh)"/>
<circle cx="117.4" cy="379.3" r="2.3" fill="url(#gc)"/>
<circle cx="117.4" cy="373.3" r="1.5" fill="url(#gh)"/>
<circle cx="123.5" cy="382.5" r="2.3" fill="url(#gc)"/>
<circle cx="123.5" cy="389.0" r="1.5" fill="url(#gh)"/>
<circle cx="129.7" cy="379.3" r="2.3" fill="url(#gc)"/>
<circle cx="129.7" cy="373.3" r="1.5" fill="url(#gh)"/>
<circle cx="135.8" cy="381.8" r="2.3" fill="url(#gc)"/>
<circle cx="135.8" cy="388.3" r="1.5" fill="url(#gh)"/>
<circle cx="142.0" cy="378.0" r="2.3" fill="url(#gc)"/>
<circle cx="142.0" cy="372.0" r="1.5" fill="url(#gh)"/>
<circle cx="117.5" cy="383.5" r="2.3" fill="url(#gc)"/>
<circle cx="118.0" cy="389.0" r="2.3" fill="url(#gc)"/>
<circle cx="123.5" cy="391.5" r="2.3" fill="url(#gc)"/>
<circle cx="129.1" cy="389.0" r="2.3" fill="url(#gc)"/>
<circle cx="129.6" cy="383.5" r="2.3" fill="url(#gc)"/>
<circle cx="113.5" cy="390.5" r="1.5" fill="url(#gh)"/>
<circle cx="123.5" cy="396.0" r="1.5" fill="url(#gh)"/>
<circle cx="133.6" cy="390.5" r="1.5" fill="url(#gh)"/>
<circle cx="120.0" cy="395.0" r="1.5" fill="url(#gh)"/>
<circle cx="127.0" cy="395.0" r="1.5" fill="url(#gh)"/>
<line x1="124.6" y1="371.9" x2="124.6" y2="378.5" stroke="#7a7a7a" stroke-width="1.5"/>
<circle cx="124.6" cy="371.9" r="2" fill="url(#gg)"/>
<path d="M101.60 378.62C102.75 375.98 110.05 375.98 111.20 378.62C112.25 381.48 110.32 385.35 106.40 385.35C102.48 385.35 100.55 381.48 101.60 378.62Z" fill="url(#gb)"/>
<path d="M113.30 379.42C114.45 376.78 121.75 376.78 122.90 379.42C123.95 382.28 122.02 386.15 118.10 386.15C114.18 386.15 112.25 382.28 113.30 379.42Z" fill="url(#gr)"/>
<path d="M125.70 378.62C126.85 375.98 134.15 375.98 135.30 378.62C136.35 381.48 134.41 385.35 130.50 385.35C126.58 385.35 124.65 381.48 125.70 378.62Z" fill="url(#gb)"/>
<path d="M136.60 377.92C137.75 375.28 145.05 375.28 146.20 377.92C147.25 380.78 145.31 384.65 141.40 384.65C137.49 384.65 135.55 380.78 136.60 377.92Z" fill="url(#gr)"/>
<ellipse cx="101.3" cy="370.4" rx="5.22" ry="3.30" fill="url(#gr)" transform="rotate(20 101.3 370.4)"/>
<ellipse cx="93.2" cy="371.9" rx="2.75" ry="2.70" fill="url(#gb)"/>
<ellipse cx="147.3" cy="371.1" rx="5.22" ry="2.75" fill="url(#gb)" transform="rotate(-20 147.3 371.1)"/>
<ellipse cx="155.3" cy="371.9" rx="2.75" ry="2.70" fill="url(#gr)"/>
<ellipse cx="97.6" cy="381.4" rx="1.93" ry="1.89" fill="url(#gr)"/>
<ellipse cx="150.9" cy="381.4" rx="1.93" ry="1.89" fill="url(#gb)"/>
<ellipse cx="91.8" cy="389.4" rx="1.93" ry="1.62" fill="url(#gb)"/>
<ellipse cx="156.8" cy="389.4" rx="1.93" ry="1.62" fill="url(#gr)"/>
<path d="M178.1 364.4L182.5 366.3M182.5 366.3L187.5 367.3M182.5 366.3L180.6 370.3M182.5 366.3L186.0 361.9M187.5 367.3L189.9 362.9M187.5 367.3L192.4 377.2M186.5 380.1L186.5 386.5M186.5 386.5L191.4 389.9M191.4 389.9L197.3 386.5M197.3 386.5L196.8 380.1M196.8 380.1L192.4 377.2M192.4 377.2L186.5 380.1M186.5 380.1L182.5 378.1M186.5 386.5L182.5 388.9M191.4 389.9L191.4 394.4M197.3 386.5L201.7 389.4M196.8 380.1L204.3 375.5M199.3 372.0L204.3 375.5M199.3 372.0L196.8 362.4M199.3 372.0L207.1 367.8M192.4 377.2L199.3 372.0M264.8 364.4L260.4 366.3M260.4 366.3L255.4 367.3M260.4 366.3L262.3 370.3M260.4 366.3L256.9 361.9M255.4 367.3L253.0 362.9M255.4 367.3L250.5 377.2M256.4 380.1L256.4 386.5M256.4 386.5L251.5 389.9M251.5 389.9L245.6 386.5M245.6 386.5L246.1 380.1M246.1 380.1L250.5 377.2M250.5 377.2L256.4 380.1M256.4 380.1L260.4 378.1M256.4 386.5L260.4 388.9M251.5 389.9L251.5 394.4M245.6 386.5L241.2 389.4M246.1 380.1L238.6 375.5M243.6 372.0L238.6 375.5M243.6 372.0L246.1 362.4M243.6 372.0L235.8 367.8M250.5 377.2L243.6 372.0M202.3 377.0L202.3 371.0M208.7 380.8L208.7 387.3M215.1 378.3L215.1 372.3M221.5 381.5L221.5 388.0M227.8 378.3L227.8 372.3M234.2 380.8L234.2 387.3M240.6 377.0L240.6 371.0M202.3 377.0L208.7 380.8M208.7 380.8L215.1 378.3M215.1 378.3L221.5 381.5M221.5 381.5L227.8 378.3M227.8 378.3L234.2 380.8M234.2 380.8L240.6 377.0M215.5 382.5L216.0 388.0M216.0 388.0L221.5 390.5M221.5 390.5L227.0 388.0M227.0 388.0L227.5 382.5M216.0 388.0L211.5 389.5M221.5 390.5L221.5 395.0M227.0 388.0L231.5 389.5M221.5 390.5L218.0 394.0M221.5 390.5L225.0 394.0" stroke="#8e8e8e" stroke-width="1.35" fill="none" stroke-linecap="round"/>
<circle cx="182.5" cy="366.3" r="2.3" fill="url(#gc)"/>
<circle cx="187.5" cy="367.3" r="2.3" fill="url(#gc)"/>
<circle cx="186.0" cy="361.9" r="2.3" fill="url(#gc)"/>
<circle cx="178.1" cy="364.4" r="1.5" fill="url(#gh)"/>
<circle cx="189.9" cy="362.9" r="1.5" fill="url(#gh)"/>
<circle cx="180.6" cy="370.3" r="1.5" fill="url(#gh)"/>
<circle cx="186.5" cy="380.1" r="2.3" fill="url(#gc)"/>
<circle cx="186.5" cy="386.5" r="2.3" fill="url(#gc)"/>
<circle cx="191.4" cy="389.9" r="2.3" fill="url(#gc)"/>
<circle cx="197.3" cy="386.5" r="2.3" fill="url(#gc)"/>
<circle cx="196.8" cy="380.1" r="2.3" fill="url(#gc)"/>
<circle cx="192.4" cy="377.2" r="2.2" fill="url(#gn)"/>
<circle cx="182.5" cy="378.1" r="1.5" fill="url(#gh)"/>
<circle cx="182.5" cy="388.9" r="1.5" fill="url(#gh)"/>
<circle cx="191.4" cy="394.4" r="1.5" fill="url(#gh)"/>
<circle cx="201.7" cy="389.4" r="1.5" fill="url(#gh)"/>
<circle cx="199.3" cy="372.0" r="2.3" fill="url(#gc)"/>
<circle cx="196.8" cy="362.4" r="1.5" fill="url(#gh)"/>
<circle cx="207.1" cy="367.8" r="1.5" fill="url(#gh)"/>
<circle cx="204.3" cy="375.5" r="2.3" fill="url(#gc)"/>
<circle cx="260.4" cy="366.3" r="2.3" fill="url(#gc)"/>
<circle cx="255.4" cy="367.3" r="2.3" fill="url(#gc)"/>
<circle cx="256.9" cy="361.9" r="2.3" fill="url(#gc)"/>
<circle cx="264.8" cy="364.4" r="1.5" fill="url(#gh)"/>
<circle cx="253.0" cy="362.9" r="1.5" fill="url(#gh)"/>
<circle cx="262.3" cy="370.3" r="1.5" fill="url(#gh)"/>
<circle cx="256.4" cy="380.1" r="2.3" fill="url(#gc)"/>
<circle cx="256.4" cy="386.5" r="2.3" fill="url(#gc)"/>
<circle cx="251.5" cy="389.9" r="2.3" fill="url(#gc)"/>
<circle cx="245.6" cy="386.5" r="2.3" fill="url(#gc)"/>
<circle cx="246.1" cy="380.1" r="2.3" fill="url(#gc)"/>
<circle cx="250.5" cy="377.2" r="2.2" fill="url(#gn)"/>
<circle cx="260.4" cy="378.1" r="1.5" fill="url(#gh)"/>
<circle cx="260.4" cy="388.9" r="1.5" fill="url(#gh)"/>
<circle cx="251.5" cy="394.4" r="1.5" fill="url(#gh)"/>
<circle cx="241.2" cy="389.4" r="1.5" fill="url(#gh)"/>
<circle cx="243.6" cy="372.0" r="2.3" fill="url(#gc)"/>
<circle cx="246.1" cy="362.4" r="1.5" fill="url(#gh)"/>
<circle cx="235.8" cy="367.8" r="1.5" fill="url(#gh)"/>
<circle cx="238.6" cy="375.5" r="2.3" fill="url(#gc)"/>
<circle cx="202.3" cy="377.0" r="2.3" fill="url(#gc)"/>
<circle cx="202.3" cy="371.0" r="1.5" fill="url(#gh)"/>
<circle cx="208.7" cy="380.8" r="2.3" fill="url(#gc)"/>
<circle cx="208.7" cy="387.3" r="1.5" fill="url(#gh)"/>
<circle cx="215.1" cy="378.3" r="2.3" fill="url(#gc)"/>
<circle cx="215.1" cy="372.3" r="1.5" fill="url(#gh)"/>
<circle cx="221.5" cy="381.5" r="2.3" fill="url(#gc)"/>
<circle cx="221.5" cy="388.0" r="1.5" fill="url(#gh)"/>
<circle cx="227.8" cy="378.3" r="2.3" fill="url(#gc)"/>
<circle cx="227.8" cy="372.3" r="1.5" fill="url(#gh)"/>
<circle cx="234.2" cy="380.8" r="2.3" fill="url(#gc)"/>
<circle cx="234.2" cy="387.3" r="1.5" fill="url(#gh)"/>
<circle cx="240.6" cy="377.0" r="2.3" fill="url(#gc)"/>
<circle cx="240.6" cy="371.0" r="1.5" fill="url(#gh)"/>
<circle cx="215.5" cy="382.5" r="2.3" fill="url(#gc)"/>
<circle cx="216.0" cy="388.0" r="2.3" fill="url(#gc)"/>
<circle cx="221.5" cy="390.5" r="2.3" fill="url(#gc)"/>
<circle cx="227.0" cy="388.0" r="2.3" fill="url(#gc)"/>
<circle cx="227.5" cy="382.5" r="2.3" fill="url(#gc)"/>
<circle cx="211.5" cy="389.5" r="1.5" fill="url(#gh)"/>
<circle cx="221.5" cy="395.0" r="1.5" fill="url(#gh)"/>
<circle cx="231.5" cy="389.5" r="1.5" fill="url(#gh)"/>
<circle cx="218.0" cy="394.0" r="1.5" fill="url(#gh)"/>
<circle cx="225.0" cy="394.0" r="1.5" fill="url(#gh)"/>
<line x1="221.1" y1="371.9" x2="221.1" y2="377.5" stroke="#7a7a7a" stroke-width="1.5"/>
<circle cx="221.1" cy="371.9" r="2" fill="url(#gg)"/>
<path d="M197.13 377.92C198.15 375.28 204.65 375.28 205.67 377.92C206.60 380.78 204.88 384.65 201.40 384.65C197.92 384.65 196.20 380.78 197.13 377.92Z" fill="url(#gr)"/>
<path d="M207.86 377.47C208.76 375.16 214.44 375.16 215.34 377.47C216.15 379.97 214.64 383.36 211.60 383.36C208.56 383.36 207.05 379.97 207.86 377.47Z" fill="url(#gb)"/>
<path d="M218.06 377.92C218.96 375.28 224.64 375.28 225.54 377.92C226.35 380.78 224.84 384.65 221.80 384.65C218.76 384.65 217.25 380.78 218.06 377.92Z" fill="url(#gr)"/>
<path d="M227.56 377.47C228.46 375.16 234.14 375.16 235.04 377.47C235.85 379.97 234.34 383.36 231.30 383.36C228.26 383.36 226.75 379.97 227.56 377.47Z" fill="url(#gb)"/>
<path d="M237.23 377.47C238.25 375.16 244.75 375.16 245.77 377.47C246.70 379.97 244.98 383.36 241.50 383.36C238.02 383.36 236.30 379.97 237.23 377.47Z" fill="url(#gr)"/>
<ellipse cx="197.7" cy="370.4" rx="5.22" ry="3.30" fill="url(#gb)" transform="rotate(20 197.7 370.4)"/>
<ellipse cx="189.7" cy="371.9" rx="2.75" ry="2.70" fill="url(#gr)"/>
<ellipse cx="244.5" cy="370.4" rx="5.22" ry="3.30" fill="url(#gb)" transform="rotate(-20 244.5 370.4)"/>
<ellipse cx="253.2" cy="371.9" rx="2.75" ry="2.70" fill="url(#gr)"/>
<ellipse cx="184.6" cy="387.2" rx="1.93" ry="1.89" fill="url(#gr)"/>
<ellipse cx="258.3" cy="386.5" rx="1.93" ry="1.89" fill="url(#gr)"/>
<ellipse cx="194.8" cy="387.2" rx="1.93" ry="1.62" fill="url(#gb)"/>
<ellipse cx="248.8" cy="387.2" rx="1.93" ry="1.62" fill="url(#gb)"/>
</g>
<g font-family='"Liberation Sans", sans-serif'>
<text x="356" y="30.1" font-size="11.5" font-weight="bold">B.</text>
<path d="M404.4 18H410.5V153.7H684" stroke="#000" stroke-width="2" fill="none"/>
<line x1="404.4" y1="18.0" x2="410" y2="18.0" stroke="#000" stroke-width="2"/>
<text x="403.6" y="21.6" font-size="10" font-weight="bold" text-anchor="end">-1</text>
<line x1="404.4" y1="48.2" x2="410" y2="48.2" stroke="#000" stroke-width="2"/>
<text x="403.6" y="51.9" font-size="10" font-weight="bold" text-anchor="end">-2</text>
<line x1="404.4" y1="78.5" x2="410" y2="78.5" stroke="#000" stroke-width="2"/>
<text x="403.6" y="82.1" font-size="10" font-weight="bold" text-anchor="end">-3</text>
<line x1="404.4" y1="108.8" x2="410" y2="108.8" stroke="#000" stroke-width="2"/>
<text x="403.6" y="112.3" font-size="10" font-weight="bold" text-anchor="end">-4</text>
<line x1="404.4" y1="139.0" x2="410" y2="139.0" stroke="#000" stroke-width="2"/>
<text x="403.6" y="142.6" font-size="10" font-weight="bold" text-anchor="end">-5</text>
<line x1="427.9" y1="153" x2="427.9" y2="159.8" stroke="#000" stroke-width="2"/>
<line x1="454.3" y1="153" x2="454.3" y2="159.8" stroke="#000" stroke-width="2"/>
<line x1="480.8" y1="153" x2="480.8" y2="159.8" stroke="#000" stroke-width="2"/>
<line x1="507.2" y1="153" x2="507.2" y2="159.8" stroke="#000" stroke-width="2"/>
<line x1="533.7" y1="153" x2="533.7" y2="159.8" stroke="#000" stroke-width="2"/>
<line x1="560.1" y1="153" x2="560.1" y2="159.8" stroke="#000" stroke-width="2"/>
<line x1="586.5" y1="153" x2="586.5" y2="159.8" stroke="#000" stroke-width="2"/>
<line x1="613.0" y1="153" x2="613.0" y2="159.8" stroke="#000" stroke-width="2"/>
<line x1="639.4" y1="153" x2="639.4" y2="159.8" stroke="#000" stroke-width="2"/>
<line x1="665.9" y1="153" x2="665.9" y2="159.8" stroke="#000" stroke-width="2"/>
<text transform="translate(431.4 169.3) rotate(-45)" font-size="10.4" font-weight="bold" text-anchor="end">Cy5</text>
<text transform="translate(457.8 169.3) rotate(-45)" font-size="10.4" font-weight="bold" text-anchor="end">QuCy5OH</text>
<text transform="translate(484.3 169.3) rotate(-45)" font-size="10.4" font-weight="bold" text-anchor="end">QuCy5Me</text>
<text transform="translate(510.7 169.3) rotate(-45)" font-size="10.4" font-weight="bold" text-anchor="end">Cy7L</text>
<text transform="translate(537.2 169.3) rotate(-45)" font-size="10.4" font-weight="bold" text-anchor="end">JAM319</text>
<text transform="translate(563.6 169.3) rotate(-45)" font-size="10.4" font-weight="bold" text-anchor="end">JAP334</text>
<text transform="translate(590.0 169.3) rotate(-45)" font-size="10.4" font-weight="bold" text-anchor="end">Cy7C</text>
<text transform="translate(616.5 169.3) rotate(-45)" font-size="10.4" font-weight="bold" text-anchor="end">JAM318</text>
<text transform="translate(642.9 169.3) rotate(-45)" font-size="10.4" font-weight="bold" text-anchor="end">JAP331</text>
<text transform="translate(669.4 169.3) rotate(-45)" font-size="10.4" font-weight="bold" text-anchor="end">JAM317</text>
<text transform="translate(387.5 85.7) rotate(-90)" font-size="11.3" font-weight="bold" text-anchor="middle">Energy (eV)</text>
<rect x="421" y="24" width="13.3" height="3" fill="#ff1f1f"/>
<rect x="421" y="41.2" width="13.3" height="3" fill="#1414ff"/>
<text x="443.3" y="29.6" font-size="11" letter-spacing="-0.5">LUMO</text>
<text x="443.3" y="46.4" font-size="11" letter-spacing="-0.5">HOMO</text>
<rect x="421.1" y="65.1" width="13.6" height="2.8" fill="#ff1f1f"/>
<rect x="421.1" y="141.1" width="13.6" height="2.8" fill="#1414ff"/>
<path d="M427.9 68.8L430.7 74.8L425.1 74.8Z" fill="#000"/>
<line x1="427.9" y1="73.8" x2="427.9" y2="92.4" stroke="#222" stroke-width="1"/>
<line x1="427.9" y1="109.2" x2="427.9" y2="140.5" stroke="#222" stroke-width="1"/>
<text transform="translate(427.7 104.0) scale(0.88 1)" font-size="8.3" text-anchor="middle">2.51</text>
<rect x="447.5" y="68.2" width="13.6" height="2.8" fill="#ff1f1f"/>
<rect x="447.5" y="130.0" width="13.6" height="2.8" fill="#1414ff"/>
<path d="M454.3 71.9L457.1 77.9L451.5 77.9Z" fill="#000"/>
<line x1="454.3" y1="76.9" x2="454.3" y2="92.2" stroke="#222" stroke-width="1"/>
<line x1="454.3" y1="109.0" x2="454.3" y2="129.4" stroke="#222" stroke-width="1"/>
<text transform="translate(454.1 103.8) scale(0.88 1)" font-size="8.3" text-anchor="middle">2.06</text>
<rect x="474.0" y="68.3" width="13.6" height="2.8" fill="#ff1f1f"/>
<rect x="474.0" y="130.2" width="13.6" height="2.8" fill="#1414ff"/>
<path d="M480.8 72.0L483.6 78.0L478.0 78.0Z" fill="#000"/>
<line x1="480.8" y1="77.0" x2="480.8" y2="92.2" stroke="#222" stroke-width="1"/>
<line x1="480.8" y1="109.0" x2="480.8" y2="129.6" stroke="#222" stroke-width="1"/>
<text transform="translate(480.6 103.8) scale(0.88 1)" font-size="8.3" text-anchor="middle">2.06</text>
<rect x="500.4" y="69.0" width="13.6" height="2.8" fill="#ff1f1f"/>
<rect x="500.4" y="135.8" width="13.6" height="2.8" fill="#1414ff"/>
<path d="M507.2 72.7L510.0 78.7L504.4 78.7Z" fill="#000"/>
<line x1="507.2" y1="77.7" x2="507.2" y2="94.6" stroke="#222" stroke-width="1"/>
<line x1="507.2" y1="111.4" x2="507.2" y2="135.2" stroke="#222" stroke-width="1"/>
<text transform="translate(507.0 106.2) scale(0.88 1)" font-size="8.3" text-anchor="middle">2.22</text>
<rect x="526.9" y="69.9" width="13.6" height="2.8" fill="#ff1f1f"/>
<rect x="526.9" y="126.2" width="13.6" height="2.8" fill="#1414ff"/>
<path d="M533.7 73.6L536.5 79.6L530.9 79.6Z" fill="#000"/>
<line x1="533.7" y1="78.6" x2="533.7" y2="93.4" stroke="#222" stroke-width="1"/>
<line x1="533.7" y1="110.2" x2="533.7" y2="125.6" stroke="#222" stroke-width="1"/>
<text transform="translate(533.5 105.0) scale(0.88 1)" font-size="8.3" text-anchor="middle">1.86</text>
<rect x="553.3" y="69.9" width="13.6" height="2.8" fill="#ff1f1f"/>
<rect x="553.3" y="126.2" width="13.6" height="2.8" fill="#1414ff"/>
<path d="M560.1 73.6L562.9 79.6L557.3 79.6Z" fill="#000"/>
<line x1="560.1" y1="78.6" x2="560.1" y2="94.8" stroke="#222" stroke-width="1"/>
<line x1="560.1" y1="111.6" x2="560.1" y2="125.6" stroke="#222" stroke-width="1"/>
<text transform="translate(559.9 106.4) scale(0.88 1)" font-size="8.3" text-anchor="middle">1.86</text>
<rect x="579.7" y="72.7" width="13.6" height="2.8" fill="#ff1f1f"/>
<rect x="579.7" y="135.8" width="13.6" height="2.8" fill="#1414ff"/>
<path d="M586.5 76.4L589.3 82.4L583.7 82.4Z" fill="#000"/>
<line x1="586.5" y1="81.4" x2="586.5" y2="96.1" stroke="#222" stroke-width="1"/>
<line x1="586.5" y1="112.9" x2="586.5" y2="135.2" stroke="#222" stroke-width="1"/>
<text transform="translate(586.3 107.7) scale(0.88 1)" font-size="8.3" text-anchor="middle">2.08</text>
<rect x="606.2" y="72.6" width="13.6" height="2.8" fill="#ff1f1f"/>
<rect x="606.2" y="126.2" width="13.6" height="2.8" fill="#1414ff"/>
<path d="M613.0 76.3L615.8 82.3L610.2 82.3Z" fill="#000"/>
<line x1="613.0" y1="81.3" x2="613.0" y2="94.5" stroke="#222" stroke-width="1"/>
<line x1="613.0" y1="111.3" x2="613.0" y2="125.6" stroke="#222" stroke-width="1"/>
<text transform="translate(612.8 106.1) scale(0.88 1)" font-size="8.3" text-anchor="middle">1.77</text>
<rect x="632.6" y="73.5" width="13.6" height="2.8" fill="#ff1f1f"/>
<rect x="632.6" y="126.5" width="13.6" height="2.8" fill="#1414ff"/>
<path d="M639.4 77.2L642.2 83.2L636.6 83.2Z" fill="#000"/>
<line x1="639.4" y1="82.2" x2="639.4" y2="96.4" stroke="#222" stroke-width="1"/>
<line x1="639.4" y1="113.2" x2="639.4" y2="125.9" stroke="#222" stroke-width="1"/>
<text transform="translate(639.2 108.0) scale(0.88 1)" font-size="8.3" text-anchor="middle">1.76</text>
<rect x="659.1" y="72.7" width="13.6" height="2.8" fill="#ff1f1f"/>
<rect x="659.1" y="126.5" width="13.6" height="2.8" fill="#1414ff"/>
<path d="M665.9 76.4L668.7 82.4L663.1 82.4Z" fill="#000"/>
<line x1="665.9" y1="81.4" x2="665.9" y2="96.4" stroke="#222" stroke-width="1"/>
<line x1="665.9" y1="113.2" x2="665.9" y2="125.9" stroke="#222" stroke-width="1"/>
<text transform="translate(665.7 108.0) scale(0.88 1)" font-size="8.3" text-anchor="middle">1.76</text>
</g>
<g font-family='"Liberation Sans", sans-serif'>
<text x="358" y="232.1" font-size="11.5" font-weight="bold">C.</text>
<path d="M408.2 225H414V359H684" stroke="#000" stroke-width="2" fill="none"/>
<line x1="408.2" y1="225.0" x2="413" y2="225.0" stroke="#000" stroke-width="2"/>
<text x="406.6" y="228.6" font-size="10" font-weight="bold" text-anchor="end">2.6</text>
<line x1="408.2" y1="251.8" x2="413" y2="251.8" stroke="#000" stroke-width="2"/>
<text x="406.6" y="255.4" font-size="10" font-weight="bold" text-anchor="end">2.4</text>
<line x1="408.2" y1="278.6" x2="413" y2="278.6" stroke="#000" stroke-width="2"/>
<text x="406.6" y="282.2" font-size="10" font-weight="bold" text-anchor="end">2.2</text>
<line x1="408.2" y1="305.4" x2="413" y2="305.4" stroke="#000" stroke-width="2"/>
<text x="406.6" y="309.0" font-size="10" font-weight="bold" text-anchor="end">2.0</text>
<line x1="408.2" y1="332.2" x2="413" y2="332.2" stroke="#000" stroke-width="2"/>
<text x="406.6" y="335.8" font-size="10" font-weight="bold" text-anchor="end">1.8</text>
<line x1="408.2" y1="359.0" x2="413" y2="359.0" stroke="#000" stroke-width="2"/>
<text x="406.6" y="362.6" font-size="10" font-weight="bold" text-anchor="end">1.6</text>
<line x1="431.2" y1="358" x2="431.2" y2="365.2" stroke="#000" stroke-width="2"/>
<line x1="457.2" y1="358" x2="457.2" y2="365.2" stroke="#000" stroke-width="2"/>
<line x1="483.2" y1="358" x2="483.2" y2="365.2" stroke="#000" stroke-width="2"/>
<line x1="509.3" y1="358" x2="509.3" y2="365.2" stroke="#000" stroke-width="2"/>
<line x1="535.3" y1="358" x2="535.3" y2="365.2" stroke="#000" stroke-width="2"/>
<line x1="561.3" y1="358" x2="561.3" y2="365.2" stroke="#000" stroke-width="2"/>
<line x1="587.3" y1="358" x2="587.3" y2="365.2" stroke="#000" stroke-width="2"/>
<line x1="613.3" y1="358" x2="613.3" y2="365.2" stroke="#000" stroke-width="2"/>
<line x1="639.4" y1="358" x2="639.4" y2="365.2" stroke="#000" stroke-width="2"/>
<line x1="665.4" y1="358" x2="665.4" y2="365.2" stroke="#000" stroke-width="2"/>
<text transform="translate(434.7 373.8) rotate(-45)" font-size="10.4" font-weight="bold" text-anchor="end">Cy5</text>
<text transform="translate(460.7 373.8) rotate(-45)" font-size="10.4" font-weight="bold" text-anchor="end">QuCy5OH</text>
<text transform="translate(486.7 373.8) rotate(-45)" font-size="10.4" font-weight="bold" text-anchor="end">QuCy5Me</text>
<text transform="translate(512.8 373.8) rotate(-45)" font-size="10.4" font-weight="bold" text-anchor="end">Cy7L</text>
<text transform="translate(538.8 373.8) rotate(-45)" font-size="10.4" font-weight="bold" text-anchor="end">JAM319</text>
<text transform="translate(564.8 373.8) rotate(-45)" font-size="10.4" font-weight="bold" text-anchor="end">JAP334</text>
<text transform="translate(590.8 373.8) rotate(-45)" font-size="10.4" font-weight="bold" text-anchor="end">Cy7C</text>
<text transform="translate(616.8 373.8) rotate(-45)" font-size="10.4" font-weight="bold" text-anchor="end">JAM318</text>
<text transform="translate(642.9 373.8) rotate(-45)" font-size="10.4" font-weight="bold" text-anchor="end">JAP331</text>
<text transform="translate(668.9 373.8) rotate(-45)" font-size="10.4" font-weight="bold" text-anchor="end">JAM317</text>
<text transform="translate(387.6 291.8) rotate(-90)" font-size="11" font-weight="bold" text-anchor="middle">Bandgap (eV)</text>
<path d="M431.2 237.1L457.2 297.4L483.2 297.4L509.3 275.9" stroke="#1414ff" stroke-width="1.5" fill="none"/>
<path d="M509.3 275.9L535.3 324.2L561.3 324.2L587.3 294.7" stroke="#ff1f1f" stroke-width="1.5" fill="none"/>
<path d="M587.3 294.7L613.3 336.2L639.4 337.6L665.4 337.6" stroke="#1f6a1f" stroke-width="1.5" fill="none"/>
<circle cx="431.2" cy="237.1" r="2.7" fill="#1414ff"/>
<rect x="454.5" y="294.7" width="5.4" height="5.4" fill="#1414ff"/>
<rect x="480.5" y="294.7" width="5.4" height="5.4" fill="#1414ff"/>
<circle cx="509.3" cy="275.9" r="2.7" fill="#ff1f1f"/>
<rect x="532.6" y="321.5" width="5.4" height="5.4" fill="#ff1f1f"/>
<rect x="558.6" y="321.5" width="5.4" height="5.4" fill="#ff1f1f"/>
<circle cx="587.3" cy="294.7" r="2.7" fill="#1f6a1f"/>
<rect x="610.6" y="333.5" width="5.4" height="5.4" fill="#1f6a1f"/>
<rect x="636.7" y="334.9" width="5.4" height="5.4" fill="#1f6a1f"/>
<rect x="662.7" y="334.9" width="5.4" height="5.4" fill="#1f6a1f"/>
</g>
</svg>
</body></html>
